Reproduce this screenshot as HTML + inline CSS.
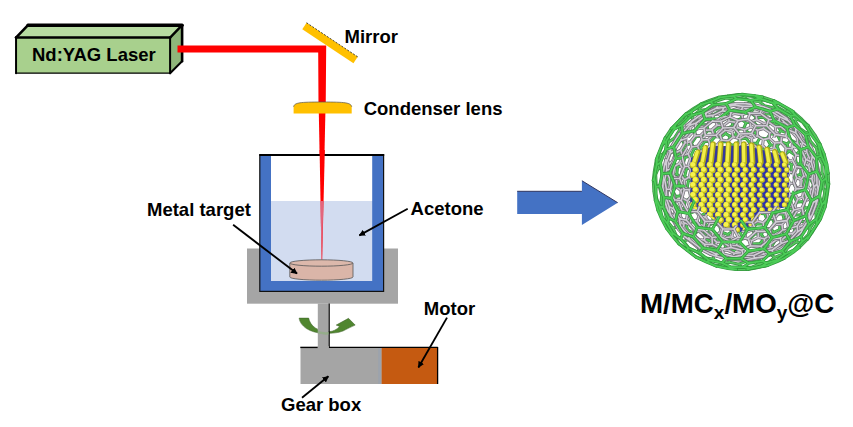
<!DOCTYPE html>
<html><head><meta charset="utf-8">
<style>
html,body{margin:0;padding:0;background:#fff;}
body{width:853px;height:427px;overflow:hidden;}
svg{display:block;}
text{font-family:"Liberation Sans",sans-serif;font-weight:bold;fill:#000;}
</style></head><body>
<svg width="853" height="427" viewBox="0 0 853 427">
<defs>
<marker id="ah" viewBox="0 0 10 10" refX="9" refY="5" markerWidth="3.5" markerHeight="3.5" orient="auto" markerUnits="strokeWidth">
<path d="M0,0 L10,5 L0,10 Z" fill="#000"/>
</marker>
</defs>
<!-- Laser box -->
<polygon points="16,37.6 28,25.2 182.1,25.2 170.1,37.6" fill="#B7DBA1"/>
<polygon points="170.1,37.6 182.1,25.2 182.1,61.2 170.1,73.2" fill="#8FB67A"/>
<rect x="16" y="37.6" width="154.1" height="35.6" fill="#A8D08D"/>
<g stroke="#000" fill="none" stroke-linecap="round">
<line x1="16.05" y1="37.6" x2="16.05" y2="73.2" stroke-width="2"/>
<line x1="16" y1="73.2" x2="170.1" y2="73.2" stroke-width="1.3"/>
<line x1="16" y1="37.6" x2="170.1" y2="37.6" stroke-width="2.5"/>
<line x1="170.1" y1="37.6" x2="170.1" y2="73.2" stroke-width="2"/>
<line x1="28" y1="25.2" x2="182.1" y2="25.2" stroke-width="3.4"/>
<line x1="182.1" y1="25.2" x2="182.1" y2="61.2" stroke-width="2.6"/>
<line x1="16" y1="37.6" x2="28" y2="25.2" stroke-width="2.6" stroke-linecap="round"/>
<line x1="170.1" y1="37.6" x2="182.1" y2="25.2" stroke-width="2.4" stroke-linecap="round"/>
<line x1="170.1" y1="73.2" x2="182.1" y2="61.2" stroke-width="2" stroke-linecap="round"/>
</g>
<text x="32" y="60.5" font-size="18.5">Nd:YAG Laser</text>
<!-- beam horizontal and vertical -->
<polygon points="177.5,45.6 326.2,45.6 325.7,107 318.5,107 318.2,52.4 177.5,52.4" fill="#FF0000"/>
<!-- mirror -->
<g transform="translate(330,43) rotate(33.7)">
<rect x="-30.75" y="-3.85" width="61.5" height="7.7" fill="#FFC000"/>
<line x1="-30.75" y1="-3.85" x2="30.75" y2="-3.85" stroke="#333" stroke-width="0.8" stroke-dasharray="2,1.5"/>
</g>
<text x="344.5" y="43.4" font-size="18.5">Mirror</text>
<!-- beam below lens -->
<polygon points="318.8,112 325.4,112 322.1,262 321.6,262" fill="#FF0000"/>
<!-- lens -->
<path d="M293.6,113.6 L293.6,106.8 C294.3,102.6 300,102 322.6,102 C345,102 351,102.6 351.7,106.8 L351.7,113.6 Z" fill="#FFC000"/>
<path d="M293.6,106.8 C294.3,102.6 300,102 322.6,102 C345,102 351,102.6 351.7,106.8" fill="none" stroke="#555" stroke-width="0.7"/>
<text x="363.7" y="114.9" font-size="18.5">Condenser lens</text>

<!-- stage -->
<rect x="247" y="248.5" width="151" height="55.2" fill="#A5A5A5"/>
<!-- green curved arrow -->
<path d="M299.1,318.1 L308.7,318.1 C309.3,321.5 311.5,325.5 315.3,327.9 C318.5,330 323,331 329.3,331.6 C333,331.4 336.5,329.8 339.6,326.4 L336.2,325.1 L348.5,318.3 L355.2,325.1 C351,326.6 347.5,329 343,331 C338,332.8 333,333.4 325,333.4 C317,333.3 311,331.5 306.5,328.6 C302,325.5 299.6,322 299.1,318.1 Z" fill="#50862F" stroke="#3d5f28" stroke-width="0.5"/>
<!-- shaft -->
<rect x="317.8" y="303.6" width="11" height="44" fill="#A5A5A5"/>
<line x1="329.2" y1="303.6" x2="329.2" y2="347" stroke="#000" stroke-width="1.2"/>
<path d="M317.8,330.6 C321,332 325,332.4 328.7,332 L328.7,334.6 C325,335 321,334.8 317.8,333.6 Z" fill="#8FAF80" opacity="0.7"/>

<!-- beaker -->
<rect x="259.8" y="154.8" width="123.8" height="136.6" fill="#4472C4" stroke="#111" stroke-width="1.2"/>
<rect x="271" y="156" width="101.2" height="45" fill="#fff"/>
<rect x="271" y="201" width="101.2" height="80" fill="#D2DCF0"/>
<line x1="259.3" y1="155" x2="384.2" y2="155" stroke="#000" stroke-width="2"/>
<!-- beam through liquid -->
<polygon points="319.6,150 324.8,150 322.1,262 321.6,262" fill="#FF0000"/>
<polygon points="320.4,201 323.3,201 322.1,262 321.6,262" fill="#E0708A" opacity="0.9"/>
<!-- metal target -->
<path d="M289.8,263 L289.8,277 A31.6,3.2 0 0 0 353,277 L353,263" fill="#DAB5A8" stroke="#555" stroke-width="0.8"/>
<ellipse cx="321.4" cy="263" rx="31.6" ry="3.2" fill="#DCB8AB" stroke="#555" stroke-width="0.8"/>

<!-- arrows -->
<line x1="233.1" y1="224.8" x2="297" y2="273.6" stroke="#000" stroke-width="1.85" marker-end="url(#ah)"/>
<line x1="407.7" y1="208.8" x2="359.3" y2="235.4" stroke="#000" stroke-width="1.85" marker-end="url(#ah)"/>
<text x="147" y="215.8" font-size="18.5">Metal target</text>
<text x="410.6" y="214.7" font-size="18.5">Acetone</text>

<!-- gear box & motor -->
<rect x="300.5" y="347.5" width="81" height="36.5" fill="#A5A5A5"/>
<rect x="378.2" y="347.5" width="3.5" height="36.5" fill="#9CA3AD"/>
<rect x="381.6" y="347.5" width="56" height="36.5" fill="#C55A11"/>
<line x1="300.3" y1="347.4" x2="317.8" y2="347.4" stroke="#000" stroke-width="1.4"/>
<line x1="328.7" y1="347.4" x2="437.8" y2="347.4" stroke="#000" stroke-width="1.4"/>
<line x1="437.6" y1="347" x2="437.6" y2="384" stroke="#000" stroke-width="1.3"/>
<rect x="317.8" y="346" width="11" height="3" fill="#A5A5A5"/>


<line x1="447" y1="317.6" x2="418.4" y2="367.5" stroke="#000" stroke-width="1.85" marker-end="url(#ah)"/>
<line x1="302" y1="397.8" x2="328.4" y2="376.3" stroke="#000" stroke-width="1.85" marker-end="url(#ah)"/>
<text x="423.8" y="315" font-size="18.5">Motor</text>
<text x="281" y="410.6" font-size="18.5">Gear box</text>

<!-- big blue arrow -->
<polygon points="517.2,191.3 581.9,191.3 581.9,180.7 617.7,202.7 581.9,225.1 581.9,213.9 517.2,213.9" fill="#4472C4"/>
<polyline points="517.2,191.3 581.9,191.3" fill="none" stroke="#2F3560" stroke-width="1"/>
<polyline points="581.9,180.7 617.7,202.7" fill="none" stroke="#2F3560" stroke-width="1"/>

<!-- SPHERE -->
<g id="sphere"><defs>
<clipPath id="cpG"><path clip-rule="evenodd" d="M600,60 H860 V300 H600 Z M681,167 a59,53 0 1 0 118,0 a59,53 0 1 0 -118,0 Z"/></clipPath>
<clipPath id="cpS"><path clip-rule="evenodd" d="M600,60 H860 V300 H600 Z M688,138 L792,138 L792,203 L762,209 L750,220 L738,226 L722,220 L705,208 L688,203 Z"/></clipPath>
<clipPath id="cpCube"><polygon points="690,154 712,141 748,141 789,153 789,206 762,213 752,225 738,233 722,226 705,213 690,207"/></clipPath>
</defs>
<path d="M686.0,113.7L693.9,108.2 M686.0,113.7L681.7,118.0 M776.0,106.3L771.9,107.5 M776.0,106.3L772.6,102.7 M776.0,106.3L783.6,110.6 M772.6,102.7L763.1,99.8 M772.6,102.7L778.2,103.4 M778.2,103.4L773.7,100.6 M778.2,103.4L787.3,108.6 M773.7,100.6L762.4,97.0 M763.1,99.8L759.2,101.6 M763.1,99.8L757.5,96.9 M757.5,96.9L746.5,95.8 M757.5,96.9L762.4,97.0 M746.5,95.8L743.3,98.0 M746.5,95.8L738.7,94.6 M738.7,94.6L727.7,95.9 M738.7,94.6L742.2,94.4 M727.7,95.9L725.6,98.1 M727.7,95.9L718.9,97.2 M718.9,97.2L709.4,100.5 M709.4,100.5L708.4,102.4 M709.4,100.5L700.9,104.0 M700.9,104.0L693.9,108.2 M693.9,108.2L693.9,109.5 M725.5,133.5L720.5,137.1 M725.5,133.5L725.7,128.8 M725.5,133.5L730.2,136.4 M725.7,128.8L719.8,126.8 M725.7,128.8L732.1,126.2 M732.1,126.2L733.3,120.9 M732.1,126.2L737.3,129.5 M733.3,120.9L727.0,118.2 M733.3,120.9L740.7,118.9 M740.7,118.9L742.8,113.7 M740.7,118.9L746.1,122.8 M742.8,113.7L736.4,110.2 M742.8,113.7L750.8,112.8 M750.8,112.8L753.5,108.4 M750.8,112.8L756.2,117.2 M753.5,108.4L747.6,104.4 M753.5,108.4L761.6,108.9 M761.6,108.9L764.5,105.7 M761.6,108.9L766.7,113.6 M764.5,105.7L759.2,101.6 M764.5,105.7L771.9,107.5 M771.9,107.5L776.6,112.2 M719.8,126.8L714.1,131.0 M719.8,126.8L719.8,121.6 M719.8,121.6L713.2,120.1 M719.8,121.6L727.0,118.2 M727.0,118.2L728.0,112.7 M728.0,112.7L720.9,110.7 M728.0,112.7L736.4,110.2 M736.4,110.2L738.5,105.4 M738.5,105.4L731.3,102.8 M738.5,105.4L747.6,104.4 M747.6,104.4L750.3,100.8 M750.3,100.8L743.3,98.0 M750.3,100.8L759.2,101.6 M713.2,120.1L706.9,124.8 M713.2,120.1L713.1,114.8 M713.1,114.8L706.1,114.3 M713.1,114.8L720.9,110.7 M720.9,110.7L722.0,105.7 M722.0,105.7L714.5,105.0 M722.0,105.7L731.3,102.8 M731.3,102.8L733.4,99.0 M733.4,99.0L725.6,98.1 M733.4,99.0L743.3,98.0 M706.1,114.3L699.3,119.6 M706.1,114.3L706.3,109.6 M706.3,109.6L699.4,110.6 M706.3,109.6L714.5,105.0 M714.5,105.0L715.9,101.3 M715.9,101.3L708.4,102.4 M715.9,101.3L725.6,98.1 M699.4,110.6L692.3,116.3 M699.4,110.6L700.2,107.1 M700.2,107.1L693.9,109.5 M700.2,107.1L708.4,102.4 M693.9,109.5L686.7,115.3 M676.8,173.7L672.8,177.7 M676.8,173.7L677.6,167.3 M676.8,173.7L680.4,177.7 M677.6,167.3L673.9,163.3 M677.6,167.3L682.9,164.5 M682.9,164.5L684.9,157.7 M682.9,164.5L686.4,169.1 M684.9,157.7L681.5,152.9 M684.9,157.7L691.0,155.5 M691.0,155.5L694.3,148.8 M691.0,155.5L694.3,160.4 M694.3,148.8L691.5,143.4 M694.3,148.8L700.7,147.5 M700.7,147.5L704.8,141.5 M700.7,147.5L703.5,152.7 M704.8,141.5L702.9,136.0 M704.8,141.5L710.8,141.4 M710.8,141.4L715.2,136.4 M710.8,141.4L713.2,146.4 M715.2,136.4L714.1,131.0 M715.2,136.4L720.5,137.1 M720.5,137.1L722.3,141.8 M673.9,163.3L669.2,167.6 M673.9,163.3L675.7,155.8 M675.7,155.8L672.8,151.1 M675.7,155.8L681.5,152.9 M681.5,152.9L684.9,145.4 M684.9,145.4L682.4,140.0 M684.9,145.4L691.5,143.4 M691.5,143.4L696.1,136.6 M696.1,136.6L694.3,131.0 M696.1,136.6L702.9,136.0 M702.9,136.0L707.9,130.4 M707.9,130.4L706.9,124.8 M707.9,130.4L714.1,131.0 M672.8,151.1L667.5,155.3 M672.8,151.1L676.1,142.9 M676.1,142.9L674.4,138.0 M676.1,142.9L682.4,140.0 M682.4,140.0L687.3,132.5 M687.3,132.5L686.1,127.3 M687.3,132.5L694.3,131.0 M694.3,131.0L700.0,124.8 M700.0,124.8L699.3,119.6 M700.0,124.8L706.9,124.8 M674.4,138.0L668.8,141.9 M674.4,138.0L679.5,130.0 M679.5,130.0L679.3,125.6 M679.5,130.0L686.1,127.3 M686.1,127.3L692.4,120.6 M692.4,120.6L692.3,116.3 M692.4,120.6L699.3,119.6 M679.3,125.6L673.8,128.9 M679.3,125.6L685.8,118.6 M685.8,118.6L686.7,115.3 M685.8,118.6L692.3,116.3 M686.7,115.3L681.7,118.0 M655.3,200.2L653.9,191.5 M653.9,191.5L653.3,180.4 M653.9,191.5L655.3,193.1 M655.3,193.1L656.2,185.0 M655.3,193.1L657.9,202.8 M656.2,185.0L655.7,174.6 M656.2,185.0L659.3,186.7 M659.3,186.7L661.8,179.6 M659.3,186.7L661.6,195.6 M661.8,179.6L661.7,170.3 M661.8,179.6L665.7,181.6 M665.7,181.6L669.1,175.6 M665.7,181.6L667.6,189.4 M669.1,175.6L669.2,167.6 M669.1,175.6L672.8,177.7 M672.8,177.7L674.3,184.4 M653.3,180.4L654.3,171.6 M654.3,171.6L656.3,159.9 M654.3,171.6L655.7,174.6 M655.7,174.6L658.7,167.1 M658.7,167.1L660.6,156.6 M658.7,167.1L661.7,170.3 M661.7,170.3L665.8,164.3 M665.8,164.3L667.5,155.3 M665.8,164.3L669.2,167.6 M656.3,159.9L659.5,152.5 M659.5,152.5L663.8,142.0 M659.5,152.5L660.6,156.6 M660.6,156.6L665.2,151.0 M665.2,151.0L668.8,141.9 M665.2,151.0L667.5,155.3 M665.2,137.9L671.4,128.7 M665.2,137.9L663.8,142.0 M663.8,142.0L668.4,137.1 M668.4,137.1L673.8,128.9 M668.4,137.1L668.8,141.9 M671.4,128.7L675.4,124.7 M675.4,124.7L681.7,118.0 M675.4,124.7L673.8,128.9 M826.6,179.0L824.2,179.0 M826.6,179.0L827.0,171.9 M826.6,179.0L827.0,188.1 M827.0,171.9L824.6,163.1 M827.0,171.9L828.2,173.3 M828.2,173.3L828.7,184.0 M824.6,163.1L822.1,164.0 M824.6,163.1L823.1,154.3 M823.1,154.3L818.6,146.1 M823.1,154.3L824.1,154.2 M820.0,144.1L815.0,135.1 M818.6,146.1L816.4,148.1 M818.6,146.1L814.7,136.9 M814.7,136.9L808.7,130.6 M814.7,136.9L815.0,135.1 M815.0,135.1L808.1,125.5 M808.1,125.5L801.8,119.2 M808.7,130.6L807.1,133.5 M808.7,130.6L802.7,122.3 M802.7,122.3L796.3,118.5 M802.7,122.3L801.8,119.2 M801.8,119.2L793.4,111.8 M793.4,111.8L787.3,108.6 M796.3,118.5L795.6,121.9 M796.3,118.5L789.3,112.1 M789.3,112.1L783.6,110.6 M789.3,112.1L787.3,108.6 M783.6,110.6L783.6,114.1 M703.1,242.3L707.7,247.4 M703.1,242.3L697.0,240.0 M703.1,242.3L706.7,239.4 M697.0,240.0L694.0,243.2 M697.0,240.0L694.0,233.7 M694.0,233.7L687.6,229.8 M694.0,233.7L698.3,231.1 M687.6,229.8L683.6,232.4 M687.6,229.8L685.7,222.6 M685.7,222.6L679.8,217.2 M685.7,222.6L690.5,220.4 M679.8,217.2L675.0,218.7 M679.8,217.2L679.3,209.7 M679.3,209.7L674.6,203.3 M679.3,209.7L684.4,208.2 M674.6,203.3L669.6,203.7 M674.6,203.3L675.6,196.5 M675.6,196.5L672.3,190.0 M675.6,196.5L680.6,195.7 M672.3,190.0L667.6,189.4 M672.3,190.0L674.3,184.4 M674.3,184.4L679.0,184.2 M694.0,243.2L699.0,249.1 M694.0,243.2L687.0,239.5 M687.0,239.5L683.9,241.8 M687.0,239.5L683.6,232.4 M683.6,232.4L676.9,226.8 M676.9,226.8L673.0,228.2 M676.9,226.8L675.0,218.7 M675.0,218.7L669.5,211.6 M669.5,211.6L665.2,212.1 M669.5,211.6L669.6,203.7 M669.6,203.7L665.9,196.2 M665.9,196.2L661.6,195.6 M665.9,196.2L667.6,189.4 M683.9,241.8L689.3,248.6 M683.9,241.8L676.6,236.2 M676.6,236.2L674.2,237.0 M676.6,236.2L673.0,228.2 M673.0,228.2L666.8,220.6 M666.8,220.6L663.9,220.7 M666.8,220.6L665.2,212.1 M665.2,212.1L661.0,203.5 M661.0,203.5L657.9,202.8 M661.0,203.5L661.6,195.6 M674.2,237.0L679.8,244.3 M674.2,237.0L667.7,229.1 M667.7,229.1L666.6,228.4 M667.7,229.1L663.9,220.7 M663.9,220.7L659.2,211.4 M659.2,211.4L658.0,210.3 M659.2,211.4L657.9,202.8 M727.0,191.0L726.3,196.2 M727.0,191.0L723.5,187.5 M727.0,191.0L732.2,190.1 M723.5,187.5L718.1,189.1 M723.5,187.5L725.3,182.0 M725.3,182.0L721.7,177.7 M725.3,182.0L730.9,181.2 M721.7,177.7L715.8,179.1 M721.7,177.7L723.9,171.8 M723.9,171.8L720.3,166.9 M723.9,171.8L729.8,171.1 M720.3,166.9L714.1,168.0 M720.3,166.9L722.9,161.2 M722.9,161.2L719.5,156.1 M722.9,161.2L728.9,160.5 M719.5,156.1L713.2,156.7 M719.5,156.1L722.3,150.9 M722.3,150.9L719.3,146.2 M722.3,150.9L728.4,150.3 M719.3,146.2L713.2,146.4 M719.3,146.2L722.3,141.8 M722.3,141.8L728.2,141.4 M718.1,189.1L717.2,194.9 M718.1,189.1L714.0,185.1 M714.0,185.1L708.2,186.7 M714.0,185.1L715.8,179.1 M715.8,179.1L711.8,174.3 M711.8,174.3L705.6,175.8 M711.8,174.3L714.1,168.0 M714.1,168.0L710.3,162.8 M710.3,162.8L703.9,164.0 M710.3,162.8L713.2,156.7 M713.2,156.7L709.9,151.7 M709.9,151.7L703.5,152.7 M709.9,151.7L713.2,146.4 M708.2,186.7L707.1,193.0 M708.2,186.7L703.8,182.2 M703.8,182.2L698.0,183.9 M703.8,182.2L705.6,175.8 M705.6,175.8L701.5,170.7 M701.5,170.7L695.4,172.3 M701.5,170.7L703.9,164.0 M703.9,164.0L700.4,158.9 M700.4,158.9L694.3,160.4 M700.4,158.9L703.5,152.7 M698.0,183.9L696.8,190.4 M698.0,183.9L693.8,179.1 M693.8,179.1L688.5,180.8 M693.8,179.1L695.4,172.3 M695.4,172.3L691.8,167.2 M691.8,167.2L686.4,169.1 M691.8,167.2L694.3,160.4 M688.5,180.8L687.2,187.4 M688.5,180.8L684.8,175.9 M684.8,175.9L680.4,177.7 M684.8,175.9L686.4,169.1 M680.4,177.7L679.0,184.2 M777.3,161.2L774.2,165.5 M777.3,161.2L775.6,156.1 M777.3,161.2L782.4,163.6 M775.6,156.1L769.6,154.9 M775.6,156.1L779.4,152.0 M779.4,152.0L777.0,146.1 M779.4,152.0L785.1,154.5 M777.0,146.1L770.5,144.7 M777.0,146.1L780.7,141.6 M780.7,141.6L777.5,135.2 M780.7,141.6L787.1,144.0 M777.5,135.2L770.4,133.6 M777.5,135.2L780.8,130.7 M780.8,130.7L776.7,124.5 M780.8,130.7L787.7,133.1 M776.7,124.5L769.1,122.9 M776.7,124.5L779.4,120.6 M779.4,120.6L774.4,115.1 M779.4,120.6L786.5,122.8 M774.4,115.1L766.7,113.6 M774.4,115.1L776.6,112.2 M776.6,112.2L783.6,114.1 M769.6,154.9L766.5,159.6 M769.6,154.9L766.9,149.5 M766.9,149.5L760.4,148.7 M766.9,149.5L770.5,144.7 M770.5,144.7L767.0,138.7 M767.0,138.7L759.8,138.0 M767.0,138.7L770.4,133.6 M770.4,133.6L766.1,127.6 M766.1,127.6L758.4,127.1 M766.1,127.6L769.1,122.9 M769.1,122.9L764.1,117.5 M764.1,117.5L756.2,117.2 M764.1,117.5L766.7,113.6 M760.4,148.7L757.4,153.8 M760.4,148.7L756.8,143.3 M756.8,143.3L750.1,143.3 M756.8,143.3L759.8,138.0 M759.8,138.0L755.5,132.5 M755.5,132.5L748.4,132.9 M755.5,132.5L758.4,127.1 M758.4,127.1L753.5,122.1 M753.5,122.1L746.1,122.8 M753.5,122.1L756.2,117.2 M750.1,143.3L747.4,148.5 M750.1,143.3L746.0,138.3 M746.0,138.3L739.8,139.1 M746.0,138.3L748.4,132.9 M748.4,132.9L743.8,128.2 M743.8,128.2L737.3,129.5 M743.8,128.2L746.1,122.8 M739.8,139.1L737.4,144.3 M739.8,139.1L735.6,134.9 M735.6,134.9L730.2,136.4 M735.6,134.9L737.3,129.5 M730.2,136.4L728.2,141.4 M784.2,258.3L781.6,259.1 M799.5,247.3L796.2,248.6 M799.5,247.3L807.7,239.0 M807.7,239.0L812.1,232.5 M812.1,232.5L808.3,234.5 M812.1,232.5L818.1,222.9 M818.1,222.9L819.9,216.2 M818.1,222.9L820.6,218.7 M819.9,216.2L816.1,218.7 M819.9,216.2L823.5,206.8 M823.5,206.8L823.0,201.1 M823.5,206.8L826.1,202.1 M823.0,201.1L819.4,203.8 M823.0,201.1L824.7,192.9 M824.7,192.9L823.1,187.1 M824.7,192.9L827.0,188.1 M781.6,259.1L772.1,262.9 M781.6,259.1L787.3,254.4 M787.3,254.4L783.7,253.6 M787.3,254.4L796.2,248.6 M796.2,248.6L800.7,242.3 M800.7,242.3L796.1,242.2 M800.7,242.3L808.3,234.5 M808.3,234.5L810.6,227.4 M810.6,227.4L805.6,228.2 M810.6,227.4L816.1,218.7 M816.1,218.7L816.0,212.1 M816.0,212.1L811.1,213.7 M816.0,212.1L819.4,203.8 M819.4,203.8L818.0,197.5 M783.7,253.6L774.8,257.3 M783.7,253.6L788.0,247.7 M788.0,247.7L783.7,245.9 M788.0,247.7L796.1,242.2 M796.1,242.2L798.8,235.3 M798.8,235.3L793.6,234.4 M798.8,235.3L805.6,228.2 M805.6,228.2L806.2,221.3 M806.2,221.3L800.8,221.5 M806.2,221.3L811.1,213.7 M811.1,213.7L810.1,207.1 M783.7,245.9L775.7,249.3 M783.7,245.9L786.6,239.5 M786.6,239.5L782.1,237.5 M786.6,239.5L793.6,234.4 M793.6,234.4L795.0,227.7 M795.0,227.7L789.9,226.7 M795.0,227.7L800.8,221.5 M800.8,221.5L800.3,215.0 M782.1,237.5L775.1,240.6 M782.1,237.5L783.9,231.3 M783.9,231.3L779.6,229.5 M783.9,231.3L789.9,226.7 M789.9,226.7L789.8,220.6 M779.6,229.5L773.7,232.3 M779.6,229.5L779.9,224.0 M714.0,247.2L713.1,242.3 M714.0,247.2L719.9,250.4 M714.0,247.2L707.7,247.4 M719.9,250.4L726.0,248.3 M719.9,250.4L720.4,255.1 M720.4,255.1L728.0,258.1 M720.4,255.1L713.4,255.6 M728.0,258.1L734.7,255.7 M728.0,258.1L729.6,262.3 M729.6,262.3L738.9,264.2 M729.6,262.3L722.0,263.2 M738.9,264.2L746.0,261.4 M738.9,264.2L741.4,267.2 M741.4,267.2L751.8,267.2 M741.4,267.2L733.6,268.3 M751.8,267.2L759.1,264.1 M751.8,267.2L754.7,268.3 M754.7,268.3L765.1,266.1 M754.7,268.3L747.2,269.5 M765.1,266.1L772.1,262.9 M765.1,266.1L767.8,265.4 M726.0,248.3L724.5,243.1 M726.0,248.3L733.2,250.7 M733.2,250.7L739.2,247.3 M733.2,250.7L734.7,255.7 M734.7,255.7L743.5,257.2 M743.5,257.2L749.8,253.1 M743.5,257.2L746.0,261.4 M746.0,261.4L755.8,261.3 M755.8,261.3L762.1,256.8 M755.8,261.3L759.1,264.1 M759.1,264.1L769.0,262.0 M769.0,262.0L774.8,257.3 M769.0,262.0L772.1,262.9 M739.2,247.3L737.1,242.1 M739.2,247.3L747.1,248.3 M747.1,248.3L752.3,243.9 M747.1,248.3L749.8,253.1 M749.8,253.1L758.6,252.9 M758.6,252.9L763.7,247.7 M758.6,252.9L762.1,256.8 M762.1,256.8L771.2,254.9 M771.2,254.9L775.7,249.3 M771.2,254.9L774.8,257.3 M752.3,243.9L749.8,238.9 M752.3,243.9L760.1,243.5 M760.1,243.5L764.1,238.5 M760.1,243.5L763.7,247.7 M763.7,247.7L771.7,246.1 M771.7,246.1L775.1,240.6 M771.7,246.1L775.7,249.3 M764.1,238.5L761.2,234.1 M764.1,238.5L771.1,237.2 M771.1,237.2L773.7,232.3 M771.1,237.2L775.1,240.6 M773.7,232.3L770.6,228.4 M731.1,198.6L734.7,194.8 M731.1,198.6L732.1,203.4 M731.1,198.6L726.3,196.2 M732.1,203.4L737.8,204.9 M732.1,203.4L727.5,206.9 M727.5,206.9L728.5,212.4 M727.5,206.9L722.2,204.3 M728.5,212.4L734.7,214.4 M728.5,212.4L723.6,216.1 M723.6,216.1L724.7,222.2 M723.6,216.1L717.7,213.3 M724.7,222.2L731.3,224.5 M724.7,222.2L719.7,225.7 M719.7,225.7L721.0,231.8 M719.7,225.7L713.4,222.8 M721.0,231.8L727.8,234.5 M721.0,231.8L716.1,234.7 M716.1,234.7L717.7,240.3 M716.1,234.7L709.7,231.7 M717.7,240.3L724.5,243.1 M717.7,240.3L713.1,242.3 M713.1,242.3L706.7,239.4 M737.8,204.9L741.6,200.7 M737.8,204.9L739.4,210.3 M739.4,210.3L745.6,211.7 M739.4,210.3L734.7,214.4 M734.7,214.4L736.4,220.3 M736.4,220.3L743.2,221.9 M736.4,220.3L731.3,224.5 M731.3,224.5L733.1,230.7 M733.1,230.7L740.3,232.4 M733.1,230.7L727.8,234.5 M727.8,234.5L729.7,240.2 M729.7,240.2L737.1,242.1 M729.7,240.2L724.5,243.1 M745.6,211.7L749.7,207.0 M745.6,211.7L747.8,217.3 M747.8,217.3L754.2,218.2 M747.8,217.3L743.2,221.9 M743.2,221.9L745.3,227.8 M745.3,227.8L752.3,228.7 M745.3,227.8L740.3,232.4 M740.3,232.4L742.4,238.1 M742.4,238.1L749.8,238.9 M742.4,238.1L737.1,242.1 M754.2,218.2L758.3,213.3 M754.2,218.2L756.6,223.7 M756.6,223.7L762.8,223.9 M756.6,223.7L752.3,228.7 M752.3,228.7L754.6,234.1 M754.6,234.1L761.2,234.1 M754.6,234.1L749.8,238.9 M762.8,223.9L766.7,218.9 M762.8,223.9L765.1,228.9 M765.1,228.9L770.6,228.4 M765.1,228.9L761.2,234.1 M770.6,228.4L774.4,223.5 M777.1,170.4L782.2,169.4 M777.1,170.4L775.2,175.2 M777.1,170.4L774.2,165.5 M775.2,175.2L778.6,180.2 M775.2,175.2L769.5,175.3 M769.5,175.3L766.9,180.4 M769.5,175.3L766.5,170.1 M766.9,180.4L770.1,185.8 M766.9,180.4L760.8,180.5 M760.8,180.5L757.7,185.8 M760.8,180.5L757.8,175.3 M757.7,185.8L760.6,191.3 M757.7,185.8L751.7,185.8 M751.7,185.8L748.3,190.9 M751.7,185.8L748.7,180.6 M748.3,190.9L750.8,196.4 M748.3,190.9L742.7,190.6 M742.7,190.6L739.6,195.4 M742.7,190.6L740.0,185.7 M739.6,195.4L741.6,200.7 M739.6,195.4L734.7,194.8 M734.7,194.8L732.2,190.1 M778.6,180.2L784.1,179.4 M778.6,180.2L776.2,185.7 M776.2,185.7L779.2,191.2 M776.2,185.7L770.1,185.8 M770.1,185.8L767.0,191.4 M767.0,191.4L769.9,197.2 M767.0,191.4L760.6,191.3 M760.6,191.3L757.1,196.8 M757.1,196.8L759.7,202.6 M757.1,196.8L750.8,196.4 M750.8,196.4L747.3,201.5 M747.3,201.5L749.7,207.0 M747.3,201.5L741.6,200.7 M779.2,191.2L785.1,190.7 M779.2,191.2L776.1,197.1 M776.1,197.1L778.7,202.8 M776.1,197.1L769.9,197.2 M769.9,197.2L766.2,202.9 M766.2,202.9L768.7,208.6 M766.2,202.9L759.7,202.6 M759.7,202.6L755.9,207.8 M755.9,207.8L758.3,213.3 M755.9,207.8L749.7,207.0 M778.7,202.8L784.7,202.7 M778.7,202.8L775.0,208.6 M775.0,208.6L777.0,213.8 M775.0,208.6L768.7,208.6 M768.7,208.6L764.6,213.8 M764.6,213.8L766.7,218.9 M764.6,213.8L758.3,213.3 M777.0,213.8L782.8,214.1 M777.0,213.8L772.8,219.0 M772.8,219.0L774.4,223.5 M772.8,219.0L766.7,218.9 M774.4,223.5L779.9,224.0 M823.1,187.1L820.0,189.0 M823.1,187.1L824.2,179.0 M820.0,189.0L818.0,197.5 M820.0,189.0L817.6,182.4 M817.6,182.4L813.4,184.2 M817.6,182.4L818.6,174.2 M813.4,184.2L811.4,192.4 M813.4,184.2L809.8,178.0 M809.8,178.0L804.7,179.8 M809.8,178.0L810.6,170.1 M804.7,179.8L802.8,187.4 M804.7,179.8L800.6,174.3 M800.6,174.3L795.1,176.1 M800.6,174.3L801.1,166.9 M795.1,176.1L793.3,183.0 M795.1,176.1L791.0,171.4 M791.0,171.4L785.8,173.3 M791.0,171.4L791.4,164.8 M785.8,173.3L784.1,179.4 M785.8,173.3L782.2,169.4 M782.2,169.4L782.4,163.6 M818.0,197.5L813.6,199.1 M813.6,199.1L810.1,207.1 M813.6,199.1L811.4,192.4 M811.4,192.4L806.0,193.8 M806.0,193.8L802.8,201.5 M806.0,193.8L802.8,187.4 M802.8,187.4L796.9,188.7 M796.9,188.7L794.1,195.9 M796.9,188.7L793.3,183.0 M793.3,183.0L787.6,184.3 M787.6,184.3L785.1,190.7 M787.6,184.3L784.1,179.4 M810.1,207.1L804.7,208.1 M804.7,208.1L800.3,215.0 M804.7,208.1L802.8,201.5 M802.8,201.5L796.8,202.2 M796.8,202.2L792.8,208.8 M796.8,202.2L794.1,195.9 M794.1,195.9L788.0,196.5 M788.0,196.5L784.7,202.7 M788.0,196.5L785.1,190.7 M800.3,215.0L794.4,215.0 M794.4,215.0L789.8,220.6 M794.4,215.0L792.8,208.8 M792.8,208.8L786.8,208.7 M786.8,208.7L782.8,214.1 M786.8,208.7L784.7,202.7 M789.8,220.6L784.2,219.7 M784.2,219.7L779.9,224.0 M784.2,219.7L782.8,214.1 M828.7,184.0L827.8,191.4 M827.8,191.4L826.1,202.1 M827.8,191.4L827.0,188.1 M825.0,207.2L826.1,202.1 M679.0,243.9L679.8,244.3 M695.9,257.1L695.6,256.6 M716.3,266.1L714.6,265.0 M736.4,269.5L733.6,268.3 M736.4,269.5L747.2,269.5 M679.8,244.3L687.7,250.3 M687.7,250.3L689.3,248.6 M687.7,250.3L695.6,256.6 M695.6,256.6L704.7,260.5 M704.7,260.5L704.9,257.8 M704.7,260.5L714.6,265.0 M714.6,265.0L723.4,266.2 M723.4,266.2L722.0,263.2 M723.4,266.2L733.6,268.3 M689.3,248.6L697.4,252.2 M697.4,252.2L699.0,249.1 M697.4,252.2L704.9,257.8 M704.9,257.8L713.3,259.3 M713.3,259.3L713.4,255.6 M713.3,259.3L722.0,263.2 M699.0,249.1L706.5,251.0 M706.5,251.0L707.7,247.4 M706.5,251.0L713.4,255.6 M679.0,184.2L682.0,189.0 M682.0,189.0L687.2,187.4 M682.0,189.0L680.6,195.7 M680.6,195.7L684.7,201.0 M684.7,201.0L690.1,199.0 M684.7,201.0L684.4,208.2 M684.4,208.2L689.7,213.4 M689.7,213.4L695.1,211.1 M689.7,213.4L690.5,220.4 M690.5,220.4L696.7,224.9 M696.7,224.9L701.9,222.4 M696.7,224.9L698.3,231.1 M698.3,231.1L704.8,234.4 M704.8,234.4L709.7,231.7 M704.8,234.4L706.7,239.4 M687.2,187.4L691.1,192.2 M691.1,192.2L696.8,190.4 M691.1,192.2L690.1,199.0 M690.1,199.0L695.1,204.0 M695.1,204.0L700.9,201.7 M695.1,204.0L695.1,211.1 M695.1,211.1L701.0,215.6 M701.0,215.6L706.6,212.8 M701.0,215.6L701.9,222.4 M701.9,222.4L708.3,225.9 M708.3,225.9L713.4,222.8 M708.3,225.9L709.7,231.7 M696.8,190.4L701.5,195.0 M701.5,195.0L707.1,193.0 M701.5,195.0L700.9,201.7 M700.9,201.7L706.4,206.0 M706.4,206.0L711.9,203.4 M706.4,206.0L706.6,212.8 M706.6,212.8L712.6,216.5 M712.6,216.5L717.7,213.3 M712.6,216.5L713.4,222.8 M707.1,193.0L712.1,197.1 M712.1,197.1L717.2,194.9 M712.1,197.1L711.9,203.4 M711.9,203.4L717.3,207.1 M717.3,207.1L722.2,204.3 M717.3,207.1L717.7,213.3 M717.2,194.9L721.9,198.4 M721.9,198.4L726.3,196.2 M721.9,198.4L722.2,204.3 M728.2,141.4L731.2,145.2 M731.2,145.2L737.4,144.3 M731.2,145.2L728.4,150.3 M728.4,150.3L731.6,154.9 M731.6,154.9L738.0,154.2 M731.6,154.9L728.9,160.5 M728.9,160.5L732.4,165.5 M732.4,165.5L738.6,165.0 M732.4,165.5L729.8,171.1 M729.8,171.1L733.3,176.1 M733.3,176.1L739.3,175.8 M733.3,176.1L730.9,181.2 M730.9,181.2L734.3,185.8 M734.3,185.8L740.0,185.7 M734.3,185.8L732.2,190.1 M737.4,144.3L740.9,148.8 M740.9,148.8L747.4,148.5 M740.9,148.8L738.0,154.2 M738.0,154.2L741.5,159.3 M741.5,159.3L748.1,159.0 M741.5,159.3L738.6,165.0 M738.6,165.0L742.1,170.3 M742.1,170.3L748.5,170.1 M742.1,170.3L739.3,175.8 M739.3,175.8L742.7,180.8 M742.7,180.8L748.7,180.6 M742.7,180.8L740.0,185.7 M747.4,148.5L751.0,153.6 M751.0,153.6L757.4,153.8 M751.0,153.6L748.1,159.0 M748.1,159.0L751.6,164.5 M751.6,164.5L757.9,164.5 M751.6,164.5L748.5,170.1 M748.5,170.1L751.8,175.4 M751.8,175.4L757.8,175.3 M751.8,175.4L748.7,180.6 M757.4,153.8L760.7,159.2 M760.7,159.2L766.5,159.6 M760.7,159.2L757.9,164.5 M757.9,164.5L760.9,170.0 M760.9,170.0L766.5,170.1 M760.9,170.0L757.8,175.3 M766.5,159.6L769.3,165.1 M769.3,165.1L774.2,165.5 M769.3,165.1L766.5,170.1 M783.6,114.1L788.7,119.2 M788.7,119.2L795.6,121.9 M788.7,119.2L786.5,122.8 M786.5,122.8L790.8,129.0 M790.8,129.0L797.7,132.2 M790.8,129.0L787.7,133.1 M787.7,133.1L790.9,140.0 M790.9,140.0L797.5,143.6 M790.9,140.0L787.1,144.0 M787.1,144.0L789.2,151.0 M789.2,151.0L795.1,154.9 M789.2,151.0L785.1,154.5 M785.1,154.5L786.3,161.0 M786.3,161.0L791.4,164.8 M786.3,161.0L782.4,163.6 M795.6,121.9L800.4,128.8 M800.4,128.8L807.1,133.5 M800.4,128.8L797.7,132.2 M797.7,132.2L801.3,139.9 M801.3,139.9L807.8,144.8 M801.3,139.9L797.5,143.6 M797.5,143.6L799.6,151.5 M799.6,151.5L805.5,156.4 M799.6,151.5L795.1,154.9 M795.1,154.9L796.0,162.2 M796.0,162.2L801.1,166.9 M796.0,162.2L791.4,164.8 M807.1,133.5L810.9,141.8 M810.9,141.8L816.4,148.1 M810.9,141.8L807.8,144.8 M807.8,144.8L809.8,153.5 M809.8,153.5L814.9,159.5 M809.8,153.5L805.5,156.4 M805.5,156.4L806.0,164.5 M806.0,164.5L810.6,170.1 M806.0,164.5L801.1,166.9 M816.4,148.1L818.4,157.1 M818.4,157.1L822.1,164.0 M818.4,157.1L814.9,159.5 M814.9,159.5L815.1,168.0 M815.1,168.0L818.6,174.2 M815.1,168.0L810.6,170.1 M822.1,164.0L822.1,172.5 M822.1,172.5L824.2,179.0 M822.1,172.5L818.6,174.2" fill="none" stroke="#37943f" stroke-width="3" stroke-linecap="round" stroke-linejoin="round" /><path d="M686.0,113.7L693.9,108.2 M686.0,113.7L681.7,118.0 M776.0,106.3L771.9,107.5 M776.0,106.3L772.6,102.7 M776.0,106.3L783.6,110.6 M772.6,102.7L763.1,99.8 M772.6,102.7L778.2,103.4 M778.2,103.4L773.7,100.6 M778.2,103.4L787.3,108.6 M773.7,100.6L762.4,97.0 M763.1,99.8L759.2,101.6 M763.1,99.8L757.5,96.9 M757.5,96.9L746.5,95.8 M757.5,96.9L762.4,97.0 M746.5,95.8L743.3,98.0 M746.5,95.8L738.7,94.6 M738.7,94.6L727.7,95.9 M738.7,94.6L742.2,94.4 M727.7,95.9L725.6,98.1 M727.7,95.9L718.9,97.2 M718.9,97.2L709.4,100.5 M709.4,100.5L708.4,102.4 M709.4,100.5L700.9,104.0 M700.9,104.0L693.9,108.2 M693.9,108.2L693.9,109.5 M725.5,133.5L720.5,137.1 M725.5,133.5L725.7,128.8 M725.5,133.5L730.2,136.4 M725.7,128.8L719.8,126.8 M725.7,128.8L732.1,126.2 M732.1,126.2L733.3,120.9 M732.1,126.2L737.3,129.5 M733.3,120.9L727.0,118.2 M733.3,120.9L740.7,118.9 M740.7,118.9L742.8,113.7 M740.7,118.9L746.1,122.8 M742.8,113.7L736.4,110.2 M742.8,113.7L750.8,112.8 M750.8,112.8L753.5,108.4 M750.8,112.8L756.2,117.2 M753.5,108.4L747.6,104.4 M753.5,108.4L761.6,108.9 M761.6,108.9L764.5,105.7 M761.6,108.9L766.7,113.6 M764.5,105.7L759.2,101.6 M764.5,105.7L771.9,107.5 M771.9,107.5L776.6,112.2 M719.8,126.8L714.1,131.0 M719.8,126.8L719.8,121.6 M719.8,121.6L713.2,120.1 M719.8,121.6L727.0,118.2 M727.0,118.2L728.0,112.7 M728.0,112.7L720.9,110.7 M728.0,112.7L736.4,110.2 M736.4,110.2L738.5,105.4 M738.5,105.4L731.3,102.8 M738.5,105.4L747.6,104.4 M747.6,104.4L750.3,100.8 M750.3,100.8L743.3,98.0 M750.3,100.8L759.2,101.6 M713.2,120.1L706.9,124.8 M713.2,120.1L713.1,114.8 M713.1,114.8L706.1,114.3 M713.1,114.8L720.9,110.7 M720.9,110.7L722.0,105.7 M722.0,105.7L714.5,105.0 M722.0,105.7L731.3,102.8 M731.3,102.8L733.4,99.0 M733.4,99.0L725.6,98.1 M733.4,99.0L743.3,98.0 M706.1,114.3L699.3,119.6 M706.1,114.3L706.3,109.6 M706.3,109.6L699.4,110.6 M706.3,109.6L714.5,105.0 M714.5,105.0L715.9,101.3 M715.9,101.3L708.4,102.4 M715.9,101.3L725.6,98.1 M699.4,110.6L692.3,116.3 M699.4,110.6L700.2,107.1 M700.2,107.1L693.9,109.5 M700.2,107.1L708.4,102.4 M693.9,109.5L686.7,115.3 M676.8,173.7L672.8,177.7 M676.8,173.7L677.6,167.3 M676.8,173.7L680.4,177.7 M677.6,167.3L673.9,163.3 M677.6,167.3L682.9,164.5 M682.9,164.5L684.9,157.7 M682.9,164.5L686.4,169.1 M684.9,157.7L681.5,152.9 M684.9,157.7L691.0,155.5 M691.0,155.5L694.3,148.8 M691.0,155.5L694.3,160.4 M694.3,148.8L691.5,143.4 M694.3,148.8L700.7,147.5 M700.7,147.5L704.8,141.5 M700.7,147.5L703.5,152.7 M704.8,141.5L702.9,136.0 M704.8,141.5L710.8,141.4 M710.8,141.4L715.2,136.4 M710.8,141.4L713.2,146.4 M715.2,136.4L714.1,131.0 M715.2,136.4L720.5,137.1 M720.5,137.1L722.3,141.8 M673.9,163.3L669.2,167.6 M673.9,163.3L675.7,155.8 M675.7,155.8L672.8,151.1 M675.7,155.8L681.5,152.9 M681.5,152.9L684.9,145.4 M684.9,145.4L682.4,140.0 M684.9,145.4L691.5,143.4 M691.5,143.4L696.1,136.6 M696.1,136.6L694.3,131.0 M696.1,136.6L702.9,136.0 M702.9,136.0L707.9,130.4 M707.9,130.4L706.9,124.8 M707.9,130.4L714.1,131.0 M672.8,151.1L667.5,155.3 M672.8,151.1L676.1,142.9 M676.1,142.9L674.4,138.0 M676.1,142.9L682.4,140.0 M682.4,140.0L687.3,132.5 M687.3,132.5L686.1,127.3 M687.3,132.5L694.3,131.0 M694.3,131.0L700.0,124.8 M700.0,124.8L699.3,119.6 M700.0,124.8L706.9,124.8 M674.4,138.0L668.8,141.9 M674.4,138.0L679.5,130.0 M679.5,130.0L679.3,125.6 M679.5,130.0L686.1,127.3 M686.1,127.3L692.4,120.6 M692.4,120.6L692.3,116.3 M692.4,120.6L699.3,119.6 M679.3,125.6L673.8,128.9 M679.3,125.6L685.8,118.6 M685.8,118.6L686.7,115.3 M685.8,118.6L692.3,116.3 M686.7,115.3L681.7,118.0 M655.3,200.2L653.9,191.5 M653.9,191.5L653.3,180.4 M653.9,191.5L655.3,193.1 M655.3,193.1L656.2,185.0 M655.3,193.1L657.9,202.8 M656.2,185.0L655.7,174.6 M656.2,185.0L659.3,186.7 M659.3,186.7L661.8,179.6 M659.3,186.7L661.6,195.6 M661.8,179.6L661.7,170.3 M661.8,179.6L665.7,181.6 M665.7,181.6L669.1,175.6 M665.7,181.6L667.6,189.4 M669.1,175.6L669.2,167.6 M669.1,175.6L672.8,177.7 M672.8,177.7L674.3,184.4 M653.3,180.4L654.3,171.6 M654.3,171.6L656.3,159.9 M654.3,171.6L655.7,174.6 M655.7,174.6L658.7,167.1 M658.7,167.1L660.6,156.6 M658.7,167.1L661.7,170.3 M661.7,170.3L665.8,164.3 M665.8,164.3L667.5,155.3 M665.8,164.3L669.2,167.6 M656.3,159.9L659.5,152.5 M659.5,152.5L663.8,142.0 M659.5,152.5L660.6,156.6 M660.6,156.6L665.2,151.0 M665.2,151.0L668.8,141.9 M665.2,151.0L667.5,155.3 M665.2,137.9L671.4,128.7 M665.2,137.9L663.8,142.0 M663.8,142.0L668.4,137.1 M668.4,137.1L673.8,128.9 M668.4,137.1L668.8,141.9 M671.4,128.7L675.4,124.7 M675.4,124.7L681.7,118.0 M675.4,124.7L673.8,128.9 M826.6,179.0L824.2,179.0 M826.6,179.0L827.0,171.9 M826.6,179.0L827.0,188.1 M827.0,171.9L824.6,163.1 M827.0,171.9L828.2,173.3 M828.2,173.3L828.7,184.0 M824.6,163.1L822.1,164.0 M824.6,163.1L823.1,154.3 M823.1,154.3L818.6,146.1 M823.1,154.3L824.1,154.2 M820.0,144.1L815.0,135.1 M818.6,146.1L816.4,148.1 M818.6,146.1L814.7,136.9 M814.7,136.9L808.7,130.6 M814.7,136.9L815.0,135.1 M815.0,135.1L808.1,125.5 M808.1,125.5L801.8,119.2 M808.7,130.6L807.1,133.5 M808.7,130.6L802.7,122.3 M802.7,122.3L796.3,118.5 M802.7,122.3L801.8,119.2 M801.8,119.2L793.4,111.8 M793.4,111.8L787.3,108.6 M796.3,118.5L795.6,121.9 M796.3,118.5L789.3,112.1 M789.3,112.1L783.6,110.6 M789.3,112.1L787.3,108.6 M783.6,110.6L783.6,114.1 M703.1,242.3L707.7,247.4 M703.1,242.3L697.0,240.0 M703.1,242.3L706.7,239.4 M697.0,240.0L694.0,243.2 M697.0,240.0L694.0,233.7 M694.0,233.7L687.6,229.8 M694.0,233.7L698.3,231.1 M687.6,229.8L683.6,232.4 M687.6,229.8L685.7,222.6 M685.7,222.6L679.8,217.2 M685.7,222.6L690.5,220.4 M679.8,217.2L675.0,218.7 M679.8,217.2L679.3,209.7 M679.3,209.7L674.6,203.3 M679.3,209.7L684.4,208.2 M674.6,203.3L669.6,203.7 M674.6,203.3L675.6,196.5 M675.6,196.5L672.3,190.0 M675.6,196.5L680.6,195.7 M672.3,190.0L667.6,189.4 M672.3,190.0L674.3,184.4 M674.3,184.4L679.0,184.2 M694.0,243.2L699.0,249.1 M694.0,243.2L687.0,239.5 M687.0,239.5L683.9,241.8 M687.0,239.5L683.6,232.4 M683.6,232.4L676.9,226.8 M676.9,226.8L673.0,228.2 M676.9,226.8L675.0,218.7 M675.0,218.7L669.5,211.6 M669.5,211.6L665.2,212.1 M669.5,211.6L669.6,203.7 M669.6,203.7L665.9,196.2 M665.9,196.2L661.6,195.6 M665.9,196.2L667.6,189.4 M683.9,241.8L689.3,248.6 M683.9,241.8L676.6,236.2 M676.6,236.2L674.2,237.0 M676.6,236.2L673.0,228.2 M673.0,228.2L666.8,220.6 M666.8,220.6L663.9,220.7 M666.8,220.6L665.2,212.1 M665.2,212.1L661.0,203.5 M661.0,203.5L657.9,202.8 M661.0,203.5L661.6,195.6 M674.2,237.0L679.8,244.3 M674.2,237.0L667.7,229.1 M667.7,229.1L666.6,228.4 M667.7,229.1L663.9,220.7 M663.9,220.7L659.2,211.4 M659.2,211.4L658.0,210.3 M659.2,211.4L657.9,202.8 M727.0,191.0L726.3,196.2 M727.0,191.0L723.5,187.5 M727.0,191.0L732.2,190.1 M723.5,187.5L718.1,189.1 M723.5,187.5L725.3,182.0 M725.3,182.0L721.7,177.7 M725.3,182.0L730.9,181.2 M721.7,177.7L715.8,179.1 M721.7,177.7L723.9,171.8 M723.9,171.8L720.3,166.9 M723.9,171.8L729.8,171.1 M720.3,166.9L714.1,168.0 M720.3,166.9L722.9,161.2 M722.9,161.2L719.5,156.1 M722.9,161.2L728.9,160.5 M719.5,156.1L713.2,156.7 M719.5,156.1L722.3,150.9 M722.3,150.9L719.3,146.2 M722.3,150.9L728.4,150.3 M719.3,146.2L713.2,146.4 M719.3,146.2L722.3,141.8 M722.3,141.8L728.2,141.4 M718.1,189.1L717.2,194.9 M718.1,189.1L714.0,185.1 M714.0,185.1L708.2,186.7 M714.0,185.1L715.8,179.1 M715.8,179.1L711.8,174.3 M711.8,174.3L705.6,175.8 M711.8,174.3L714.1,168.0 M714.1,168.0L710.3,162.8 M710.3,162.8L703.9,164.0 M710.3,162.8L713.2,156.7 M713.2,156.7L709.9,151.7 M709.9,151.7L703.5,152.7 M709.9,151.7L713.2,146.4 M708.2,186.7L707.1,193.0 M708.2,186.7L703.8,182.2 M703.8,182.2L698.0,183.9 M703.8,182.2L705.6,175.8 M705.6,175.8L701.5,170.7 M701.5,170.7L695.4,172.3 M701.5,170.7L703.9,164.0 M703.9,164.0L700.4,158.9 M700.4,158.9L694.3,160.4 M700.4,158.9L703.5,152.7 M698.0,183.9L696.8,190.4 M698.0,183.9L693.8,179.1 M693.8,179.1L688.5,180.8 M693.8,179.1L695.4,172.3 M695.4,172.3L691.8,167.2 M691.8,167.2L686.4,169.1 M691.8,167.2L694.3,160.4 M688.5,180.8L687.2,187.4 M688.5,180.8L684.8,175.9 M684.8,175.9L680.4,177.7 M684.8,175.9L686.4,169.1 M680.4,177.7L679.0,184.2 M777.3,161.2L774.2,165.5 M777.3,161.2L775.6,156.1 M777.3,161.2L782.4,163.6 M775.6,156.1L769.6,154.9 M775.6,156.1L779.4,152.0 M779.4,152.0L777.0,146.1 M779.4,152.0L785.1,154.5 M777.0,146.1L770.5,144.7 M777.0,146.1L780.7,141.6 M780.7,141.6L777.5,135.2 M780.7,141.6L787.1,144.0 M777.5,135.2L770.4,133.6 M777.5,135.2L780.8,130.7 M780.8,130.7L776.7,124.5 M780.8,130.7L787.7,133.1 M776.7,124.5L769.1,122.9 M776.7,124.5L779.4,120.6 M779.4,120.6L774.4,115.1 M779.4,120.6L786.5,122.8 M774.4,115.1L766.7,113.6 M774.4,115.1L776.6,112.2 M776.6,112.2L783.6,114.1 M769.6,154.9L766.5,159.6 M769.6,154.9L766.9,149.5 M766.9,149.5L760.4,148.7 M766.9,149.5L770.5,144.7 M770.5,144.7L767.0,138.7 M767.0,138.7L759.8,138.0 M767.0,138.7L770.4,133.6 M770.4,133.6L766.1,127.6 M766.1,127.6L758.4,127.1 M766.1,127.6L769.1,122.9 M769.1,122.9L764.1,117.5 M764.1,117.5L756.2,117.2 M764.1,117.5L766.7,113.6 M760.4,148.7L757.4,153.8 M760.4,148.7L756.8,143.3 M756.8,143.3L750.1,143.3 M756.8,143.3L759.8,138.0 M759.8,138.0L755.5,132.5 M755.5,132.5L748.4,132.9 M755.5,132.5L758.4,127.1 M758.4,127.1L753.5,122.1 M753.5,122.1L746.1,122.8 M753.5,122.1L756.2,117.2 M750.1,143.3L747.4,148.5 M750.1,143.3L746.0,138.3 M746.0,138.3L739.8,139.1 M746.0,138.3L748.4,132.9 M748.4,132.9L743.8,128.2 M743.8,128.2L737.3,129.5 M743.8,128.2L746.1,122.8 M739.8,139.1L737.4,144.3 M739.8,139.1L735.6,134.9 M735.6,134.9L730.2,136.4 M735.6,134.9L737.3,129.5 M730.2,136.4L728.2,141.4 M784.2,258.3L781.6,259.1 M799.5,247.3L796.2,248.6 M799.5,247.3L807.7,239.0 M807.7,239.0L812.1,232.5 M812.1,232.5L808.3,234.5 M812.1,232.5L818.1,222.9 M818.1,222.9L819.9,216.2 M818.1,222.9L820.6,218.7 M819.9,216.2L816.1,218.7 M819.9,216.2L823.5,206.8 M823.5,206.8L823.0,201.1 M823.5,206.8L826.1,202.1 M823.0,201.1L819.4,203.8 M823.0,201.1L824.7,192.9 M824.7,192.9L823.1,187.1 M824.7,192.9L827.0,188.1 M781.6,259.1L772.1,262.9 M781.6,259.1L787.3,254.4 M787.3,254.4L783.7,253.6 M787.3,254.4L796.2,248.6 M796.2,248.6L800.7,242.3 M800.7,242.3L796.1,242.2 M800.7,242.3L808.3,234.5 M808.3,234.5L810.6,227.4 M810.6,227.4L805.6,228.2 M810.6,227.4L816.1,218.7 M816.1,218.7L816.0,212.1 M816.0,212.1L811.1,213.7 M816.0,212.1L819.4,203.8 M819.4,203.8L818.0,197.5 M783.7,253.6L774.8,257.3 M783.7,253.6L788.0,247.7 M788.0,247.7L783.7,245.9 M788.0,247.7L796.1,242.2 M796.1,242.2L798.8,235.3 M798.8,235.3L793.6,234.4 M798.8,235.3L805.6,228.2 M805.6,228.2L806.2,221.3 M806.2,221.3L800.8,221.5 M806.2,221.3L811.1,213.7 M811.1,213.7L810.1,207.1 M783.7,245.9L775.7,249.3 M783.7,245.9L786.6,239.5 M786.6,239.5L782.1,237.5 M786.6,239.5L793.6,234.4 M793.6,234.4L795.0,227.7 M795.0,227.7L789.9,226.7 M795.0,227.7L800.8,221.5 M800.8,221.5L800.3,215.0 M782.1,237.5L775.1,240.6 M782.1,237.5L783.9,231.3 M783.9,231.3L779.6,229.5 M783.9,231.3L789.9,226.7 M789.9,226.7L789.8,220.6 M779.6,229.5L773.7,232.3 M779.6,229.5L779.9,224.0 M714.0,247.2L713.1,242.3 M714.0,247.2L719.9,250.4 M714.0,247.2L707.7,247.4 M719.9,250.4L726.0,248.3 M719.9,250.4L720.4,255.1 M720.4,255.1L728.0,258.1 M720.4,255.1L713.4,255.6 M728.0,258.1L734.7,255.7 M728.0,258.1L729.6,262.3 M729.6,262.3L738.9,264.2 M729.6,262.3L722.0,263.2 M738.9,264.2L746.0,261.4 M738.9,264.2L741.4,267.2 M741.4,267.2L751.8,267.2 M741.4,267.2L733.6,268.3 M751.8,267.2L759.1,264.1 M751.8,267.2L754.7,268.3 M754.7,268.3L765.1,266.1 M754.7,268.3L747.2,269.5 M765.1,266.1L772.1,262.9 M765.1,266.1L767.8,265.4 M726.0,248.3L724.5,243.1 M726.0,248.3L733.2,250.7 M733.2,250.7L739.2,247.3 M733.2,250.7L734.7,255.7 M734.7,255.7L743.5,257.2 M743.5,257.2L749.8,253.1 M743.5,257.2L746.0,261.4 M746.0,261.4L755.8,261.3 M755.8,261.3L762.1,256.8 M755.8,261.3L759.1,264.1 M759.1,264.1L769.0,262.0 M769.0,262.0L774.8,257.3 M769.0,262.0L772.1,262.9 M739.2,247.3L737.1,242.1 M739.2,247.3L747.1,248.3 M747.1,248.3L752.3,243.9 M747.1,248.3L749.8,253.1 M749.8,253.1L758.6,252.9 M758.6,252.9L763.7,247.7 M758.6,252.9L762.1,256.8 M762.1,256.8L771.2,254.9 M771.2,254.9L775.7,249.3 M771.2,254.9L774.8,257.3 M752.3,243.9L749.8,238.9 M752.3,243.9L760.1,243.5 M760.1,243.5L764.1,238.5 M760.1,243.5L763.7,247.7 M763.7,247.7L771.7,246.1 M771.7,246.1L775.1,240.6 M771.7,246.1L775.7,249.3 M764.1,238.5L761.2,234.1 M764.1,238.5L771.1,237.2 M771.1,237.2L773.7,232.3 M771.1,237.2L775.1,240.6 M773.7,232.3L770.6,228.4 M731.1,198.6L734.7,194.8 M731.1,198.6L732.1,203.4 M731.1,198.6L726.3,196.2 M732.1,203.4L737.8,204.9 M732.1,203.4L727.5,206.9 M727.5,206.9L728.5,212.4 M727.5,206.9L722.2,204.3 M728.5,212.4L734.7,214.4 M728.5,212.4L723.6,216.1 M723.6,216.1L724.7,222.2 M723.6,216.1L717.7,213.3 M724.7,222.2L731.3,224.5 M724.7,222.2L719.7,225.7 M719.7,225.7L721.0,231.8 M719.7,225.7L713.4,222.8 M721.0,231.8L727.8,234.5 M721.0,231.8L716.1,234.7 M716.1,234.7L717.7,240.3 M716.1,234.7L709.7,231.7 M717.7,240.3L724.5,243.1 M717.7,240.3L713.1,242.3 M713.1,242.3L706.7,239.4 M737.8,204.9L741.6,200.7 M737.8,204.9L739.4,210.3 M739.4,210.3L745.6,211.7 M739.4,210.3L734.7,214.4 M734.7,214.4L736.4,220.3 M736.4,220.3L743.2,221.9 M736.4,220.3L731.3,224.5 M731.3,224.5L733.1,230.7 M733.1,230.7L740.3,232.4 M733.1,230.7L727.8,234.5 M727.8,234.5L729.7,240.2 M729.7,240.2L737.1,242.1 M729.7,240.2L724.5,243.1 M745.6,211.7L749.7,207.0 M745.6,211.7L747.8,217.3 M747.8,217.3L754.2,218.2 M747.8,217.3L743.2,221.9 M743.2,221.9L745.3,227.8 M745.3,227.8L752.3,228.7 M745.3,227.8L740.3,232.4 M740.3,232.4L742.4,238.1 M742.4,238.1L749.8,238.9 M742.4,238.1L737.1,242.1 M754.2,218.2L758.3,213.3 M754.2,218.2L756.6,223.7 M756.6,223.7L762.8,223.9 M756.6,223.7L752.3,228.7 M752.3,228.7L754.6,234.1 M754.6,234.1L761.2,234.1 M754.6,234.1L749.8,238.9 M762.8,223.9L766.7,218.9 M762.8,223.9L765.1,228.9 M765.1,228.9L770.6,228.4 M765.1,228.9L761.2,234.1 M770.6,228.4L774.4,223.5 M777.1,170.4L782.2,169.4 M777.1,170.4L775.2,175.2 M777.1,170.4L774.2,165.5 M775.2,175.2L778.6,180.2 M775.2,175.2L769.5,175.3 M769.5,175.3L766.9,180.4 M769.5,175.3L766.5,170.1 M766.9,180.4L770.1,185.8 M766.9,180.4L760.8,180.5 M760.8,180.5L757.7,185.8 M760.8,180.5L757.8,175.3 M757.7,185.8L760.6,191.3 M757.7,185.8L751.7,185.8 M751.7,185.8L748.3,190.9 M751.7,185.8L748.7,180.6 M748.3,190.9L750.8,196.4 M748.3,190.9L742.7,190.6 M742.7,190.6L739.6,195.4 M742.7,190.6L740.0,185.7 M739.6,195.4L741.6,200.7 M739.6,195.4L734.7,194.8 M734.7,194.8L732.2,190.1 M778.6,180.2L784.1,179.4 M778.6,180.2L776.2,185.7 M776.2,185.7L779.2,191.2 M776.2,185.7L770.1,185.8 M770.1,185.8L767.0,191.4 M767.0,191.4L769.9,197.2 M767.0,191.4L760.6,191.3 M760.6,191.3L757.1,196.8 M757.1,196.8L759.7,202.6 M757.1,196.8L750.8,196.4 M750.8,196.4L747.3,201.5 M747.3,201.5L749.7,207.0 M747.3,201.5L741.6,200.7 M779.2,191.2L785.1,190.7 M779.2,191.2L776.1,197.1 M776.1,197.1L778.7,202.8 M776.1,197.1L769.9,197.2 M769.9,197.2L766.2,202.9 M766.2,202.9L768.7,208.6 M766.2,202.9L759.7,202.6 M759.7,202.6L755.9,207.8 M755.9,207.8L758.3,213.3 M755.9,207.8L749.7,207.0 M778.7,202.8L784.7,202.7 M778.7,202.8L775.0,208.6 M775.0,208.6L777.0,213.8 M775.0,208.6L768.7,208.6 M768.7,208.6L764.6,213.8 M764.6,213.8L766.7,218.9 M764.6,213.8L758.3,213.3 M777.0,213.8L782.8,214.1 M777.0,213.8L772.8,219.0 M772.8,219.0L774.4,223.5 M772.8,219.0L766.7,218.9 M774.4,223.5L779.9,224.0 M823.1,187.1L820.0,189.0 M823.1,187.1L824.2,179.0 M820.0,189.0L818.0,197.5 M820.0,189.0L817.6,182.4 M817.6,182.4L813.4,184.2 M817.6,182.4L818.6,174.2 M813.4,184.2L811.4,192.4 M813.4,184.2L809.8,178.0 M809.8,178.0L804.7,179.8 M809.8,178.0L810.6,170.1 M804.7,179.8L802.8,187.4 M804.7,179.8L800.6,174.3 M800.6,174.3L795.1,176.1 M800.6,174.3L801.1,166.9 M795.1,176.1L793.3,183.0 M795.1,176.1L791.0,171.4 M791.0,171.4L785.8,173.3 M791.0,171.4L791.4,164.8 M785.8,173.3L784.1,179.4 M785.8,173.3L782.2,169.4 M782.2,169.4L782.4,163.6 M818.0,197.5L813.6,199.1 M813.6,199.1L810.1,207.1 M813.6,199.1L811.4,192.4 M811.4,192.4L806.0,193.8 M806.0,193.8L802.8,201.5 M806.0,193.8L802.8,187.4 M802.8,187.4L796.9,188.7 M796.9,188.7L794.1,195.9 M796.9,188.7L793.3,183.0 M793.3,183.0L787.6,184.3 M787.6,184.3L785.1,190.7 M787.6,184.3L784.1,179.4 M810.1,207.1L804.7,208.1 M804.7,208.1L800.3,215.0 M804.7,208.1L802.8,201.5 M802.8,201.5L796.8,202.2 M796.8,202.2L792.8,208.8 M796.8,202.2L794.1,195.9 M794.1,195.9L788.0,196.5 M788.0,196.5L784.7,202.7 M788.0,196.5L785.1,190.7 M800.3,215.0L794.4,215.0 M794.4,215.0L789.8,220.6 M794.4,215.0L792.8,208.8 M792.8,208.8L786.8,208.7 M786.8,208.7L782.8,214.1 M786.8,208.7L784.7,202.7 M789.8,220.6L784.2,219.7 M784.2,219.7L779.9,224.0 M784.2,219.7L782.8,214.1 M828.7,184.0L827.8,191.4 M827.8,191.4L826.1,202.1 M827.8,191.4L827.0,188.1 M825.0,207.2L826.1,202.1 M679.0,243.9L679.8,244.3 M695.9,257.1L695.6,256.6 M716.3,266.1L714.6,265.0 M736.4,269.5L733.6,268.3 M736.4,269.5L747.2,269.5 M679.8,244.3L687.7,250.3 M687.7,250.3L689.3,248.6 M687.7,250.3L695.6,256.6 M695.6,256.6L704.7,260.5 M704.7,260.5L704.9,257.8 M704.7,260.5L714.6,265.0 M714.6,265.0L723.4,266.2 M723.4,266.2L722.0,263.2 M723.4,266.2L733.6,268.3 M689.3,248.6L697.4,252.2 M697.4,252.2L699.0,249.1 M697.4,252.2L704.9,257.8 M704.9,257.8L713.3,259.3 M713.3,259.3L713.4,255.6 M713.3,259.3L722.0,263.2 M699.0,249.1L706.5,251.0 M706.5,251.0L707.7,247.4 M706.5,251.0L713.4,255.6 M679.0,184.2L682.0,189.0 M682.0,189.0L687.2,187.4 M682.0,189.0L680.6,195.7 M680.6,195.7L684.7,201.0 M684.7,201.0L690.1,199.0 M684.7,201.0L684.4,208.2 M684.4,208.2L689.7,213.4 M689.7,213.4L695.1,211.1 M689.7,213.4L690.5,220.4 M690.5,220.4L696.7,224.9 M696.7,224.9L701.9,222.4 M696.7,224.9L698.3,231.1 M698.3,231.1L704.8,234.4 M704.8,234.4L709.7,231.7 M704.8,234.4L706.7,239.4 M687.2,187.4L691.1,192.2 M691.1,192.2L696.8,190.4 M691.1,192.2L690.1,199.0 M690.1,199.0L695.1,204.0 M695.1,204.0L700.9,201.7 M695.1,204.0L695.1,211.1 M695.1,211.1L701.0,215.6 M701.0,215.6L706.6,212.8 M701.0,215.6L701.9,222.4 M701.9,222.4L708.3,225.9 M708.3,225.9L713.4,222.8 M708.3,225.9L709.7,231.7 M696.8,190.4L701.5,195.0 M701.5,195.0L707.1,193.0 M701.5,195.0L700.9,201.7 M700.9,201.7L706.4,206.0 M706.4,206.0L711.9,203.4 M706.4,206.0L706.6,212.8 M706.6,212.8L712.6,216.5 M712.6,216.5L717.7,213.3 M712.6,216.5L713.4,222.8 M707.1,193.0L712.1,197.1 M712.1,197.1L717.2,194.9 M712.1,197.1L711.9,203.4 M711.9,203.4L717.3,207.1 M717.3,207.1L722.2,204.3 M717.3,207.1L717.7,213.3 M717.2,194.9L721.9,198.4 M721.9,198.4L726.3,196.2 M721.9,198.4L722.2,204.3 M728.2,141.4L731.2,145.2 M731.2,145.2L737.4,144.3 M731.2,145.2L728.4,150.3 M728.4,150.3L731.6,154.9 M731.6,154.9L738.0,154.2 M731.6,154.9L728.9,160.5 M728.9,160.5L732.4,165.5 M732.4,165.5L738.6,165.0 M732.4,165.5L729.8,171.1 M729.8,171.1L733.3,176.1 M733.3,176.1L739.3,175.8 M733.3,176.1L730.9,181.2 M730.9,181.2L734.3,185.8 M734.3,185.8L740.0,185.7 M734.3,185.8L732.2,190.1 M737.4,144.3L740.9,148.8 M740.9,148.8L747.4,148.5 M740.9,148.8L738.0,154.2 M738.0,154.2L741.5,159.3 M741.5,159.3L748.1,159.0 M741.5,159.3L738.6,165.0 M738.6,165.0L742.1,170.3 M742.1,170.3L748.5,170.1 M742.1,170.3L739.3,175.8 M739.3,175.8L742.7,180.8 M742.7,180.8L748.7,180.6 M742.7,180.8L740.0,185.7 M747.4,148.5L751.0,153.6 M751.0,153.6L757.4,153.8 M751.0,153.6L748.1,159.0 M748.1,159.0L751.6,164.5 M751.6,164.5L757.9,164.5 M751.6,164.5L748.5,170.1 M748.5,170.1L751.8,175.4 M751.8,175.4L757.8,175.3 M751.8,175.4L748.7,180.6 M757.4,153.8L760.7,159.2 M760.7,159.2L766.5,159.6 M760.7,159.2L757.9,164.5 M757.9,164.5L760.9,170.0 M760.9,170.0L766.5,170.1 M760.9,170.0L757.8,175.3 M766.5,159.6L769.3,165.1 M769.3,165.1L774.2,165.5 M769.3,165.1L766.5,170.1 M783.6,114.1L788.7,119.2 M788.7,119.2L795.6,121.9 M788.7,119.2L786.5,122.8 M786.5,122.8L790.8,129.0 M790.8,129.0L797.7,132.2 M790.8,129.0L787.7,133.1 M787.7,133.1L790.9,140.0 M790.9,140.0L797.5,143.6 M790.9,140.0L787.1,144.0 M787.1,144.0L789.2,151.0 M789.2,151.0L795.1,154.9 M789.2,151.0L785.1,154.5 M785.1,154.5L786.3,161.0 M786.3,161.0L791.4,164.8 M786.3,161.0L782.4,163.6 M795.6,121.9L800.4,128.8 M800.4,128.8L807.1,133.5 M800.4,128.8L797.7,132.2 M797.7,132.2L801.3,139.9 M801.3,139.9L807.8,144.8 M801.3,139.9L797.5,143.6 M797.5,143.6L799.6,151.5 M799.6,151.5L805.5,156.4 M799.6,151.5L795.1,154.9 M795.1,154.9L796.0,162.2 M796.0,162.2L801.1,166.9 M796.0,162.2L791.4,164.8 M807.1,133.5L810.9,141.8 M810.9,141.8L816.4,148.1 M810.9,141.8L807.8,144.8 M807.8,144.8L809.8,153.5 M809.8,153.5L814.9,159.5 M809.8,153.5L805.5,156.4 M805.5,156.4L806.0,164.5 M806.0,164.5L810.6,170.1 M806.0,164.5L801.1,166.9 M816.4,148.1L818.4,157.1 M818.4,157.1L822.1,164.0 M818.4,157.1L814.9,159.5 M814.9,159.5L815.1,168.0 M815.1,168.0L818.6,174.2 M815.1,168.0L810.6,170.1 M822.1,164.0L822.1,172.5 M822.1,172.5L824.2,179.0 M822.1,172.5L818.6,174.2" fill="none" stroke="#55c85e" stroke-width="1.6" stroke-linecap="round" />
<path d="M701.7,249.9L696.6,246.5 M696.6,246.5L688.9,240.4 M696.6,246.5L700.1,247.6 M700.1,247.6L696.6,243.3 M700.1,247.6L707.9,251.5 M696.6,243.3L689.9,238.0 M696.6,243.3L700.3,243.5 M700.3,243.5L698.8,239.4 M700.3,243.5L707.0,246.9 M685.3,237.2L688.9,240.4 M688.9,240.4L685.7,236.1 M685.7,236.1L679.5,228.9 M685.7,236.1L689.9,238.0 M689.9,238.0L688.7,233.6 M678.2,228.9L675.6,225.1 M675.6,225.1L670.8,216.5 M675.6,225.1L679.5,228.9 M679.5,228.9L678.6,224.6 M668.0,210.9L670.8,216.5 M670.8,216.5L670.2,212.6 M665.1,202.1L664.8,198.8 M701.2,122.4L699.7,126.8 M701.2,122.4L697.6,122.0 M701.2,122.4L707.7,119.3 M697.6,122.0L691.0,127.1 M697.6,122.0L701.1,117.4 M701.1,117.4L697.7,117.6 M701.1,117.4L708.6,113.8 M697.7,117.6L690.0,123.3 M697.7,117.6L702.6,113.7 M702.6,113.7L711.2,109.7 M691.0,127.1L689.7,131.9 M691.0,127.1L686.9,128.1 M686.9,128.1L680.7,135.0 M686.9,128.1L690.0,123.3 M690.0,123.3L686.5,125.5 M686.5,125.5L679.4,133.3 M680.7,135.0L679.7,139.9 M680.7,135.0L676.8,137.9 M676.8,137.9L671.8,146.2 M676.8,137.9L679.4,133.3 M671.8,146.2L671.1,150.8 M671.8,146.2L669.0,150.8 M669.0,150.8L665.8,159.6 M665.8,159.6L665.4,163.6 M663.1,173.2L662.8,176.6 M692.6,180.6L692.5,186.7 M692.6,180.6L689.2,177.0 M692.6,180.6L697.3,179.0 M689.2,177.0L684.6,179.9 M689.2,177.0L690.8,170.4 M690.8,170.4L687.8,165.8 M690.8,170.4L696.1,168.9 M687.8,165.8L682.5,168.3 M687.8,165.8L690.4,158.9 M690.4,158.9L688.0,153.6 M690.4,158.9L696.0,157.6 M688.0,153.6L682.5,155.5 M688.0,153.6L691.8,147.0 M691.8,147.0L690.5,141.7 M691.8,147.0L697.6,146.0 M690.5,141.7L685.0,142.9 M690.5,141.7L695.0,136.0 M695.0,136.0L694.7,131.2 M695.0,136.0L700.7,135.3 M694.7,131.2L689.7,131.9 M694.7,131.2L699.7,126.8 M699.7,126.8L705.0,126.4 M684.6,179.9L684.5,186.8 M684.6,179.9L681.0,175.8 M681.0,175.8L676.5,179.0 M681.0,175.8L682.5,168.3 M682.5,168.3L679.6,163.3 M679.6,163.3L674.7,166.3 M679.6,163.3L682.5,155.5 M682.5,155.5L680.7,150.1 M680.7,150.1L675.7,152.7 M680.7,150.1L685.0,142.9 M685.0,142.9L684.5,137.8 M684.5,137.8L679.7,139.9 M684.5,137.8L689.7,131.9 M676.5,179.0L676.4,186.7 M676.5,179.0L673.2,174.5 M673.2,174.5L669.5,178.1 M673.2,174.5L674.7,166.3 M674.7,166.3L672.5,161.1 M672.5,161.1L668.7,164.6 M672.5,161.1L675.7,152.7 M675.7,152.7L675.1,147.5 M675.1,147.5L671.1,150.8 M675.1,147.5L679.7,139.9 M669.5,178.1L669.4,186.5 M669.5,178.1L667.1,173.4 M667.1,173.4L664.8,177.2 M667.1,173.4L668.7,164.6 M668.7,164.6L667.8,159.6 M667.8,159.6L665.4,163.6 M667.8,159.6L671.1,150.8 M664.8,177.2L664.6,185.9 M664.8,177.2L663.8,172.5 M663.8,172.5L662.8,176.6 M663.8,172.5L665.4,163.6 M662.8,176.6L662.6,185.2 M698.8,239.4L693.8,234.9 M698.8,239.4L704.3,240.3 M693.8,234.9L688.7,233.6 M693.8,234.9L694.2,230.5 M694.2,230.5L689.6,224.7 M694.2,230.5L700.0,231.7 M689.6,224.7L684.1,222.8 M689.6,224.7L691.1,219.7 M691.1,219.7L687.4,212.9 M691.1,219.7L696.9,221.2 M687.4,212.9L681.9,210.5 M687.4,212.9L689.9,208.0 M689.9,208.0L687.4,201.0 M689.9,208.0L695.6,209.8 M687.4,201.0L682.2,198.0 M687.4,201.0L690.6,196.7 M690.6,196.7L689.1,190.1 M690.6,196.7L695.8,198.6 M689.1,190.1L684.5,186.8 M689.1,190.1L692.5,186.7 M692.5,186.7L697.3,188.7 M688.7,233.6L683.5,227.4 M683.5,227.4L678.6,224.6 M683.5,227.4L684.1,222.8 M684.1,222.8L679.9,215.4 M679.9,215.4L674.9,212.1 M679.9,215.4L681.9,210.5 M681.9,210.5L679.1,202.6 M679.1,202.6L674.2,199.0 M679.1,202.6L682.2,198.0 M682.2,198.0L680.8,190.5 M680.8,190.5L676.4,186.7 M680.8,190.5L684.5,186.8 M678.6,224.6L674.1,216.7 M674.1,216.7L670.2,212.6 M674.1,216.7L674.9,212.1 M674.9,212.1L671.9,203.6 M671.9,203.6L668.1,199.3 M671.9,203.6L674.2,199.0 M674.2,199.0L673.0,190.7 M673.0,190.7L669.4,186.5 M673.0,190.7L676.4,186.7 M670.2,212.6L667.2,203.7 M667.2,203.7L664.8,198.8 M667.2,203.7L668.1,199.3 M668.1,199.3L666.9,190.5 M666.9,190.5L664.6,185.9 M666.9,190.5L669.4,186.5 M664.8,198.8L663.5,189.9 M663.5,189.9L662.6,185.2 M663.5,189.9L664.6,185.9 M776.0,249.5L782.7,246.5 M776.0,249.5L770.5,253.0 M776.0,249.5L775.6,247.2 M770.5,253.0L771.3,254.1 M770.5,253.0L763.3,254.4 M763.3,254.4L756.1,257.2 M763.3,254.4L763.4,251.7 M756.1,257.2L755.9,258.7 M756.1,257.2L748.4,257.0 M748.4,257.0L740.0,258.2 M748.4,257.0L749.2,254.0 M740.0,258.2L738.7,259.9 M740.0,258.2L732.9,256.3 M732.9,256.3L724.3,255.8 M732.9,256.3L734.3,253.4 M724.3,255.8L721.9,257.2 M724.3,255.8L718.6,252.6 M718.6,252.6L710.9,250.6 M718.6,252.6L720.6,250.0 M710.9,250.6L707.9,251.5 M710.9,250.6L707.0,246.9 M707.0,246.9L709.2,244.8 M771.3,254.1L779.0,250.6 M771.3,254.1L764.0,257.0 M764.0,257.0L755.9,258.7 M755.9,258.7L746.9,260.2 M746.9,260.2L738.7,259.9 M738.7,259.9L729.1,259.4 M729.1,259.4L727.1,259.1 M729.1,259.4L721.9,257.2 M721.9,257.2L713.1,254.8 M713.1,254.8L710.4,254.3 M713.1,254.8L707.9,251.5 M742.5,214.3L747.0,217.5 M742.5,214.3L737.4,215.4 M742.5,214.3L744.6,209.4 M737.4,215.4L735.9,220.8 M737.4,215.4L733.4,210.9 M733.4,210.9L727.5,211.5 M733.4,210.9L735.8,205.7 M727.5,211.5L725.4,217.1 M727.5,211.5L723.5,206.4 M723.5,206.4L717.1,206.4 M723.5,206.4L726.1,201.0 M717.1,206.4L714.5,211.9 M717.1,206.4L713.6,200.8 M713.6,200.8L707.4,200.3 M713.6,200.8L716.4,195.5 M707.4,200.3L704.4,205.5 M707.4,200.3L704.6,194.7 M704.6,194.7L699.1,193.9 M704.6,194.7L707.5,189.6 M699.1,193.9L695.8,198.6 M699.1,193.9L697.3,188.7 M697.3,188.7L700.1,183.9 M735.9,220.8L740.7,224.4 M735.9,220.8L729.9,221.9 M729.9,221.9L728.1,227.4 M729.9,221.9L725.4,217.1 M725.4,217.1L718.8,217.5 M718.8,217.5L716.6,223.1 M718.8,217.5L714.5,211.9 M714.5,211.9L707.9,211.6 M707.9,211.6L705.4,217.1 M707.9,211.6L704.4,205.5 M704.4,205.5L698.3,204.6 M698.3,204.6L695.6,209.8 M698.3,204.6L695.8,198.6 M728.1,227.4L733.2,231.5 M728.1,227.4L721.5,228.2 M721.5,228.2L719.7,233.3 M721.5,228.2L716.6,223.1 M716.6,223.1L709.8,223.0 M709.8,223.0L707.8,228.2 M709.8,223.0L705.4,217.1 M705.4,217.1L699.0,216.1 M699.0,216.1L696.9,221.2 M699.0,216.1L695.6,209.8 M719.7,233.3L725.0,237.7 M719.7,233.3L712.9,233.4 M712.9,233.4L711.5,237.7 M712.9,233.4L707.8,228.2 M707.8,228.2L701.3,227.3 M701.3,227.3L700.0,231.7 M701.3,227.3L696.9,221.2 M711.5,237.7L716.7,242.2 M711.5,237.7L705.1,236.9 M705.1,236.9L704.3,240.3 M705.1,236.9L700.0,231.7 M704.3,240.3L709.2,244.8 M742.4,154.3L744.4,159.3 M742.4,154.3L737.3,153.2 M742.4,154.3L746.7,151.1 M737.3,153.2L733.4,157.7 M737.3,153.2L735.8,147.7 M735.8,147.7L729.9,146.5 M735.8,147.7L740.5,144.0 M729.9,146.5L725.5,151.4 M729.9,146.5L728.2,140.9 M728.2,140.9L721.7,140.0 M728.2,140.9L733.2,136.8 M721.7,140.0L716.9,145.0 M721.7,140.0L720.0,134.7 M720.0,134.7L713.4,134.3 M720.0,134.7L725.1,130.3 M713.4,134.3L708.3,139.5 M713.4,134.3L712.0,129.7 M712.0,129.7L705.8,130.2 M712.0,129.7L717.1,125.2 M705.8,130.2L700.7,135.3 M705.8,130.2L705.0,126.4 M705.0,126.4L709.9,121.9 M733.4,157.7L735.7,163.0 M733.4,157.7L727.5,157.0 M727.5,157.0L723.5,162.2 M727.5,157.0L725.5,151.4 M725.5,151.4L719.0,150.8 M719.0,150.8L714.8,156.4 M719.0,150.8L716.9,145.0 M716.9,145.0L710.2,144.9 M710.2,144.9L705.8,150.8 M710.2,144.9L708.3,139.5 M708.3,139.5L702.0,140.0 M702.0,140.0L697.6,146.0 M702.0,140.0L700.7,135.3 M723.5,162.2L726.1,167.6 M723.5,162.2L717.3,162.0 M717.3,162.0L713.7,167.5 M717.3,162.0L714.8,156.4 M714.8,156.4L708.2,156.5 M708.2,156.5L704.6,162.4 M708.2,156.5L705.8,150.8 M705.8,150.8L699.5,151.3 M699.5,151.3L696.0,157.6 M699.5,151.3L697.6,146.0 M713.7,167.5L716.5,173.0 M713.7,167.5L707.6,167.8 M707.6,167.8L704.8,173.3 M707.6,167.8L704.6,162.4 M704.6,162.4L698.7,163.0 M698.7,163.0L696.1,168.9 M698.7,163.0L696.0,157.6 M704.8,173.3L707.6,178.6 M704.8,173.3L699.2,173.8 M699.2,173.8L697.3,179.0 M699.2,173.8L696.1,168.9 M697.3,179.0L700.1,183.9 M774.6,115.7L774.2,118.6 M774.6,115.7L769.2,112.1 M774.6,115.7L781.1,118.2 M769.2,112.1L762.2,111.3 M769.2,112.1L769.9,110.3 M769.9,110.3L762.9,107.2 M769.9,110.3L777.5,113.1 M762.9,107.2L755.0,106.2 M762.9,107.2L762.7,106.6 M762.2,111.3L762.4,114.6 M762.2,111.3L755.2,108.5 M755.2,108.5L747.8,109.1 M755.2,108.5L755.0,106.2 M755.0,106.2L746.4,104.4 M746.4,104.4L738.4,105.3 M746.4,104.4L745.3,103.6 M747.8,109.1L748.6,112.6 M747.8,109.1L739.7,107.7 M739.7,107.7L732.8,110.0 M739.7,107.7L738.4,105.3 M738.4,105.3L729.2,105.5 M729.2,105.5L722.2,108.2 M729.2,105.5L727.3,104.8 M727.3,104.8L717.7,107.0 M717.7,107.0L711.2,109.7 M732.8,110.0L734.2,113.5 M732.8,110.0L724.6,110.3 M724.6,110.3L719.1,113.8 M724.6,110.3L722.2,108.2 M722.2,108.2L713.7,110.1 M713.7,110.1L708.6,113.8 M713.7,110.1L711.2,109.7 M719.1,113.8L721.0,116.9 M719.1,113.8L711.6,115.4 M711.6,115.4L707.7,119.3 M711.6,115.4L708.6,113.8 M707.7,119.3L709.9,121.9 M786.1,242.3L781.6,242.9 M786.1,242.3L791.8,237.8 M786.1,242.3L782.7,246.5 M791.8,237.8L793.3,233.1 M791.8,237.8L795.6,236.7 M795.6,236.7L801.5,230.3 M795.6,236.7L792.1,241.2 M801.5,230.3L803.1,225.3 M801.5,230.3L804.9,227.4 M804.9,227.4L810.1,219.0 M804.9,227.4L801.4,232.1 M810.1,219.0L811.7,214.0 M793.3,233.1L788.4,234.1 M793.3,233.1L798.7,227.1 M798.7,227.1L798.9,221.8 M798.7,227.1L803.1,225.3 M803.1,225.3L808.0,217.4 M808.0,217.4L807.8,212.0 M808.0,217.4L811.7,214.0 M811.7,214.0L815.2,204.6 M815.2,204.6L814.7,199.5 M815.2,204.6L817.4,199.9 M817.4,199.9L819.0,190.1 M819.0,190.1L818.4,185.6 M819.0,190.1L819.4,185.0 M798.9,221.8L793.7,223.1 M798.9,221.8L803.2,214.5 M803.2,214.5L802.0,209.2 M803.2,214.5L807.8,212.0 M807.8,212.0L811.1,203.4 M811.1,203.4L809.3,198.4 M811.1,203.4L814.7,199.5 M814.7,199.5L816.3,190.3 M816.3,190.3L814.2,186.0 M816.3,190.3L818.4,185.6 M818.4,185.6L818.2,176.3 M802.0,209.2L796.9,210.9 M802.0,209.2L804.9,201.6 M804.9,201.6L802.5,196.9 M804.9,201.6L809.3,198.4 M809.3,198.4L810.8,190.1 M810.8,190.1L807.9,186.2 M810.8,190.1L814.2,186.0 M814.2,186.0L814.0,177.5 M802.5,196.9L797.8,198.9 M802.5,196.9L804.0,189.7 M804.0,189.7L801.1,186.2 M804.0,189.7L807.9,186.2 M807.9,186.2L807.8,178.6 M801.1,186.2L796.9,188.3 M801.1,186.2L801.0,179.6 M751.8,214.4L750.2,209.4 M751.8,214.4L756.7,215.7 M751.8,214.4L747.0,217.5 M756.7,215.7L761.1,211.3 M756.7,215.7L757.5,221.2 M757.5,221.2L763.2,222.6 M757.5,221.2L752.2,224.7 M763.2,222.6L768.2,217.8 M763.2,222.6L764.0,228.2 M764.0,228.2L770.1,229.4 M764.0,228.2L758.2,232.1 M770.1,229.4L775.7,224.4 M770.1,229.4L770.6,234.7 M770.6,234.7L776.8,235.2 M770.6,234.7L764.5,238.9 M776.8,235.2L782.7,230.0 M776.8,235.2L776.7,239.7 M776.7,239.7L782.4,239.3 M776.7,239.7L770.5,244.0 M782.4,239.3L788.4,234.1 M782.4,239.3L781.6,242.9 M781.6,242.9L775.6,247.2 M761.1,211.3L759.3,205.9 M761.1,211.3L766.9,212.0 M766.9,212.0L771.3,206.8 M766.9,212.0L768.2,217.8 M768.2,217.8L774.5,218.5 M774.5,218.5L779.3,212.8 M774.5,218.5L775.7,224.4 M775.7,224.4L782.0,224.5 M782.0,224.5L787.1,218.4 M782.0,224.5L782.7,230.0 M782.7,230.0L788.5,229.4 M788.5,229.4L793.7,223.1 M788.5,229.4L788.4,234.1 M771.3,206.8L769.1,201.3 M771.3,206.8L777.4,206.9 M777.4,206.9L781.2,201.2 M777.4,206.9L779.3,212.8 M779.3,212.8L785.5,212.6 M785.5,212.6L789.5,206.2 M785.5,212.6L787.1,218.4 M787.1,218.4L792.9,217.6 M792.9,217.6L796.9,210.9 M792.9,217.6L793.7,223.1 M781.2,201.2L778.8,195.6 M781.2,201.2L787.1,200.7 M787.1,200.7L789.9,194.8 M787.1,200.7L789.5,206.2 M789.5,206.2L795.0,205.4 M795.0,205.4L797.8,198.9 M795.0,205.4L796.9,210.9 M789.9,194.8L787.4,189.4 M789.9,194.8L795.1,193.9 M795.1,193.9L796.9,188.3 M795.1,193.9L797.8,198.9 M796.9,188.3L794.3,183.2 M750.0,159.1L751.5,154.1 M750.0,159.1L753.1,163.2 M750.0,159.1L744.4,159.3 M753.1,163.2L759.0,162.5 M753.1,163.2L750.6,168.4 M750.6,168.4L753.7,173.3 M750.6,168.4L744.7,168.5 M753.7,173.3L759.9,172.8 M753.7,173.3L750.9,178.9 M750.9,178.9L754.0,184.3 M750.9,178.9L744.8,178.9 M754.0,184.3L760.3,184.2 M754.0,184.3L751.0,189.8 M751.0,189.8L753.9,195.3 M751.0,189.8L744.8,189.8 M753.9,195.3L760.1,195.6 M753.9,195.3L750.7,200.2 M750.7,200.2L753.4,205.4 M750.7,200.2L744.8,200.2 M753.4,205.4L759.3,205.9 M753.4,205.4L750.2,209.4 M750.2,209.4L744.6,209.4 M759.0,162.5L760.7,157.0 M759.0,162.5L762.6,167.2 M762.6,167.2L768.8,166.8 M762.6,167.2L759.9,172.8 M759.9,172.8L763.4,178.3 M763.4,178.3L769.8,178.1 M763.4,178.3L760.3,184.2 M760.3,184.2L763.5,190.0 M763.5,190.0L770.0,190.0 M763.5,190.0L760.1,195.6 M760.1,195.6L762.9,201.1 M762.9,201.1L769.1,201.3 M762.9,201.1L759.3,205.9 M768.8,166.8L770.8,161.1 M768.8,166.8L772.5,172.2 M772.5,172.2L778.5,172.0 M772.5,172.2L769.8,178.1 M769.8,178.1L773.2,184.0 M773.2,184.0L779.3,183.8 M773.2,184.0L770.0,190.0 M770.0,190.0L772.8,195.7 M772.8,195.7L778.8,195.6 M772.8,195.7L769.1,201.3 M778.5,172.0L780.8,166.2 M778.5,172.0L781.9,177.8 M781.9,177.8L787.2,177.7 M781.9,177.8L779.3,183.8 M779.3,183.8L782.0,189.7 M782.0,189.7L787.4,189.4 M782.0,189.7L778.8,195.6 M787.2,177.7L789.6,172.0 M787.2,177.7L789.9,183.4 M789.9,183.4L794.3,183.2 M789.9,183.4L787.4,189.4 M794.3,183.2L796.7,177.9 M780.2,122.8L784.6,122.7 M780.2,122.8L781.0,126.7 M780.2,122.8L774.2,118.6 M781.0,126.7L787.0,131.6 M781.0,126.7L775.4,126.8 M775.4,126.8L775.6,131.7 M775.4,126.8L769.3,122.6 M775.6,131.7L781.5,136.6 M775.6,131.7L769.6,132.6 M769.6,132.6L769.3,138.1 M769.6,132.6L763.6,128.5 M769.3,138.1L774.8,143.0 M769.3,138.1L763.3,139.6 M763.3,139.6L762.6,145.4 M763.3,139.6L757.5,135.8 M762.6,145.4L767.6,150.1 M762.6,145.4L757.0,147.1 M757.0,147.1L756.4,152.7 M757.0,147.1L751.8,143.6 M756.4,152.7L760.7,157.0 M756.4,152.7L751.5,154.1 M751.5,154.1L746.7,151.1 M787.0,131.6L791.8,131.9 M787.0,131.6L787.3,136.7 M787.3,136.7L792.5,142.7 M787.3,136.7L781.5,136.6 M781.5,136.6L781.0,142.4 M781.0,142.4L786.2,148.2 M781.0,142.4L774.8,143.0 M774.8,143.0L773.8,149.1 M773.8,149.1L778.6,154.6 M773.8,149.1L767.6,150.1 M767.6,150.1L766.4,156.0 M766.4,156.0L770.8,161.1 M766.4,156.0L760.7,157.0 M792.5,142.7L797.6,143.4 M792.5,142.7L791.9,148.5 M791.9,148.5L796.0,155.0 M791.9,148.5L786.2,148.2 M786.2,148.2L784.8,154.4 M784.8,154.4L788.8,160.5 M784.8,154.4L778.6,154.6 M778.6,154.6L776.8,160.7 M776.8,160.7L780.8,166.2 M776.8,160.7L770.8,161.1 M796.0,155.0L801.1,156.1 M796.0,155.0L794.3,160.9 M794.3,160.9L797.2,167.1 M794.3,160.9L788.8,160.5 M788.8,160.5L786.6,166.3 M786.6,166.3L789.6,172.0 M786.6,166.3L780.8,166.2 M797.2,167.1L802.0,168.5 M797.2,167.1L794.7,172.4 M794.7,172.4L796.7,177.9 M794.7,172.4L789.6,172.0 M796.7,177.9L801.0,179.6 M815.0,155.8L816.6,161.4 M810.9,146.4L808.7,142.9 M808.7,142.9L810.4,148.6 M808.7,142.9L803.2,135.0 M803.2,135.0L799.9,133.1 M803.2,135.0L799.6,129.8 M799.9,133.1L801.6,138.5 M799.9,133.1L793.9,127.1 M793.9,127.1L790.2,126.9 M793.9,127.1L790.3,122.2 M790.2,126.9L791.8,131.9 M790.2,126.9L784.6,122.7 M784.6,122.7L781.1,118.2 M819.2,175.3L818.6,171.1 M818.6,171.1L818.2,176.3 M818.6,171.1L816.6,161.4 M816.6,161.4L814.3,157.6 M814.3,157.6L814.0,163.4 M814.3,157.6L810.4,148.6 M810.4,148.6L806.7,146.1 M806.7,146.1L806.7,152.0 M806.7,146.1L801.6,138.5 M801.6,138.5L797.2,137.6 M797.2,137.6L797.6,143.4 M797.2,137.6L791.8,131.9 M818.2,176.3L815.9,172.5 M815.9,172.5L814.0,177.5 M815.9,172.5L814.0,163.4 M814.0,163.4L810.3,160.4 M810.3,160.4L808.7,166.0 M810.3,160.4L806.7,152.0 M806.7,152.0L802.1,150.3 M802.1,150.3L801.1,156.1 M802.1,150.3L797.6,143.4 M814.0,177.5L810.5,174.1 M810.5,174.1L807.8,178.6 M810.5,174.1L808.7,166.0 M808.7,166.0L804.2,163.5 M804.2,163.5L802.0,168.5 M804.2,163.5L801.1,156.1 M807.8,178.6L803.8,175.6 M803.8,175.6L801.0,179.6 M803.8,175.6L802.0,168.5 M794.4,239.5L792.1,241.2 M779.0,250.6L784.8,246.5 M784.8,246.5L782.7,246.5 M784.8,246.5L792.1,241.2 M709.2,244.8L715.2,245.9 M715.2,245.9L716.7,242.2 M715.2,245.9L720.6,250.0 M720.6,250.0L727.8,250.3 M727.8,250.3L729.1,246.3 M727.8,250.3L734.3,253.4 M734.3,253.4L742.3,252.4 M742.3,252.4L743.3,248.2 M742.3,252.4L749.2,254.0 M749.2,254.0L756.9,251.5 M756.9,251.5L757.6,247.4 M756.9,251.5L763.4,251.7 M763.4,251.7L770.1,247.9 M770.1,247.9L770.5,244.0 M770.1,247.9L775.6,247.2 M716.7,242.2L723.4,242.3 M723.4,242.3L725.0,237.7 M723.4,242.3L729.1,246.3 M729.1,246.3L736.6,245.3 M736.6,245.3L737.8,240.3 M736.6,245.3L743.3,248.2 M743.3,248.2L750.9,245.8 M750.9,245.8L751.5,240.8 M750.9,245.8L757.6,247.4 M757.6,247.4L764.4,243.7 M764.4,243.7L764.5,238.9 M764.4,243.7L770.5,244.0 M725.0,237.7L731.9,236.7 M731.9,236.7L733.2,231.5 M731.9,236.7L737.8,240.3 M737.8,240.3L745.0,238.2 M745.0,238.2L745.7,232.7 M745.0,238.2L751.5,240.8 M751.5,240.8L758.2,237.5 M758.2,237.5L758.2,232.1 M758.2,237.5L764.5,238.9 M733.2,231.5L739.8,229.6 M739.8,229.6L740.7,224.4 M739.8,229.6L745.7,232.7 M745.7,232.7L752.1,229.9 M752.1,229.9L752.2,224.7 M752.1,229.9L758.2,232.1 M740.7,224.4L746.6,222.2 M746.6,222.2L747.0,217.5 M746.6,222.2L752.2,224.7 M700.1,183.9L704.9,184.0 M704.9,184.0L707.6,178.6 M704.9,184.0L707.5,189.6 M707.5,189.6L713.1,189.9 M713.1,189.9L716.0,184.2 M713.1,189.9L716.4,195.5 M716.4,195.5L722.6,195.7 M722.6,195.7L725.6,190.1 M722.6,195.7L726.1,201.0 M726.1,201.0L732.4,200.9 M732.4,200.9L735.5,195.6 M732.4,200.9L735.8,205.7 M735.8,205.7L741.8,205.3 M741.8,205.3L744.8,200.2 M741.8,205.3L744.6,209.4 M707.6,178.6L713.2,178.5 M713.2,178.5L716.5,173.0 M713.2,178.5L716.0,184.2 M716.0,184.2L722.3,184.3 M722.3,184.3L725.6,178.6 M722.3,184.3L725.6,190.1 M725.6,190.1L732.2,190.1 M732.2,190.1L735.4,184.4 M732.2,190.1L735.5,195.6 M735.5,195.6L741.8,195.3 M741.8,195.3L744.8,189.8 M741.8,195.3L744.8,200.2 M716.5,173.0L722.6,172.9 M722.6,172.9L726.1,167.6 M722.6,172.9L725.6,178.6 M725.6,178.6L732.1,178.7 M732.1,178.7L735.5,173.2 M732.1,178.7L735.4,184.4 M735.4,184.4L741.8,184.4 M741.8,184.4L744.8,178.9 M741.8,184.4L744.8,189.8 M726.1,167.6L732.4,167.8 M732.4,167.8L735.7,163.0 M732.4,167.8L735.5,173.2 M735.5,173.2L741.7,173.4 M741.7,173.4L744.7,168.5 M741.7,173.4L744.8,178.9 M735.7,163.0L741.7,163.4 M741.7,163.4L744.4,159.3 M741.7,163.4L744.7,168.5 M709.9,121.9L715.7,121.1 M715.7,121.1L721.0,116.9 M715.7,121.1L717.1,125.2 M717.1,125.2L723.6,125.3 M723.6,125.3L729.2,121.2 M723.6,125.3L725.1,130.3 M725.1,130.3L731.8,131.4 M731.8,131.4L737.6,127.6 M731.8,131.4L733.2,136.8 M733.2,136.8L739.6,138.7 M739.6,138.7L745.3,135.5 M739.6,138.7L740.5,144.0 M740.5,144.0L746.4,146.2 M746.4,146.2L751.8,143.6 M746.4,146.2L746.7,151.1 M721.0,116.9L727.9,116.8 M727.9,116.8L734.2,113.5 M727.9,116.8L729.2,121.2 M729.2,121.2L736.5,122.4 M736.5,122.4L742.9,119.2 M736.5,122.4L737.6,127.6 M737.6,127.6L744.6,129.8 M744.6,129.8L750.9,127.0 M744.6,129.8L745.3,135.5 M745.3,135.5L751.6,138.2 M751.6,138.2L757.5,135.8 M751.6,138.2L751.8,143.6 M734.2,113.5L741.9,114.7 M741.9,114.7L748.6,112.6 M741.9,114.7L742.9,119.2 M742.9,119.2L750.3,121.7 M750.3,121.7L756.8,119.8 M750.3,121.7L750.9,127.0 M750.9,127.0L757.5,130.3 M757.5,130.3L763.6,128.5 M757.5,130.3L757.5,135.8 M748.6,112.6L756.1,115.3 M756.1,115.3L762.4,114.6 M756.1,115.3L756.8,119.8 M756.8,119.8L763.5,123.4 M763.5,123.4L769.3,122.6 M763.5,123.4L763.6,128.5 M762.4,114.6L768.9,118.3 M768.9,118.3L774.2,118.6 M768.9,118.3L769.3,122.6 M778.7,113.1L777.5,113.1 M777.5,113.1L783.2,117.5 M783.2,117.5L790.3,122.2 M783.2,117.5L781.1,118.2 M786.8,118.3L792.7,123.0 M792.7,123.0L799.6,129.8 M792.7,123.0L790.3,122.2" fill="none" stroke="#716d75" stroke-width="3" stroke-linecap="round" stroke-linejoin="round" /><path d="M701.7,249.9L696.6,246.5 M696.6,246.5L688.9,240.4 M696.6,246.5L700.1,247.6 M700.1,247.6L696.6,243.3 M700.1,247.6L707.9,251.5 M696.6,243.3L689.9,238.0 M696.6,243.3L700.3,243.5 M700.3,243.5L698.8,239.4 M700.3,243.5L707.0,246.9 M685.3,237.2L688.9,240.4 M688.9,240.4L685.7,236.1 M685.7,236.1L679.5,228.9 M685.7,236.1L689.9,238.0 M689.9,238.0L688.7,233.6 M678.2,228.9L675.6,225.1 M675.6,225.1L670.8,216.5 M675.6,225.1L679.5,228.9 M679.5,228.9L678.6,224.6 M668.0,210.9L670.8,216.5 M670.8,216.5L670.2,212.6 M665.1,202.1L664.8,198.8 M701.2,122.4L699.7,126.8 M701.2,122.4L697.6,122.0 M701.2,122.4L707.7,119.3 M697.6,122.0L691.0,127.1 M697.6,122.0L701.1,117.4 M701.1,117.4L697.7,117.6 M701.1,117.4L708.6,113.8 M697.7,117.6L690.0,123.3 M697.7,117.6L702.6,113.7 M702.6,113.7L711.2,109.7 M691.0,127.1L689.7,131.9 M691.0,127.1L686.9,128.1 M686.9,128.1L680.7,135.0 M686.9,128.1L690.0,123.3 M690.0,123.3L686.5,125.5 M686.5,125.5L679.4,133.3 M680.7,135.0L679.7,139.9 M680.7,135.0L676.8,137.9 M676.8,137.9L671.8,146.2 M676.8,137.9L679.4,133.3 M671.8,146.2L671.1,150.8 M671.8,146.2L669.0,150.8 M669.0,150.8L665.8,159.6 M665.8,159.6L665.4,163.6 M663.1,173.2L662.8,176.6 M692.6,180.6L692.5,186.7 M692.6,180.6L689.2,177.0 M692.6,180.6L697.3,179.0 M689.2,177.0L684.6,179.9 M689.2,177.0L690.8,170.4 M690.8,170.4L687.8,165.8 M690.8,170.4L696.1,168.9 M687.8,165.8L682.5,168.3 M687.8,165.8L690.4,158.9 M690.4,158.9L688.0,153.6 M690.4,158.9L696.0,157.6 M688.0,153.6L682.5,155.5 M688.0,153.6L691.8,147.0 M691.8,147.0L690.5,141.7 M691.8,147.0L697.6,146.0 M690.5,141.7L685.0,142.9 M690.5,141.7L695.0,136.0 M695.0,136.0L694.7,131.2 M695.0,136.0L700.7,135.3 M694.7,131.2L689.7,131.9 M694.7,131.2L699.7,126.8 M699.7,126.8L705.0,126.4 M684.6,179.9L684.5,186.8 M684.6,179.9L681.0,175.8 M681.0,175.8L676.5,179.0 M681.0,175.8L682.5,168.3 M682.5,168.3L679.6,163.3 M679.6,163.3L674.7,166.3 M679.6,163.3L682.5,155.5 M682.5,155.5L680.7,150.1 M680.7,150.1L675.7,152.7 M680.7,150.1L685.0,142.9 M685.0,142.9L684.5,137.8 M684.5,137.8L679.7,139.9 M684.5,137.8L689.7,131.9 M676.5,179.0L676.4,186.7 M676.5,179.0L673.2,174.5 M673.2,174.5L669.5,178.1 M673.2,174.5L674.7,166.3 M674.7,166.3L672.5,161.1 M672.5,161.1L668.7,164.6 M672.5,161.1L675.7,152.7 M675.7,152.7L675.1,147.5 M675.1,147.5L671.1,150.8 M675.1,147.5L679.7,139.9 M669.5,178.1L669.4,186.5 M669.5,178.1L667.1,173.4 M667.1,173.4L664.8,177.2 M667.1,173.4L668.7,164.6 M668.7,164.6L667.8,159.6 M667.8,159.6L665.4,163.6 M667.8,159.6L671.1,150.8 M664.8,177.2L664.6,185.9 M664.8,177.2L663.8,172.5 M663.8,172.5L662.8,176.6 M663.8,172.5L665.4,163.6 M662.8,176.6L662.6,185.2 M698.8,239.4L693.8,234.9 M698.8,239.4L704.3,240.3 M693.8,234.9L688.7,233.6 M693.8,234.9L694.2,230.5 M694.2,230.5L689.6,224.7 M694.2,230.5L700.0,231.7 M689.6,224.7L684.1,222.8 M689.6,224.7L691.1,219.7 M691.1,219.7L687.4,212.9 M691.1,219.7L696.9,221.2 M687.4,212.9L681.9,210.5 M687.4,212.9L689.9,208.0 M689.9,208.0L687.4,201.0 M689.9,208.0L695.6,209.8 M687.4,201.0L682.2,198.0 M687.4,201.0L690.6,196.7 M690.6,196.7L689.1,190.1 M690.6,196.7L695.8,198.6 M689.1,190.1L684.5,186.8 M689.1,190.1L692.5,186.7 M692.5,186.7L697.3,188.7 M688.7,233.6L683.5,227.4 M683.5,227.4L678.6,224.6 M683.5,227.4L684.1,222.8 M684.1,222.8L679.9,215.4 M679.9,215.4L674.9,212.1 M679.9,215.4L681.9,210.5 M681.9,210.5L679.1,202.6 M679.1,202.6L674.2,199.0 M679.1,202.6L682.2,198.0 M682.2,198.0L680.8,190.5 M680.8,190.5L676.4,186.7 M680.8,190.5L684.5,186.8 M678.6,224.6L674.1,216.7 M674.1,216.7L670.2,212.6 M674.1,216.7L674.9,212.1 M674.9,212.1L671.9,203.6 M671.9,203.6L668.1,199.3 M671.9,203.6L674.2,199.0 M674.2,199.0L673.0,190.7 M673.0,190.7L669.4,186.5 M673.0,190.7L676.4,186.7 M670.2,212.6L667.2,203.7 M667.2,203.7L664.8,198.8 M667.2,203.7L668.1,199.3 M668.1,199.3L666.9,190.5 M666.9,190.5L664.6,185.9 M666.9,190.5L669.4,186.5 M664.8,198.8L663.5,189.9 M663.5,189.9L662.6,185.2 M663.5,189.9L664.6,185.9 M776.0,249.5L782.7,246.5 M776.0,249.5L770.5,253.0 M776.0,249.5L775.6,247.2 M770.5,253.0L771.3,254.1 M770.5,253.0L763.3,254.4 M763.3,254.4L756.1,257.2 M763.3,254.4L763.4,251.7 M756.1,257.2L755.9,258.7 M756.1,257.2L748.4,257.0 M748.4,257.0L740.0,258.2 M748.4,257.0L749.2,254.0 M740.0,258.2L738.7,259.9 M740.0,258.2L732.9,256.3 M732.9,256.3L724.3,255.8 M732.9,256.3L734.3,253.4 M724.3,255.8L721.9,257.2 M724.3,255.8L718.6,252.6 M718.6,252.6L710.9,250.6 M718.6,252.6L720.6,250.0 M710.9,250.6L707.9,251.5 M710.9,250.6L707.0,246.9 M707.0,246.9L709.2,244.8 M771.3,254.1L779.0,250.6 M771.3,254.1L764.0,257.0 M764.0,257.0L755.9,258.7 M755.9,258.7L746.9,260.2 M746.9,260.2L738.7,259.9 M738.7,259.9L729.1,259.4 M729.1,259.4L727.1,259.1 M729.1,259.4L721.9,257.2 M721.9,257.2L713.1,254.8 M713.1,254.8L710.4,254.3 M713.1,254.8L707.9,251.5 M742.5,214.3L747.0,217.5 M742.5,214.3L737.4,215.4 M742.5,214.3L744.6,209.4 M737.4,215.4L735.9,220.8 M737.4,215.4L733.4,210.9 M733.4,210.9L727.5,211.5 M733.4,210.9L735.8,205.7 M727.5,211.5L725.4,217.1 M727.5,211.5L723.5,206.4 M723.5,206.4L717.1,206.4 M723.5,206.4L726.1,201.0 M717.1,206.4L714.5,211.9 M717.1,206.4L713.6,200.8 M713.6,200.8L707.4,200.3 M713.6,200.8L716.4,195.5 M707.4,200.3L704.4,205.5 M707.4,200.3L704.6,194.7 M704.6,194.7L699.1,193.9 M704.6,194.7L707.5,189.6 M699.1,193.9L695.8,198.6 M699.1,193.9L697.3,188.7 M697.3,188.7L700.1,183.9 M735.9,220.8L740.7,224.4 M735.9,220.8L729.9,221.9 M729.9,221.9L728.1,227.4 M729.9,221.9L725.4,217.1 M725.4,217.1L718.8,217.5 M718.8,217.5L716.6,223.1 M718.8,217.5L714.5,211.9 M714.5,211.9L707.9,211.6 M707.9,211.6L705.4,217.1 M707.9,211.6L704.4,205.5 M704.4,205.5L698.3,204.6 M698.3,204.6L695.6,209.8 M698.3,204.6L695.8,198.6 M728.1,227.4L733.2,231.5 M728.1,227.4L721.5,228.2 M721.5,228.2L719.7,233.3 M721.5,228.2L716.6,223.1 M716.6,223.1L709.8,223.0 M709.8,223.0L707.8,228.2 M709.8,223.0L705.4,217.1 M705.4,217.1L699.0,216.1 M699.0,216.1L696.9,221.2 M699.0,216.1L695.6,209.8 M719.7,233.3L725.0,237.7 M719.7,233.3L712.9,233.4 M712.9,233.4L711.5,237.7 M712.9,233.4L707.8,228.2 M707.8,228.2L701.3,227.3 M701.3,227.3L700.0,231.7 M701.3,227.3L696.9,221.2 M711.5,237.7L716.7,242.2 M711.5,237.7L705.1,236.9 M705.1,236.9L704.3,240.3 M705.1,236.9L700.0,231.7 M704.3,240.3L709.2,244.8 M742.4,154.3L744.4,159.3 M742.4,154.3L737.3,153.2 M742.4,154.3L746.7,151.1 M737.3,153.2L733.4,157.7 M737.3,153.2L735.8,147.7 M735.8,147.7L729.9,146.5 M735.8,147.7L740.5,144.0 M729.9,146.5L725.5,151.4 M729.9,146.5L728.2,140.9 M728.2,140.9L721.7,140.0 M728.2,140.9L733.2,136.8 M721.7,140.0L716.9,145.0 M721.7,140.0L720.0,134.7 M720.0,134.7L713.4,134.3 M720.0,134.7L725.1,130.3 M713.4,134.3L708.3,139.5 M713.4,134.3L712.0,129.7 M712.0,129.7L705.8,130.2 M712.0,129.7L717.1,125.2 M705.8,130.2L700.7,135.3 M705.8,130.2L705.0,126.4 M705.0,126.4L709.9,121.9 M733.4,157.7L735.7,163.0 M733.4,157.7L727.5,157.0 M727.5,157.0L723.5,162.2 M727.5,157.0L725.5,151.4 M725.5,151.4L719.0,150.8 M719.0,150.8L714.8,156.4 M719.0,150.8L716.9,145.0 M716.9,145.0L710.2,144.9 M710.2,144.9L705.8,150.8 M710.2,144.9L708.3,139.5 M708.3,139.5L702.0,140.0 M702.0,140.0L697.6,146.0 M702.0,140.0L700.7,135.3 M723.5,162.2L726.1,167.6 M723.5,162.2L717.3,162.0 M717.3,162.0L713.7,167.5 M717.3,162.0L714.8,156.4 M714.8,156.4L708.2,156.5 M708.2,156.5L704.6,162.4 M708.2,156.5L705.8,150.8 M705.8,150.8L699.5,151.3 M699.5,151.3L696.0,157.6 M699.5,151.3L697.6,146.0 M713.7,167.5L716.5,173.0 M713.7,167.5L707.6,167.8 M707.6,167.8L704.8,173.3 M707.6,167.8L704.6,162.4 M704.6,162.4L698.7,163.0 M698.7,163.0L696.1,168.9 M698.7,163.0L696.0,157.6 M704.8,173.3L707.6,178.6 M704.8,173.3L699.2,173.8 M699.2,173.8L697.3,179.0 M699.2,173.8L696.1,168.9 M697.3,179.0L700.1,183.9 M774.6,115.7L774.2,118.6 M774.6,115.7L769.2,112.1 M774.6,115.7L781.1,118.2 M769.2,112.1L762.2,111.3 M769.2,112.1L769.9,110.3 M769.9,110.3L762.9,107.2 M769.9,110.3L777.5,113.1 M762.9,107.2L755.0,106.2 M762.9,107.2L762.7,106.6 M762.2,111.3L762.4,114.6 M762.2,111.3L755.2,108.5 M755.2,108.5L747.8,109.1 M755.2,108.5L755.0,106.2 M755.0,106.2L746.4,104.4 M746.4,104.4L738.4,105.3 M746.4,104.4L745.3,103.6 M747.8,109.1L748.6,112.6 M747.8,109.1L739.7,107.7 M739.7,107.7L732.8,110.0 M739.7,107.7L738.4,105.3 M738.4,105.3L729.2,105.5 M729.2,105.5L722.2,108.2 M729.2,105.5L727.3,104.8 M727.3,104.8L717.7,107.0 M717.7,107.0L711.2,109.7 M732.8,110.0L734.2,113.5 M732.8,110.0L724.6,110.3 M724.6,110.3L719.1,113.8 M724.6,110.3L722.2,108.2 M722.2,108.2L713.7,110.1 M713.7,110.1L708.6,113.8 M713.7,110.1L711.2,109.7 M719.1,113.8L721.0,116.9 M719.1,113.8L711.6,115.4 M711.6,115.4L707.7,119.3 M711.6,115.4L708.6,113.8 M707.7,119.3L709.9,121.9 M786.1,242.3L781.6,242.9 M786.1,242.3L791.8,237.8 M786.1,242.3L782.7,246.5 M791.8,237.8L793.3,233.1 M791.8,237.8L795.6,236.7 M795.6,236.7L801.5,230.3 M795.6,236.7L792.1,241.2 M801.5,230.3L803.1,225.3 M801.5,230.3L804.9,227.4 M804.9,227.4L810.1,219.0 M804.9,227.4L801.4,232.1 M810.1,219.0L811.7,214.0 M793.3,233.1L788.4,234.1 M793.3,233.1L798.7,227.1 M798.7,227.1L798.9,221.8 M798.7,227.1L803.1,225.3 M803.1,225.3L808.0,217.4 M808.0,217.4L807.8,212.0 M808.0,217.4L811.7,214.0 M811.7,214.0L815.2,204.6 M815.2,204.6L814.7,199.5 M815.2,204.6L817.4,199.9 M817.4,199.9L819.0,190.1 M819.0,190.1L818.4,185.6 M819.0,190.1L819.4,185.0 M798.9,221.8L793.7,223.1 M798.9,221.8L803.2,214.5 M803.2,214.5L802.0,209.2 M803.2,214.5L807.8,212.0 M807.8,212.0L811.1,203.4 M811.1,203.4L809.3,198.4 M811.1,203.4L814.7,199.5 M814.7,199.5L816.3,190.3 M816.3,190.3L814.2,186.0 M816.3,190.3L818.4,185.6 M818.4,185.6L818.2,176.3 M802.0,209.2L796.9,210.9 M802.0,209.2L804.9,201.6 M804.9,201.6L802.5,196.9 M804.9,201.6L809.3,198.4 M809.3,198.4L810.8,190.1 M810.8,190.1L807.9,186.2 M810.8,190.1L814.2,186.0 M814.2,186.0L814.0,177.5 M802.5,196.9L797.8,198.9 M802.5,196.9L804.0,189.7 M804.0,189.7L801.1,186.2 M804.0,189.7L807.9,186.2 M807.9,186.2L807.8,178.6 M801.1,186.2L796.9,188.3 M801.1,186.2L801.0,179.6 M751.8,214.4L750.2,209.4 M751.8,214.4L756.7,215.7 M751.8,214.4L747.0,217.5 M756.7,215.7L761.1,211.3 M756.7,215.7L757.5,221.2 M757.5,221.2L763.2,222.6 M757.5,221.2L752.2,224.7 M763.2,222.6L768.2,217.8 M763.2,222.6L764.0,228.2 M764.0,228.2L770.1,229.4 M764.0,228.2L758.2,232.1 M770.1,229.4L775.7,224.4 M770.1,229.4L770.6,234.7 M770.6,234.7L776.8,235.2 M770.6,234.7L764.5,238.9 M776.8,235.2L782.7,230.0 M776.8,235.2L776.7,239.7 M776.7,239.7L782.4,239.3 M776.7,239.7L770.5,244.0 M782.4,239.3L788.4,234.1 M782.4,239.3L781.6,242.9 M781.6,242.9L775.6,247.2 M761.1,211.3L759.3,205.9 M761.1,211.3L766.9,212.0 M766.9,212.0L771.3,206.8 M766.9,212.0L768.2,217.8 M768.2,217.8L774.5,218.5 M774.5,218.5L779.3,212.8 M774.5,218.5L775.7,224.4 M775.7,224.4L782.0,224.5 M782.0,224.5L787.1,218.4 M782.0,224.5L782.7,230.0 M782.7,230.0L788.5,229.4 M788.5,229.4L793.7,223.1 M788.5,229.4L788.4,234.1 M771.3,206.8L769.1,201.3 M771.3,206.8L777.4,206.9 M777.4,206.9L781.2,201.2 M777.4,206.9L779.3,212.8 M779.3,212.8L785.5,212.6 M785.5,212.6L789.5,206.2 M785.5,212.6L787.1,218.4 M787.1,218.4L792.9,217.6 M792.9,217.6L796.9,210.9 M792.9,217.6L793.7,223.1 M781.2,201.2L778.8,195.6 M781.2,201.2L787.1,200.7 M787.1,200.7L789.9,194.8 M787.1,200.7L789.5,206.2 M789.5,206.2L795.0,205.4 M795.0,205.4L797.8,198.9 M795.0,205.4L796.9,210.9 M789.9,194.8L787.4,189.4 M789.9,194.8L795.1,193.9 M795.1,193.9L796.9,188.3 M795.1,193.9L797.8,198.9 M796.9,188.3L794.3,183.2 M750.0,159.1L751.5,154.1 M750.0,159.1L753.1,163.2 M750.0,159.1L744.4,159.3 M753.1,163.2L759.0,162.5 M753.1,163.2L750.6,168.4 M750.6,168.4L753.7,173.3 M750.6,168.4L744.7,168.5 M753.7,173.3L759.9,172.8 M753.7,173.3L750.9,178.9 M750.9,178.9L754.0,184.3 M750.9,178.9L744.8,178.9 M754.0,184.3L760.3,184.2 M754.0,184.3L751.0,189.8 M751.0,189.8L753.9,195.3 M751.0,189.8L744.8,189.8 M753.9,195.3L760.1,195.6 M753.9,195.3L750.7,200.2 M750.7,200.2L753.4,205.4 M750.7,200.2L744.8,200.2 M753.4,205.4L759.3,205.9 M753.4,205.4L750.2,209.4 M750.2,209.4L744.6,209.4 M759.0,162.5L760.7,157.0 M759.0,162.5L762.6,167.2 M762.6,167.2L768.8,166.8 M762.6,167.2L759.9,172.8 M759.9,172.8L763.4,178.3 M763.4,178.3L769.8,178.1 M763.4,178.3L760.3,184.2 M760.3,184.2L763.5,190.0 M763.5,190.0L770.0,190.0 M763.5,190.0L760.1,195.6 M760.1,195.6L762.9,201.1 M762.9,201.1L769.1,201.3 M762.9,201.1L759.3,205.9 M768.8,166.8L770.8,161.1 M768.8,166.8L772.5,172.2 M772.5,172.2L778.5,172.0 M772.5,172.2L769.8,178.1 M769.8,178.1L773.2,184.0 M773.2,184.0L779.3,183.8 M773.2,184.0L770.0,190.0 M770.0,190.0L772.8,195.7 M772.8,195.7L778.8,195.6 M772.8,195.7L769.1,201.3 M778.5,172.0L780.8,166.2 M778.5,172.0L781.9,177.8 M781.9,177.8L787.2,177.7 M781.9,177.8L779.3,183.8 M779.3,183.8L782.0,189.7 M782.0,189.7L787.4,189.4 M782.0,189.7L778.8,195.6 M787.2,177.7L789.6,172.0 M787.2,177.7L789.9,183.4 M789.9,183.4L794.3,183.2 M789.9,183.4L787.4,189.4 M794.3,183.2L796.7,177.9 M780.2,122.8L784.6,122.7 M780.2,122.8L781.0,126.7 M780.2,122.8L774.2,118.6 M781.0,126.7L787.0,131.6 M781.0,126.7L775.4,126.8 M775.4,126.8L775.6,131.7 M775.4,126.8L769.3,122.6 M775.6,131.7L781.5,136.6 M775.6,131.7L769.6,132.6 M769.6,132.6L769.3,138.1 M769.6,132.6L763.6,128.5 M769.3,138.1L774.8,143.0 M769.3,138.1L763.3,139.6 M763.3,139.6L762.6,145.4 M763.3,139.6L757.5,135.8 M762.6,145.4L767.6,150.1 M762.6,145.4L757.0,147.1 M757.0,147.1L756.4,152.7 M757.0,147.1L751.8,143.6 M756.4,152.7L760.7,157.0 M756.4,152.7L751.5,154.1 M751.5,154.1L746.7,151.1 M787.0,131.6L791.8,131.9 M787.0,131.6L787.3,136.7 M787.3,136.7L792.5,142.7 M787.3,136.7L781.5,136.6 M781.5,136.6L781.0,142.4 M781.0,142.4L786.2,148.2 M781.0,142.4L774.8,143.0 M774.8,143.0L773.8,149.1 M773.8,149.1L778.6,154.6 M773.8,149.1L767.6,150.1 M767.6,150.1L766.4,156.0 M766.4,156.0L770.8,161.1 M766.4,156.0L760.7,157.0 M792.5,142.7L797.6,143.4 M792.5,142.7L791.9,148.5 M791.9,148.5L796.0,155.0 M791.9,148.5L786.2,148.2 M786.2,148.2L784.8,154.4 M784.8,154.4L788.8,160.5 M784.8,154.4L778.6,154.6 M778.6,154.6L776.8,160.7 M776.8,160.7L780.8,166.2 M776.8,160.7L770.8,161.1 M796.0,155.0L801.1,156.1 M796.0,155.0L794.3,160.9 M794.3,160.9L797.2,167.1 M794.3,160.9L788.8,160.5 M788.8,160.5L786.6,166.3 M786.6,166.3L789.6,172.0 M786.6,166.3L780.8,166.2 M797.2,167.1L802.0,168.5 M797.2,167.1L794.7,172.4 M794.7,172.4L796.7,177.9 M794.7,172.4L789.6,172.0 M796.7,177.9L801.0,179.6 M815.0,155.8L816.6,161.4 M810.9,146.4L808.7,142.9 M808.7,142.9L810.4,148.6 M808.7,142.9L803.2,135.0 M803.2,135.0L799.9,133.1 M803.2,135.0L799.6,129.8 M799.9,133.1L801.6,138.5 M799.9,133.1L793.9,127.1 M793.9,127.1L790.2,126.9 M793.9,127.1L790.3,122.2 M790.2,126.9L791.8,131.9 M790.2,126.9L784.6,122.7 M784.6,122.7L781.1,118.2 M819.2,175.3L818.6,171.1 M818.6,171.1L818.2,176.3 M818.6,171.1L816.6,161.4 M816.6,161.4L814.3,157.6 M814.3,157.6L814.0,163.4 M814.3,157.6L810.4,148.6 M810.4,148.6L806.7,146.1 M806.7,146.1L806.7,152.0 M806.7,146.1L801.6,138.5 M801.6,138.5L797.2,137.6 M797.2,137.6L797.6,143.4 M797.2,137.6L791.8,131.9 M818.2,176.3L815.9,172.5 M815.9,172.5L814.0,177.5 M815.9,172.5L814.0,163.4 M814.0,163.4L810.3,160.4 M810.3,160.4L808.7,166.0 M810.3,160.4L806.7,152.0 M806.7,152.0L802.1,150.3 M802.1,150.3L801.1,156.1 M802.1,150.3L797.6,143.4 M814.0,177.5L810.5,174.1 M810.5,174.1L807.8,178.6 M810.5,174.1L808.7,166.0 M808.7,166.0L804.2,163.5 M804.2,163.5L802.0,168.5 M804.2,163.5L801.1,156.1 M807.8,178.6L803.8,175.6 M803.8,175.6L801.0,179.6 M803.8,175.6L802.0,168.5 M794.4,239.5L792.1,241.2 M779.0,250.6L784.8,246.5 M784.8,246.5L782.7,246.5 M784.8,246.5L792.1,241.2 M709.2,244.8L715.2,245.9 M715.2,245.9L716.7,242.2 M715.2,245.9L720.6,250.0 M720.6,250.0L727.8,250.3 M727.8,250.3L729.1,246.3 M727.8,250.3L734.3,253.4 M734.3,253.4L742.3,252.4 M742.3,252.4L743.3,248.2 M742.3,252.4L749.2,254.0 M749.2,254.0L756.9,251.5 M756.9,251.5L757.6,247.4 M756.9,251.5L763.4,251.7 M763.4,251.7L770.1,247.9 M770.1,247.9L770.5,244.0 M770.1,247.9L775.6,247.2 M716.7,242.2L723.4,242.3 M723.4,242.3L725.0,237.7 M723.4,242.3L729.1,246.3 M729.1,246.3L736.6,245.3 M736.6,245.3L737.8,240.3 M736.6,245.3L743.3,248.2 M743.3,248.2L750.9,245.8 M750.9,245.8L751.5,240.8 M750.9,245.8L757.6,247.4 M757.6,247.4L764.4,243.7 M764.4,243.7L764.5,238.9 M764.4,243.7L770.5,244.0 M725.0,237.7L731.9,236.7 M731.9,236.7L733.2,231.5 M731.9,236.7L737.8,240.3 M737.8,240.3L745.0,238.2 M745.0,238.2L745.7,232.7 M745.0,238.2L751.5,240.8 M751.5,240.8L758.2,237.5 M758.2,237.5L758.2,232.1 M758.2,237.5L764.5,238.9 M733.2,231.5L739.8,229.6 M739.8,229.6L740.7,224.4 M739.8,229.6L745.7,232.7 M745.7,232.7L752.1,229.9 M752.1,229.9L752.2,224.7 M752.1,229.9L758.2,232.1 M740.7,224.4L746.6,222.2 M746.6,222.2L747.0,217.5 M746.6,222.2L752.2,224.7 M700.1,183.9L704.9,184.0 M704.9,184.0L707.6,178.6 M704.9,184.0L707.5,189.6 M707.5,189.6L713.1,189.9 M713.1,189.9L716.0,184.2 M713.1,189.9L716.4,195.5 M716.4,195.5L722.6,195.7 M722.6,195.7L725.6,190.1 M722.6,195.7L726.1,201.0 M726.1,201.0L732.4,200.9 M732.4,200.9L735.5,195.6 M732.4,200.9L735.8,205.7 M735.8,205.7L741.8,205.3 M741.8,205.3L744.8,200.2 M741.8,205.3L744.6,209.4 M707.6,178.6L713.2,178.5 M713.2,178.5L716.5,173.0 M713.2,178.5L716.0,184.2 M716.0,184.2L722.3,184.3 M722.3,184.3L725.6,178.6 M722.3,184.3L725.6,190.1 M725.6,190.1L732.2,190.1 M732.2,190.1L735.4,184.4 M732.2,190.1L735.5,195.6 M735.5,195.6L741.8,195.3 M741.8,195.3L744.8,189.8 M741.8,195.3L744.8,200.2 M716.5,173.0L722.6,172.9 M722.6,172.9L726.1,167.6 M722.6,172.9L725.6,178.6 M725.6,178.6L732.1,178.7 M732.1,178.7L735.5,173.2 M732.1,178.7L735.4,184.4 M735.4,184.4L741.8,184.4 M741.8,184.4L744.8,178.9 M741.8,184.4L744.8,189.8 M726.1,167.6L732.4,167.8 M732.4,167.8L735.7,163.0 M732.4,167.8L735.5,173.2 M735.5,173.2L741.7,173.4 M741.7,173.4L744.7,168.5 M741.7,173.4L744.8,178.9 M735.7,163.0L741.7,163.4 M741.7,163.4L744.4,159.3 M741.7,163.4L744.7,168.5 M709.9,121.9L715.7,121.1 M715.7,121.1L721.0,116.9 M715.7,121.1L717.1,125.2 M717.1,125.2L723.6,125.3 M723.6,125.3L729.2,121.2 M723.6,125.3L725.1,130.3 M725.1,130.3L731.8,131.4 M731.8,131.4L737.6,127.6 M731.8,131.4L733.2,136.8 M733.2,136.8L739.6,138.7 M739.6,138.7L745.3,135.5 M739.6,138.7L740.5,144.0 M740.5,144.0L746.4,146.2 M746.4,146.2L751.8,143.6 M746.4,146.2L746.7,151.1 M721.0,116.9L727.9,116.8 M727.9,116.8L734.2,113.5 M727.9,116.8L729.2,121.2 M729.2,121.2L736.5,122.4 M736.5,122.4L742.9,119.2 M736.5,122.4L737.6,127.6 M737.6,127.6L744.6,129.8 M744.6,129.8L750.9,127.0 M744.6,129.8L745.3,135.5 M745.3,135.5L751.6,138.2 M751.6,138.2L757.5,135.8 M751.6,138.2L751.8,143.6 M734.2,113.5L741.9,114.7 M741.9,114.7L748.6,112.6 M741.9,114.7L742.9,119.2 M742.9,119.2L750.3,121.7 M750.3,121.7L756.8,119.8 M750.3,121.7L750.9,127.0 M750.9,127.0L757.5,130.3 M757.5,130.3L763.6,128.5 M757.5,130.3L757.5,135.8 M748.6,112.6L756.1,115.3 M756.1,115.3L762.4,114.6 M756.1,115.3L756.8,119.8 M756.8,119.8L763.5,123.4 M763.5,123.4L769.3,122.6 M763.5,123.4L763.6,128.5 M762.4,114.6L768.9,118.3 M768.9,118.3L774.2,118.6 M768.9,118.3L769.3,122.6 M778.7,113.1L777.5,113.1 M777.5,113.1L783.2,117.5 M783.2,117.5L790.3,122.2 M783.2,117.5L781.1,118.2 M786.8,118.3L792.7,123.0 M792.7,123.0L799.6,129.8 M792.7,123.0L790.3,122.2" fill="none" stroke="#cbc8d0" stroke-width="1.6" stroke-linecap="round" />
<g clip-path="url(#cpCube)"><polygon points="691,158 712,146 748,146 788,157 789,222 738,236 690,215" fill="#3438a0"/><line x1="697.7" y1="151.9" x2="694.5" y2="162" stroke="#b0ab16" stroke-width="5.6" stroke-linecap="round"/><line x1="697.2" y1="151.9" x2="694.0" y2="162" stroke="#f2ee48" stroke-width="3.2" stroke-linecap="round"/><line x1="705.4" y1="147.6" x2="702.8" y2="162" stroke="#b0ab16" stroke-width="5.6" stroke-linecap="round"/><line x1="704.9" y1="147.6" x2="702.3" y2="162" stroke="#f2ee48" stroke-width="3.2" stroke-linecap="round"/><line x1="713.1" y1="144.0" x2="711.1" y2="162" stroke="#b0ab16" stroke-width="5.6" stroke-linecap="round"/><line x1="712.6" y1="144.0" x2="710.6" y2="162" stroke="#f2ee48" stroke-width="3.2" stroke-linecap="round"/><line x1="720.8" y1="144.0" x2="719.4" y2="162" stroke="#b0ab16" stroke-width="5.6" stroke-linecap="round"/><line x1="720.3" y1="144.0" x2="718.9" y2="162" stroke="#f2ee48" stroke-width="3.2" stroke-linecap="round"/><line x1="728.6" y1="144.0" x2="727.7" y2="162" stroke="#b0ab16" stroke-width="5.6" stroke-linecap="round"/><line x1="728.1" y1="144.0" x2="727.2" y2="162" stroke="#f2ee48" stroke-width="3.2" stroke-linecap="round"/><line x1="736.3" y1="144.0" x2="736.0" y2="162" stroke="#b0ab16" stroke-width="5.6" stroke-linecap="round"/><line x1="735.8" y1="144.0" x2="735.5" y2="162" stroke="#f2ee48" stroke-width="3.2" stroke-linecap="round"/><line x1="744.0" y1="144.0" x2="744.3" y2="162" stroke="#b0ab16" stroke-width="5.6" stroke-linecap="round"/><line x1="743.5" y1="144.0" x2="743.8" y2="162" stroke="#f2ee48" stroke-width="3.2" stroke-linecap="round"/><line x1="751.7" y1="145.1" x2="752.6" y2="162" stroke="#b0ab16" stroke-width="5.6" stroke-linecap="round"/><line x1="751.2" y1="145.1" x2="752.1" y2="162" stroke="#f2ee48" stroke-width="3.2" stroke-linecap="round"/><line x1="759.4" y1="147.3" x2="760.9" y2="162" stroke="#b0ab16" stroke-width="5.6" stroke-linecap="round"/><line x1="758.9" y1="147.3" x2="760.4" y2="162" stroke="#f2ee48" stroke-width="3.2" stroke-linecap="round"/><line x1="767.2" y1="149.5" x2="769.2" y2="162" stroke="#b0ab16" stroke-width="5.6" stroke-linecap="round"/><line x1="766.7" y1="149.5" x2="768.7" y2="162" stroke="#f2ee48" stroke-width="3.2" stroke-linecap="round"/><line x1="774.9" y1="151.8" x2="777.5" y2="162" stroke="#b0ab16" stroke-width="5.6" stroke-linecap="round"/><line x1="774.4" y1="151.8" x2="777.0" y2="162" stroke="#f2ee48" stroke-width="3.2" stroke-linecap="round"/><line x1="782.6" y1="154.0" x2="785.8" y2="162" stroke="#b0ab16" stroke-width="5.6" stroke-linecap="round"/><line x1="782.1" y1="154.0" x2="785.3" y2="162" stroke="#f2ee48" stroke-width="3.2" stroke-linecap="round"/><circle cx="699.6" cy="167.5" r="1.9" fill="#2a2eb2"/><circle cx="697.6" cy="172.5" r="1.9" fill="#2a2eb2"/><circle cx="699.6" cy="177.5" r="1.9" fill="#2a2eb2"/><circle cx="697.6" cy="182.5" r="1.9" fill="#2a2eb2"/><circle cx="699.6" cy="187.5" r="1.9" fill="#2a2eb2"/><circle cx="697.6" cy="192.5" r="1.9" fill="#2a2eb2"/><circle cx="699.6" cy="197.5" r="1.9" fill="#2a2eb2"/><circle cx="697.6" cy="202.5" r="1.9" fill="#2a2eb2"/><circle cx="699.6" cy="207.5" r="1.9" fill="#2a2eb2"/><circle cx="697.6" cy="212.5" r="1.9" fill="#2a2eb2"/><circle cx="699.6" cy="217.5" r="1.9" fill="#2a2eb2"/><circle cx="697.6" cy="222.5" r="1.9" fill="#2a2eb2"/><circle cx="699.6" cy="227.5" r="1.9" fill="#2a2eb2"/><circle cx="697.6" cy="232.5" r="1.9" fill="#2a2eb2"/><circle cx="699.6" cy="237.5" r="1.9" fill="#2a2eb2"/><circle cx="707.9" cy="167.5" r="1.9" fill="#2a2eb2"/><circle cx="705.9" cy="172.5" r="1.9" fill="#2a2eb2"/><circle cx="707.9" cy="177.5" r="1.9" fill="#2a2eb2"/><circle cx="705.9" cy="182.5" r="1.9" fill="#2a2eb2"/><circle cx="707.9" cy="187.5" r="1.9" fill="#2a2eb2"/><circle cx="705.9" cy="192.5" r="1.9" fill="#2a2eb2"/><circle cx="707.9" cy="197.5" r="1.9" fill="#2a2eb2"/><circle cx="705.9" cy="202.5" r="1.9" fill="#2a2eb2"/><circle cx="707.9" cy="207.5" r="1.9" fill="#2a2eb2"/><circle cx="705.9" cy="212.5" r="1.9" fill="#2a2eb2"/><circle cx="707.9" cy="217.5" r="1.9" fill="#2a2eb2"/><circle cx="705.9" cy="222.5" r="1.9" fill="#2a2eb2"/><circle cx="707.9" cy="227.5" r="1.9" fill="#2a2eb2"/><circle cx="705.9" cy="232.5" r="1.9" fill="#2a2eb2"/><circle cx="707.9" cy="237.5" r="1.9" fill="#2a2eb2"/><circle cx="716.2" cy="167.5" r="1.9" fill="#2a2eb2"/><circle cx="714.2" cy="172.5" r="1.9" fill="#2a2eb2"/><circle cx="716.2" cy="177.5" r="1.9" fill="#2a2eb2"/><circle cx="714.2" cy="182.5" r="1.9" fill="#2a2eb2"/><circle cx="716.2" cy="187.5" r="1.9" fill="#2a2eb2"/><circle cx="714.2" cy="192.5" r="1.9" fill="#2a2eb2"/><circle cx="716.2" cy="197.5" r="1.9" fill="#2a2eb2"/><circle cx="714.2" cy="202.5" r="1.9" fill="#2a2eb2"/><circle cx="716.2" cy="207.5" r="1.9" fill="#2a2eb2"/><circle cx="714.2" cy="212.5" r="1.9" fill="#2a2eb2"/><circle cx="716.2" cy="217.5" r="1.9" fill="#2a2eb2"/><circle cx="714.2" cy="222.5" r="1.9" fill="#2a2eb2"/><circle cx="716.2" cy="227.5" r="1.9" fill="#2a2eb2"/><circle cx="714.2" cy="232.5" r="1.9" fill="#2a2eb2"/><circle cx="716.2" cy="237.5" r="1.9" fill="#2a2eb2"/><circle cx="724.5" cy="167.5" r="1.9" fill="#2a2eb2"/><circle cx="722.5" cy="172.5" r="1.9" fill="#2a2eb2"/><circle cx="724.5" cy="177.5" r="1.9" fill="#2a2eb2"/><circle cx="722.5" cy="182.5" r="1.9" fill="#2a2eb2"/><circle cx="724.5" cy="187.5" r="1.9" fill="#2a2eb2"/><circle cx="722.5" cy="192.5" r="1.9" fill="#2a2eb2"/><circle cx="724.5" cy="197.5" r="1.9" fill="#2a2eb2"/><circle cx="722.5" cy="202.5" r="1.9" fill="#2a2eb2"/><circle cx="724.5" cy="207.5" r="1.9" fill="#2a2eb2"/><circle cx="722.5" cy="212.5" r="1.9" fill="#2a2eb2"/><circle cx="724.5" cy="217.5" r="1.9" fill="#2a2eb2"/><circle cx="722.5" cy="222.5" r="1.9" fill="#2a2eb2"/><circle cx="724.5" cy="227.5" r="1.9" fill="#2a2eb2"/><circle cx="722.5" cy="232.5" r="1.9" fill="#2a2eb2"/><circle cx="724.5" cy="237.5" r="1.9" fill="#2a2eb2"/><circle cx="732.9" cy="167.5" r="1.9" fill="#2a2eb2"/><circle cx="730.9" cy="172.5" r="1.9" fill="#2a2eb2"/><circle cx="732.9" cy="177.5" r="1.9" fill="#2a2eb2"/><circle cx="730.9" cy="182.5" r="1.9" fill="#2a2eb2"/><circle cx="732.9" cy="187.5" r="1.9" fill="#2a2eb2"/><circle cx="730.9" cy="192.5" r="1.9" fill="#2a2eb2"/><circle cx="732.9" cy="197.5" r="1.9" fill="#2a2eb2"/><circle cx="730.9" cy="202.5" r="1.9" fill="#2a2eb2"/><circle cx="732.9" cy="207.5" r="1.9" fill="#2a2eb2"/><circle cx="730.9" cy="212.5" r="1.9" fill="#2a2eb2"/><circle cx="732.9" cy="217.5" r="1.9" fill="#2a2eb2"/><circle cx="730.9" cy="222.5" r="1.9" fill="#2a2eb2"/><circle cx="732.9" cy="227.5" r="1.9" fill="#2a2eb2"/><circle cx="730.9" cy="232.5" r="1.9" fill="#2a2eb2"/><circle cx="732.9" cy="237.5" r="1.9" fill="#2a2eb2"/><circle cx="741.1" cy="167.5" r="1.9" fill="#2a2eb2"/><circle cx="739.1" cy="172.5" r="1.9" fill="#2a2eb2"/><circle cx="741.1" cy="177.5" r="1.9" fill="#2a2eb2"/><circle cx="739.1" cy="182.5" r="1.9" fill="#2a2eb2"/><circle cx="741.1" cy="187.5" r="1.9" fill="#2a2eb2"/><circle cx="739.1" cy="192.5" r="1.9" fill="#2a2eb2"/><circle cx="741.1" cy="197.5" r="1.9" fill="#2a2eb2"/><circle cx="739.1" cy="202.5" r="1.9" fill="#2a2eb2"/><circle cx="741.1" cy="207.5" r="1.9" fill="#2a2eb2"/><circle cx="739.1" cy="212.5" r="1.9" fill="#2a2eb2"/><circle cx="741.1" cy="217.5" r="1.9" fill="#2a2eb2"/><circle cx="739.1" cy="222.5" r="1.9" fill="#2a2eb2"/><circle cx="741.1" cy="227.5" r="1.9" fill="#2a2eb2"/><circle cx="739.1" cy="232.5" r="1.9" fill="#2a2eb2"/><circle cx="741.1" cy="237.5" r="1.9" fill="#2a2eb2"/><circle cx="749.4" cy="167.5" r="1.9" fill="#2a2eb2"/><circle cx="747.4" cy="172.5" r="1.9" fill="#2a2eb2"/><circle cx="749.4" cy="177.5" r="1.9" fill="#2a2eb2"/><circle cx="747.4" cy="182.5" r="1.9" fill="#2a2eb2"/><circle cx="749.4" cy="187.5" r="1.9" fill="#2a2eb2"/><circle cx="747.4" cy="192.5" r="1.9" fill="#2a2eb2"/><circle cx="749.4" cy="197.5" r="1.9" fill="#2a2eb2"/><circle cx="747.4" cy="202.5" r="1.9" fill="#2a2eb2"/><circle cx="749.4" cy="207.5" r="1.9" fill="#2a2eb2"/><circle cx="747.4" cy="212.5" r="1.9" fill="#2a2eb2"/><circle cx="749.4" cy="217.5" r="1.9" fill="#2a2eb2"/><circle cx="747.4" cy="222.5" r="1.9" fill="#2a2eb2"/><circle cx="749.4" cy="227.5" r="1.9" fill="#2a2eb2"/><circle cx="747.4" cy="232.5" r="1.9" fill="#2a2eb2"/><circle cx="749.4" cy="237.5" r="1.9" fill="#2a2eb2"/><circle cx="757.8" cy="167.5" r="1.9" fill="#2a2eb2"/><circle cx="755.8" cy="172.5" r="1.9" fill="#2a2eb2"/><circle cx="757.8" cy="177.5" r="1.9" fill="#2a2eb2"/><circle cx="755.8" cy="182.5" r="1.9" fill="#2a2eb2"/><circle cx="757.8" cy="187.5" r="1.9" fill="#2a2eb2"/><circle cx="755.8" cy="192.5" r="1.9" fill="#2a2eb2"/><circle cx="757.8" cy="197.5" r="1.9" fill="#2a2eb2"/><circle cx="755.8" cy="202.5" r="1.9" fill="#2a2eb2"/><circle cx="757.8" cy="207.5" r="1.9" fill="#2a2eb2"/><circle cx="755.8" cy="212.5" r="1.9" fill="#2a2eb2"/><circle cx="757.8" cy="217.5" r="1.9" fill="#2a2eb2"/><circle cx="755.8" cy="222.5" r="1.9" fill="#2a2eb2"/><circle cx="757.8" cy="227.5" r="1.9" fill="#2a2eb2"/><circle cx="755.8" cy="232.5" r="1.9" fill="#2a2eb2"/><circle cx="757.8" cy="237.5" r="1.9" fill="#2a2eb2"/><circle cx="766.0" cy="167.5" r="1.9" fill="#2a2eb2"/><circle cx="764.0" cy="172.5" r="1.9" fill="#2a2eb2"/><circle cx="766.0" cy="177.5" r="1.9" fill="#2a2eb2"/><circle cx="764.0" cy="182.5" r="1.9" fill="#2a2eb2"/><circle cx="766.0" cy="187.5" r="1.9" fill="#2a2eb2"/><circle cx="764.0" cy="192.5" r="1.9" fill="#2a2eb2"/><circle cx="766.0" cy="197.5" r="1.9" fill="#2a2eb2"/><circle cx="764.0" cy="202.5" r="1.9" fill="#2a2eb2"/><circle cx="766.0" cy="207.5" r="1.9" fill="#2a2eb2"/><circle cx="764.0" cy="212.5" r="1.9" fill="#2a2eb2"/><circle cx="766.0" cy="217.5" r="1.9" fill="#2a2eb2"/><circle cx="764.0" cy="222.5" r="1.9" fill="#2a2eb2"/><circle cx="766.0" cy="227.5" r="1.9" fill="#2a2eb2"/><circle cx="764.0" cy="232.5" r="1.9" fill="#2a2eb2"/><circle cx="766.0" cy="237.5" r="1.9" fill="#2a2eb2"/><circle cx="774.4" cy="167.5" r="1.9" fill="#2a2eb2"/><circle cx="772.4" cy="172.5" r="1.9" fill="#2a2eb2"/><circle cx="774.4" cy="177.5" r="1.9" fill="#2a2eb2"/><circle cx="772.4" cy="182.5" r="1.9" fill="#2a2eb2"/><circle cx="774.4" cy="187.5" r="1.9" fill="#2a2eb2"/><circle cx="772.4" cy="192.5" r="1.9" fill="#2a2eb2"/><circle cx="774.4" cy="197.5" r="1.9" fill="#2a2eb2"/><circle cx="772.4" cy="202.5" r="1.9" fill="#2a2eb2"/><circle cx="774.4" cy="207.5" r="1.9" fill="#2a2eb2"/><circle cx="772.4" cy="212.5" r="1.9" fill="#2a2eb2"/><circle cx="774.4" cy="217.5" r="1.9" fill="#2a2eb2"/><circle cx="772.4" cy="222.5" r="1.9" fill="#2a2eb2"/><circle cx="774.4" cy="227.5" r="1.9" fill="#2a2eb2"/><circle cx="772.4" cy="232.5" r="1.9" fill="#2a2eb2"/><circle cx="774.4" cy="237.5" r="1.9" fill="#2a2eb2"/><circle cx="782.6" cy="167.5" r="1.9" fill="#2a2eb2"/><circle cx="780.6" cy="172.5" r="1.9" fill="#2a2eb2"/><circle cx="782.6" cy="177.5" r="1.9" fill="#2a2eb2"/><circle cx="780.6" cy="182.5" r="1.9" fill="#2a2eb2"/><circle cx="782.6" cy="187.5" r="1.9" fill="#2a2eb2"/><circle cx="780.6" cy="192.5" r="1.9" fill="#2a2eb2"/><circle cx="782.6" cy="197.5" r="1.9" fill="#2a2eb2"/><circle cx="780.6" cy="202.5" r="1.9" fill="#2a2eb2"/><circle cx="782.6" cy="207.5" r="1.9" fill="#2a2eb2"/><circle cx="780.6" cy="212.5" r="1.9" fill="#2a2eb2"/><circle cx="782.6" cy="217.5" r="1.9" fill="#2a2eb2"/><circle cx="780.6" cy="222.5" r="1.9" fill="#2a2eb2"/><circle cx="782.6" cy="227.5" r="1.9" fill="#2a2eb2"/><circle cx="780.6" cy="232.5" r="1.9" fill="#2a2eb2"/><circle cx="782.6" cy="237.5" r="1.9" fill="#2a2eb2"/><circle cx="790.9" cy="167.5" r="1.9" fill="#2a2eb2"/><circle cx="788.9" cy="172.5" r="1.9" fill="#2a2eb2"/><circle cx="790.9" cy="177.5" r="1.9" fill="#2a2eb2"/><circle cx="788.9" cy="182.5" r="1.9" fill="#2a2eb2"/><circle cx="790.9" cy="187.5" r="1.9" fill="#2a2eb2"/><circle cx="788.9" cy="192.5" r="1.9" fill="#2a2eb2"/><circle cx="790.9" cy="197.5" r="1.9" fill="#2a2eb2"/><circle cx="788.9" cy="202.5" r="1.9" fill="#2a2eb2"/><circle cx="790.9" cy="207.5" r="1.9" fill="#2a2eb2"/><circle cx="788.9" cy="212.5" r="1.9" fill="#2a2eb2"/><circle cx="790.9" cy="217.5" r="1.9" fill="#2a2eb2"/><circle cx="788.9" cy="222.5" r="1.9" fill="#2a2eb2"/><circle cx="790.9" cy="227.5" r="1.9" fill="#2a2eb2"/><circle cx="788.9" cy="232.5" r="1.9" fill="#2a2eb2"/><circle cx="790.9" cy="237.5" r="1.9" fill="#2a2eb2"/><circle cx="693.3" cy="165.0" r="3.35" fill="#c4bf1c"/><circle cx="692.8" cy="164.4" r="2.45" fill="#f6f24e"/><circle cx="695.7" cy="170.0" r="3.35" fill="#c4bf1c"/><circle cx="695.2" cy="169.4" r="2.45" fill="#f6f24e"/><circle cx="693.3" cy="175.0" r="3.35" fill="#c4bf1c"/><circle cx="692.8" cy="174.4" r="2.45" fill="#f6f24e"/><circle cx="695.7" cy="180.0" r="3.35" fill="#c4bf1c"/><circle cx="695.2" cy="179.4" r="2.45" fill="#f6f24e"/><circle cx="693.3" cy="185.0" r="3.35" fill="#c4bf1c"/><circle cx="692.8" cy="184.4" r="2.45" fill="#f6f24e"/><circle cx="695.7" cy="190.0" r="3.35" fill="#c4bf1c"/><circle cx="695.2" cy="189.4" r="2.45" fill="#f6f24e"/><circle cx="693.3" cy="195.0" r="3.35" fill="#c4bf1c"/><circle cx="692.8" cy="194.4" r="2.45" fill="#f6f24e"/><circle cx="695.7" cy="200.0" r="3.35" fill="#c4bf1c"/><circle cx="695.2" cy="199.4" r="2.45" fill="#f6f24e"/><circle cx="693.3" cy="205.0" r="3.35" fill="#c4bf1c"/><circle cx="692.8" cy="204.4" r="2.45" fill="#f6f24e"/><circle cx="695.7" cy="210.0" r="3.35" fill="#c4bf1c"/><circle cx="695.2" cy="209.4" r="2.45" fill="#f6f24e"/><circle cx="693.3" cy="215.0" r="3.35" fill="#c4bf1c"/><circle cx="692.8" cy="214.4" r="2.45" fill="#f6f24e"/><circle cx="695.7" cy="220.0" r="3.35" fill="#c4bf1c"/><circle cx="695.2" cy="219.4" r="2.45" fill="#f6f24e"/><circle cx="693.3" cy="225.0" r="3.35" fill="#c4bf1c"/><circle cx="692.8" cy="224.4" r="2.45" fill="#f6f24e"/><circle cx="695.7" cy="230.0" r="3.35" fill="#c4bf1c"/><circle cx="695.2" cy="229.4" r="2.45" fill="#f6f24e"/><circle cx="693.3" cy="235.0" r="3.35" fill="#c4bf1c"/><circle cx="692.8" cy="234.4" r="2.45" fill="#f6f24e"/><circle cx="701.6" cy="165.0" r="3.35" fill="#c4bf1c"/><circle cx="701.1" cy="164.4" r="2.45" fill="#f6f24e"/><circle cx="704.0" cy="170.0" r="3.35" fill="#c4bf1c"/><circle cx="703.5" cy="169.4" r="2.45" fill="#f6f24e"/><circle cx="701.6" cy="175.0" r="3.35" fill="#c4bf1c"/><circle cx="701.1" cy="174.4" r="2.45" fill="#f6f24e"/><circle cx="704.0" cy="180.0" r="3.35" fill="#c4bf1c"/><circle cx="703.5" cy="179.4" r="2.45" fill="#f6f24e"/><circle cx="701.6" cy="185.0" r="3.35" fill="#c4bf1c"/><circle cx="701.1" cy="184.4" r="2.45" fill="#f6f24e"/><circle cx="704.0" cy="190.0" r="3.35" fill="#c4bf1c"/><circle cx="703.5" cy="189.4" r="2.45" fill="#f6f24e"/><circle cx="701.6" cy="195.0" r="3.35" fill="#c4bf1c"/><circle cx="701.1" cy="194.4" r="2.45" fill="#f6f24e"/><circle cx="704.0" cy="200.0" r="3.35" fill="#c4bf1c"/><circle cx="703.5" cy="199.4" r="2.45" fill="#f6f24e"/><circle cx="701.6" cy="205.0" r="3.35" fill="#c4bf1c"/><circle cx="701.1" cy="204.4" r="2.45" fill="#f6f24e"/><circle cx="704.0" cy="210.0" r="3.35" fill="#c4bf1c"/><circle cx="703.5" cy="209.4" r="2.45" fill="#f6f24e"/><circle cx="701.6" cy="215.0" r="3.35" fill="#c4bf1c"/><circle cx="701.1" cy="214.4" r="2.45" fill="#f6f24e"/><circle cx="704.0" cy="220.0" r="3.35" fill="#c4bf1c"/><circle cx="703.5" cy="219.4" r="2.45" fill="#f6f24e"/><circle cx="701.6" cy="225.0" r="3.35" fill="#c4bf1c"/><circle cx="701.1" cy="224.4" r="2.45" fill="#f6f24e"/><circle cx="704.0" cy="230.0" r="3.35" fill="#c4bf1c"/><circle cx="703.5" cy="229.4" r="2.45" fill="#f6f24e"/><circle cx="701.6" cy="235.0" r="3.35" fill="#c4bf1c"/><circle cx="701.1" cy="234.4" r="2.45" fill="#f6f24e"/><circle cx="709.9" cy="165.0" r="3.35" fill="#c4bf1c"/><circle cx="709.4" cy="164.4" r="2.45" fill="#f6f24e"/><circle cx="712.3" cy="170.0" r="3.35" fill="#c4bf1c"/><circle cx="711.8" cy="169.4" r="2.45" fill="#f6f24e"/><circle cx="709.9" cy="175.0" r="3.35" fill="#c4bf1c"/><circle cx="709.4" cy="174.4" r="2.45" fill="#f6f24e"/><circle cx="712.3" cy="180.0" r="3.35" fill="#c4bf1c"/><circle cx="711.8" cy="179.4" r="2.45" fill="#f6f24e"/><circle cx="709.9" cy="185.0" r="3.35" fill="#c4bf1c"/><circle cx="709.4" cy="184.4" r="2.45" fill="#f6f24e"/><circle cx="712.3" cy="190.0" r="3.35" fill="#c4bf1c"/><circle cx="711.8" cy="189.4" r="2.45" fill="#f6f24e"/><circle cx="709.9" cy="195.0" r="3.35" fill="#c4bf1c"/><circle cx="709.4" cy="194.4" r="2.45" fill="#f6f24e"/><circle cx="712.3" cy="200.0" r="3.35" fill="#c4bf1c"/><circle cx="711.8" cy="199.4" r="2.45" fill="#f6f24e"/><circle cx="709.9" cy="205.0" r="3.35" fill="#c4bf1c"/><circle cx="709.4" cy="204.4" r="2.45" fill="#f6f24e"/><circle cx="712.3" cy="210.0" r="3.35" fill="#c4bf1c"/><circle cx="711.8" cy="209.4" r="2.45" fill="#f6f24e"/><circle cx="709.9" cy="215.0" r="3.35" fill="#c4bf1c"/><circle cx="709.4" cy="214.4" r="2.45" fill="#f6f24e"/><circle cx="712.3" cy="220.0" r="3.35" fill="#c4bf1c"/><circle cx="711.8" cy="219.4" r="2.45" fill="#f6f24e"/><circle cx="709.9" cy="225.0" r="3.35" fill="#c4bf1c"/><circle cx="709.4" cy="224.4" r="2.45" fill="#f6f24e"/><circle cx="712.3" cy="230.0" r="3.35" fill="#c4bf1c"/><circle cx="711.8" cy="229.4" r="2.45" fill="#f6f24e"/><circle cx="709.9" cy="235.0" r="3.35" fill="#c4bf1c"/><circle cx="709.4" cy="234.4" r="2.45" fill="#f6f24e"/><circle cx="718.2" cy="165.0" r="3.35" fill="#c4bf1c"/><circle cx="717.7" cy="164.4" r="2.45" fill="#f6f24e"/><circle cx="720.6" cy="170.0" r="3.35" fill="#c4bf1c"/><circle cx="720.1" cy="169.4" r="2.45" fill="#f6f24e"/><circle cx="718.2" cy="175.0" r="3.35" fill="#c4bf1c"/><circle cx="717.7" cy="174.4" r="2.45" fill="#f6f24e"/><circle cx="720.6" cy="180.0" r="3.35" fill="#c4bf1c"/><circle cx="720.1" cy="179.4" r="2.45" fill="#f6f24e"/><circle cx="718.2" cy="185.0" r="3.35" fill="#c4bf1c"/><circle cx="717.7" cy="184.4" r="2.45" fill="#f6f24e"/><circle cx="720.6" cy="190.0" r="3.35" fill="#c4bf1c"/><circle cx="720.1" cy="189.4" r="2.45" fill="#f6f24e"/><circle cx="718.2" cy="195.0" r="3.35" fill="#c4bf1c"/><circle cx="717.7" cy="194.4" r="2.45" fill="#f6f24e"/><circle cx="720.6" cy="200.0" r="3.35" fill="#c4bf1c"/><circle cx="720.1" cy="199.4" r="2.45" fill="#f6f24e"/><circle cx="718.2" cy="205.0" r="3.35" fill="#c4bf1c"/><circle cx="717.7" cy="204.4" r="2.45" fill="#f6f24e"/><circle cx="720.6" cy="210.0" r="3.35" fill="#c4bf1c"/><circle cx="720.1" cy="209.4" r="2.45" fill="#f6f24e"/><circle cx="718.2" cy="215.0" r="3.35" fill="#c4bf1c"/><circle cx="717.7" cy="214.4" r="2.45" fill="#f6f24e"/><circle cx="720.6" cy="220.0" r="3.35" fill="#c4bf1c"/><circle cx="720.1" cy="219.4" r="2.45" fill="#f6f24e"/><circle cx="718.2" cy="225.0" r="3.35" fill="#c4bf1c"/><circle cx="717.7" cy="224.4" r="2.45" fill="#f6f24e"/><circle cx="720.6" cy="230.0" r="3.35" fill="#c4bf1c"/><circle cx="720.1" cy="229.4" r="2.45" fill="#f6f24e"/><circle cx="718.2" cy="235.0" r="3.35" fill="#c4bf1c"/><circle cx="717.7" cy="234.4" r="2.45" fill="#f6f24e"/><circle cx="726.5" cy="165.0" r="3.35" fill="#c4bf1c"/><circle cx="726.0" cy="164.4" r="2.45" fill="#f6f24e"/><circle cx="728.9" cy="170.0" r="3.35" fill="#c4bf1c"/><circle cx="728.4" cy="169.4" r="2.45" fill="#f6f24e"/><circle cx="726.5" cy="175.0" r="3.35" fill="#c4bf1c"/><circle cx="726.0" cy="174.4" r="2.45" fill="#f6f24e"/><circle cx="728.9" cy="180.0" r="3.35" fill="#c4bf1c"/><circle cx="728.4" cy="179.4" r="2.45" fill="#f6f24e"/><circle cx="726.5" cy="185.0" r="3.35" fill="#c4bf1c"/><circle cx="726.0" cy="184.4" r="2.45" fill="#f6f24e"/><circle cx="728.9" cy="190.0" r="3.35" fill="#c4bf1c"/><circle cx="728.4" cy="189.4" r="2.45" fill="#f6f24e"/><circle cx="726.5" cy="195.0" r="3.35" fill="#c4bf1c"/><circle cx="726.0" cy="194.4" r="2.45" fill="#f6f24e"/><circle cx="728.9" cy="200.0" r="3.35" fill="#c4bf1c"/><circle cx="728.4" cy="199.4" r="2.45" fill="#f6f24e"/><circle cx="726.5" cy="205.0" r="3.35" fill="#c4bf1c"/><circle cx="726.0" cy="204.4" r="2.45" fill="#f6f24e"/><circle cx="728.9" cy="210.0" r="3.35" fill="#c4bf1c"/><circle cx="728.4" cy="209.4" r="2.45" fill="#f6f24e"/><circle cx="726.5" cy="215.0" r="3.35" fill="#c4bf1c"/><circle cx="726.0" cy="214.4" r="2.45" fill="#f6f24e"/><circle cx="728.9" cy="220.0" r="3.35" fill="#c4bf1c"/><circle cx="728.4" cy="219.4" r="2.45" fill="#f6f24e"/><circle cx="726.5" cy="225.0" r="3.35" fill="#c4bf1c"/><circle cx="726.0" cy="224.4" r="2.45" fill="#f6f24e"/><circle cx="728.9" cy="230.0" r="3.35" fill="#c4bf1c"/><circle cx="728.4" cy="229.4" r="2.45" fill="#f6f24e"/><circle cx="726.5" cy="235.0" r="3.35" fill="#c4bf1c"/><circle cx="726.0" cy="234.4" r="2.45" fill="#f6f24e"/><circle cx="734.8" cy="165.0" r="3.05" fill="#c4bf1c"/><circle cx="734.3" cy="164.4" r="2.15" fill="#f6f24e"/><circle cx="737.2" cy="170.0" r="3.05" fill="#c4bf1c"/><circle cx="736.7" cy="169.4" r="2.15" fill="#f6f24e"/><circle cx="734.8" cy="175.0" r="3.05" fill="#c4bf1c"/><circle cx="734.3" cy="174.4" r="2.15" fill="#f6f24e"/><circle cx="737.2" cy="180.0" r="3.05" fill="#c4bf1c"/><circle cx="736.7" cy="179.4" r="2.15" fill="#f6f24e"/><circle cx="734.8" cy="185.0" r="3.05" fill="#c4bf1c"/><circle cx="734.3" cy="184.4" r="2.15" fill="#f6f24e"/><circle cx="737.2" cy="190.0" r="3.05" fill="#c4bf1c"/><circle cx="736.7" cy="189.4" r="2.15" fill="#f6f24e"/><circle cx="734.8" cy="195.0" r="3.05" fill="#c4bf1c"/><circle cx="734.3" cy="194.4" r="2.15" fill="#f6f24e"/><circle cx="737.2" cy="200.0" r="3.05" fill="#c4bf1c"/><circle cx="736.7" cy="199.4" r="2.15" fill="#f6f24e"/><circle cx="734.8" cy="205.0" r="3.05" fill="#c4bf1c"/><circle cx="734.3" cy="204.4" r="2.15" fill="#f6f24e"/><circle cx="737.2" cy="210.0" r="3.05" fill="#c4bf1c"/><circle cx="736.7" cy="209.4" r="2.15" fill="#f6f24e"/><circle cx="734.8" cy="215.0" r="3.05" fill="#c4bf1c"/><circle cx="734.3" cy="214.4" r="2.15" fill="#f6f24e"/><circle cx="737.2" cy="220.0" r="3.05" fill="#c4bf1c"/><circle cx="736.7" cy="219.4" r="2.15" fill="#f6f24e"/><circle cx="734.8" cy="225.0" r="3.05" fill="#c4bf1c"/><circle cx="734.3" cy="224.4" r="2.15" fill="#f6f24e"/><circle cx="737.2" cy="230.0" r="3.05" fill="#c4bf1c"/><circle cx="736.7" cy="229.4" r="2.15" fill="#f6f24e"/><circle cx="734.8" cy="235.0" r="3.05" fill="#c4bf1c"/><circle cx="734.3" cy="234.4" r="2.15" fill="#f6f24e"/><circle cx="743.1" cy="165.0" r="3.05" fill="#c4bf1c"/><circle cx="742.6" cy="164.4" r="2.15" fill="#f6f24e"/><circle cx="745.5" cy="170.0" r="3.05" fill="#c4bf1c"/><circle cx="745.0" cy="169.4" r="2.15" fill="#f6f24e"/><circle cx="743.1" cy="175.0" r="3.05" fill="#c4bf1c"/><circle cx="742.6" cy="174.4" r="2.15" fill="#f6f24e"/><circle cx="745.5" cy="180.0" r="3.05" fill="#c4bf1c"/><circle cx="745.0" cy="179.4" r="2.15" fill="#f6f24e"/><circle cx="743.1" cy="185.0" r="3.05" fill="#c4bf1c"/><circle cx="742.6" cy="184.4" r="2.15" fill="#f6f24e"/><circle cx="745.5" cy="190.0" r="3.05" fill="#c4bf1c"/><circle cx="745.0" cy="189.4" r="2.15" fill="#f6f24e"/><circle cx="743.1" cy="195.0" r="3.05" fill="#c4bf1c"/><circle cx="742.6" cy="194.4" r="2.15" fill="#f6f24e"/><circle cx="745.5" cy="200.0" r="3.05" fill="#c4bf1c"/><circle cx="745.0" cy="199.4" r="2.15" fill="#f6f24e"/><circle cx="743.1" cy="205.0" r="3.05" fill="#c4bf1c"/><circle cx="742.6" cy="204.4" r="2.15" fill="#f6f24e"/><circle cx="745.5" cy="210.0" r="3.05" fill="#c4bf1c"/><circle cx="745.0" cy="209.4" r="2.15" fill="#f6f24e"/><circle cx="743.1" cy="215.0" r="3.05" fill="#c4bf1c"/><circle cx="742.6" cy="214.4" r="2.15" fill="#f6f24e"/><circle cx="745.5" cy="220.0" r="3.05" fill="#c4bf1c"/><circle cx="745.0" cy="219.4" r="2.15" fill="#f6f24e"/><circle cx="743.1" cy="225.0" r="3.05" fill="#c4bf1c"/><circle cx="742.6" cy="224.4" r="2.15" fill="#f6f24e"/><circle cx="745.5" cy="230.0" r="3.05" fill="#c4bf1c"/><circle cx="745.0" cy="229.4" r="2.15" fill="#f6f24e"/><circle cx="743.1" cy="235.0" r="3.05" fill="#c4bf1c"/><circle cx="742.6" cy="234.4" r="2.15" fill="#f6f24e"/><circle cx="751.4" cy="165.0" r="3.05" fill="#c4bf1c"/><circle cx="750.9" cy="164.4" r="2.15" fill="#f6f24e"/><circle cx="753.8" cy="170.0" r="3.05" fill="#c4bf1c"/><circle cx="753.3" cy="169.4" r="2.15" fill="#f6f24e"/><circle cx="751.4" cy="175.0" r="3.05" fill="#c4bf1c"/><circle cx="750.9" cy="174.4" r="2.15" fill="#f6f24e"/><circle cx="753.8" cy="180.0" r="3.05" fill="#c4bf1c"/><circle cx="753.3" cy="179.4" r="2.15" fill="#f6f24e"/><circle cx="751.4" cy="185.0" r="3.05" fill="#c4bf1c"/><circle cx="750.9" cy="184.4" r="2.15" fill="#f6f24e"/><circle cx="753.8" cy="190.0" r="3.05" fill="#c4bf1c"/><circle cx="753.3" cy="189.4" r="2.15" fill="#f6f24e"/><circle cx="751.4" cy="195.0" r="3.05" fill="#c4bf1c"/><circle cx="750.9" cy="194.4" r="2.15" fill="#f6f24e"/><circle cx="753.8" cy="200.0" r="3.05" fill="#c4bf1c"/><circle cx="753.3" cy="199.4" r="2.15" fill="#f6f24e"/><circle cx="751.4" cy="205.0" r="3.05" fill="#c4bf1c"/><circle cx="750.9" cy="204.4" r="2.15" fill="#f6f24e"/><circle cx="753.8" cy="210.0" r="3.05" fill="#c4bf1c"/><circle cx="753.3" cy="209.4" r="2.15" fill="#f6f24e"/><circle cx="751.4" cy="215.0" r="3.05" fill="#c4bf1c"/><circle cx="750.9" cy="214.4" r="2.15" fill="#f6f24e"/><circle cx="753.8" cy="220.0" r="3.05" fill="#c4bf1c"/><circle cx="753.3" cy="219.4" r="2.15" fill="#f6f24e"/><circle cx="751.4" cy="225.0" r="3.05" fill="#c4bf1c"/><circle cx="750.9" cy="224.4" r="2.15" fill="#f6f24e"/><circle cx="753.8" cy="230.0" r="3.05" fill="#c4bf1c"/><circle cx="753.3" cy="229.4" r="2.15" fill="#f6f24e"/><circle cx="751.4" cy="235.0" r="3.05" fill="#c4bf1c"/><circle cx="750.9" cy="234.4" r="2.15" fill="#f6f24e"/><circle cx="759.7" cy="165.0" r="2.80" fill="#c4bf1c"/><circle cx="759.2" cy="164.4" r="1.90" fill="#f6f24e"/><circle cx="762.1" cy="170.0" r="2.80" fill="#c4bf1c"/><circle cx="761.6" cy="169.4" r="1.90" fill="#f6f24e"/><circle cx="759.7" cy="175.0" r="2.80" fill="#c4bf1c"/><circle cx="759.2" cy="174.4" r="1.90" fill="#f6f24e"/><circle cx="762.1" cy="180.0" r="2.80" fill="#c4bf1c"/><circle cx="761.6" cy="179.4" r="1.90" fill="#f6f24e"/><circle cx="759.7" cy="185.0" r="2.80" fill="#c4bf1c"/><circle cx="759.2" cy="184.4" r="1.90" fill="#f6f24e"/><circle cx="762.1" cy="190.0" r="2.80" fill="#c4bf1c"/><circle cx="761.6" cy="189.4" r="1.90" fill="#f6f24e"/><circle cx="759.7" cy="195.0" r="2.80" fill="#c4bf1c"/><circle cx="759.2" cy="194.4" r="1.90" fill="#f6f24e"/><circle cx="762.1" cy="200.0" r="2.80" fill="#c4bf1c"/><circle cx="761.6" cy="199.4" r="1.90" fill="#f6f24e"/><circle cx="759.7" cy="205.0" r="2.80" fill="#c4bf1c"/><circle cx="759.2" cy="204.4" r="1.90" fill="#f6f24e"/><circle cx="762.1" cy="210.0" r="2.80" fill="#c4bf1c"/><circle cx="761.6" cy="209.4" r="1.90" fill="#f6f24e"/><circle cx="759.7" cy="215.0" r="2.80" fill="#c4bf1c"/><circle cx="759.2" cy="214.4" r="1.90" fill="#f6f24e"/><circle cx="762.1" cy="220.0" r="2.80" fill="#c4bf1c"/><circle cx="761.6" cy="219.4" r="1.90" fill="#f6f24e"/><circle cx="759.7" cy="225.0" r="2.80" fill="#c4bf1c"/><circle cx="759.2" cy="224.4" r="1.90" fill="#f6f24e"/><circle cx="762.1" cy="230.0" r="2.80" fill="#c4bf1c"/><circle cx="761.6" cy="229.4" r="1.90" fill="#f6f24e"/><circle cx="759.7" cy="235.0" r="2.80" fill="#c4bf1c"/><circle cx="759.2" cy="234.4" r="1.90" fill="#f6f24e"/><circle cx="768.0" cy="165.0" r="2.80" fill="#c4bf1c"/><circle cx="767.5" cy="164.4" r="1.90" fill="#f6f24e"/><circle cx="770.4" cy="170.0" r="2.80" fill="#c4bf1c"/><circle cx="769.9" cy="169.4" r="1.90" fill="#f6f24e"/><circle cx="768.0" cy="175.0" r="2.80" fill="#c4bf1c"/><circle cx="767.5" cy="174.4" r="1.90" fill="#f6f24e"/><circle cx="770.4" cy="180.0" r="2.80" fill="#c4bf1c"/><circle cx="769.9" cy="179.4" r="1.90" fill="#f6f24e"/><circle cx="768.0" cy="185.0" r="2.80" fill="#c4bf1c"/><circle cx="767.5" cy="184.4" r="1.90" fill="#f6f24e"/><circle cx="770.4" cy="190.0" r="2.80" fill="#c4bf1c"/><circle cx="769.9" cy="189.4" r="1.90" fill="#f6f24e"/><circle cx="768.0" cy="195.0" r="2.80" fill="#c4bf1c"/><circle cx="767.5" cy="194.4" r="1.90" fill="#f6f24e"/><circle cx="770.4" cy="200.0" r="2.80" fill="#c4bf1c"/><circle cx="769.9" cy="199.4" r="1.90" fill="#f6f24e"/><circle cx="768.0" cy="205.0" r="2.80" fill="#c4bf1c"/><circle cx="767.5" cy="204.4" r="1.90" fill="#f6f24e"/><circle cx="770.4" cy="210.0" r="2.80" fill="#c4bf1c"/><circle cx="769.9" cy="209.4" r="1.90" fill="#f6f24e"/><circle cx="768.0" cy="215.0" r="2.80" fill="#c4bf1c"/><circle cx="767.5" cy="214.4" r="1.90" fill="#f6f24e"/><circle cx="770.4" cy="220.0" r="2.80" fill="#c4bf1c"/><circle cx="769.9" cy="219.4" r="1.90" fill="#f6f24e"/><circle cx="768.0" cy="225.0" r="2.80" fill="#c4bf1c"/><circle cx="767.5" cy="224.4" r="1.90" fill="#f6f24e"/><circle cx="770.4" cy="230.0" r="2.80" fill="#c4bf1c"/><circle cx="769.9" cy="229.4" r="1.90" fill="#f6f24e"/><circle cx="768.0" cy="235.0" r="2.80" fill="#c4bf1c"/><circle cx="767.5" cy="234.4" r="1.90" fill="#f6f24e"/><circle cx="776.3" cy="165.0" r="2.80" fill="#c4bf1c"/><circle cx="775.8" cy="164.4" r="1.90" fill="#f6f24e"/><circle cx="778.7" cy="170.0" r="2.80" fill="#c4bf1c"/><circle cx="778.2" cy="169.4" r="1.90" fill="#f6f24e"/><circle cx="776.3" cy="175.0" r="2.80" fill="#c4bf1c"/><circle cx="775.8" cy="174.4" r="1.90" fill="#f6f24e"/><circle cx="778.7" cy="180.0" r="2.80" fill="#c4bf1c"/><circle cx="778.2" cy="179.4" r="1.90" fill="#f6f24e"/><circle cx="776.3" cy="185.0" r="2.80" fill="#c4bf1c"/><circle cx="775.8" cy="184.4" r="1.90" fill="#f6f24e"/><circle cx="778.7" cy="190.0" r="2.80" fill="#c4bf1c"/><circle cx="778.2" cy="189.4" r="1.90" fill="#f6f24e"/><circle cx="776.3" cy="195.0" r="2.80" fill="#c4bf1c"/><circle cx="775.8" cy="194.4" r="1.90" fill="#f6f24e"/><circle cx="778.7" cy="200.0" r="2.80" fill="#c4bf1c"/><circle cx="778.2" cy="199.4" r="1.90" fill="#f6f24e"/><circle cx="776.3" cy="205.0" r="2.80" fill="#c4bf1c"/><circle cx="775.8" cy="204.4" r="1.90" fill="#f6f24e"/><circle cx="778.7" cy="210.0" r="2.80" fill="#c4bf1c"/><circle cx="778.2" cy="209.4" r="1.90" fill="#f6f24e"/><circle cx="776.3" cy="215.0" r="2.80" fill="#c4bf1c"/><circle cx="775.8" cy="214.4" r="1.90" fill="#f6f24e"/><circle cx="778.7" cy="220.0" r="2.80" fill="#c4bf1c"/><circle cx="778.2" cy="219.4" r="1.90" fill="#f6f24e"/><circle cx="776.3" cy="225.0" r="2.80" fill="#c4bf1c"/><circle cx="775.8" cy="224.4" r="1.90" fill="#f6f24e"/><circle cx="778.7" cy="230.0" r="2.80" fill="#c4bf1c"/><circle cx="778.2" cy="229.4" r="1.90" fill="#f6f24e"/><circle cx="776.3" cy="235.0" r="2.80" fill="#c4bf1c"/><circle cx="775.8" cy="234.4" r="1.90" fill="#f6f24e"/><circle cx="784.6" cy="165.0" r="2.80" fill="#c4bf1c"/><circle cx="784.1" cy="164.4" r="1.90" fill="#f6f24e"/><circle cx="787.0" cy="170.0" r="2.80" fill="#c4bf1c"/><circle cx="786.5" cy="169.4" r="1.90" fill="#f6f24e"/><circle cx="784.6" cy="175.0" r="2.80" fill="#c4bf1c"/><circle cx="784.1" cy="174.4" r="1.90" fill="#f6f24e"/><circle cx="787.0" cy="180.0" r="2.80" fill="#c4bf1c"/><circle cx="786.5" cy="179.4" r="1.90" fill="#f6f24e"/><circle cx="784.6" cy="185.0" r="2.80" fill="#c4bf1c"/><circle cx="784.1" cy="184.4" r="1.90" fill="#f6f24e"/><circle cx="787.0" cy="190.0" r="2.80" fill="#c4bf1c"/><circle cx="786.5" cy="189.4" r="1.90" fill="#f6f24e"/><circle cx="784.6" cy="195.0" r="2.80" fill="#c4bf1c"/><circle cx="784.1" cy="194.4" r="1.90" fill="#f6f24e"/><circle cx="787.0" cy="200.0" r="2.80" fill="#c4bf1c"/><circle cx="786.5" cy="199.4" r="1.90" fill="#f6f24e"/><circle cx="784.6" cy="205.0" r="2.80" fill="#c4bf1c"/><circle cx="784.1" cy="204.4" r="1.90" fill="#f6f24e"/><circle cx="787.0" cy="210.0" r="2.80" fill="#c4bf1c"/><circle cx="786.5" cy="209.4" r="1.90" fill="#f6f24e"/><circle cx="784.6" cy="215.0" r="2.80" fill="#c4bf1c"/><circle cx="784.1" cy="214.4" r="1.90" fill="#f6f24e"/><circle cx="787.0" cy="220.0" r="2.80" fill="#c4bf1c"/><circle cx="786.5" cy="219.4" r="1.90" fill="#f6f24e"/><circle cx="784.6" cy="225.0" r="2.80" fill="#c4bf1c"/><circle cx="784.1" cy="224.4" r="1.90" fill="#f6f24e"/><circle cx="787.0" cy="230.0" r="2.80" fill="#c4bf1c"/><circle cx="786.5" cy="229.4" r="1.90" fill="#f6f24e"/><circle cx="784.6" cy="235.0" r="2.80" fill="#c4bf1c"/><circle cx="784.1" cy="234.4" r="1.90" fill="#f6f24e"/></g>
<g clip-path="url(#cpS)"><path d="M720.6,236.5L722.7,228.7 M720.6,236.5L712.0,237.5 M720.6,236.5L730.0,241.5 M712.0,237.5L703.2,229.9 M712.0,237.5L712.4,244.4 M712.4,244.4L704.3,244.2 M712.4,244.4L722.1,249.4 M704.3,244.2L695.2,236.9 M704.3,244.2L705.8,249.1 M705.8,249.1L699.0,247.2 M705.8,249.1L715.3,253.9 M699.0,247.2L690.3,240.5 M699.0,247.2L701.7,249.9 M701.7,249.9L710.4,254.3 M703.2,229.9L704.9,221.3 M703.2,229.9L694.6,229.5 M694.6,229.5L686.5,220.2 M694.6,229.5L695.2,236.9 M695.2,236.9L688.1,235.1 M688.1,235.1L680.3,226.1 M688.1,235.1L690.3,240.5 M690.3,240.5L685.3,237.2 M685.3,237.2L678.2,228.9 M686.5,220.2L687.7,211.2 M686.5,220.2L679.5,218.6 M679.5,218.6L673.6,208.7 M679.5,218.6L680.3,226.1 M680.3,226.1L675.5,223.3 M675.5,223.3L670.2,213.8 M675.5,223.3L678.2,228.9 M673.6,208.7L674.3,199.7 M673.6,208.7L669.2,206.7 M669.2,206.7L666.0,197.4 M669.2,206.7L670.2,213.8 M670.2,213.8L668.0,210.9 M668.0,210.9L665.1,202.1 M666.0,197.4L666.4,189.0 M666.0,197.4L664.0,195.7 M664.0,195.7L662.9,187.7 M664.0,195.7L665.1,202.1 M662.9,187.7L663.2,180.2 M662.9,187.7L662.6,185.2 M722.9,128.0L720.9,121.4 M722.9,128.0L716.2,135.0 M722.9,128.0L733.8,127.5 M716.2,135.0L705.4,135.4 M716.2,135.0L720.6,143.7 M720.6,143.7L713.6,153.7 M720.6,143.7L733.0,143.3 M713.6,153.7L701.7,154.0 M713.6,153.7L719.2,164.9 M719.2,164.9L712.5,177.0 M719.2,164.9L732.5,164.6 M712.5,177.0L700.1,177.3 M712.5,177.0L719.1,188.9 M719.1,188.9L713.4,200.9 M719.1,188.9L732.5,188.9 M713.4,200.9L701.3,201.2 M713.4,200.9L720.5,211.3 M720.5,211.3L715.8,221.0 M720.5,211.3L733.0,211.4 M715.8,221.0L704.9,221.3 M715.8,221.0L722.7,228.7 M722.7,228.7L733.9,229.0 M705.4,135.4L703.9,128.0 M705.4,135.4L698.0,144.4 M698.0,144.4L688.4,145.9 M698.0,144.4L701.7,154.0 M701.7,154.0L694.8,165.6 M694.8,165.6L684.6,166.5 M694.8,165.6L700.1,177.3 M700.1,177.3L694.6,189.6 M694.6,189.6L684.3,189.7 M694.6,189.6L701.3,201.2 M701.3,201.2L697.5,211.8 M697.5,211.8L687.7,211.2 M697.5,211.8L704.9,221.3 M688.4,145.9L687.4,138.0 M688.4,145.9L681.9,156.4 M681.9,156.4L674.9,158.2 M681.9,156.4L684.6,166.5 M684.6,166.5L679.6,178.2 M679.6,178.2L672.6,178.8 M679.6,178.2L684.3,189.7 M684.3,189.7L681.3,200.6 M681.3,200.6L674.3,199.7 M681.3,200.6L687.7,211.2 M674.9,158.2L674.4,150.2 M674.9,158.2L670.6,168.9 M670.6,168.9L666.7,170.2 M670.6,168.9L672.6,178.8 M672.6,178.8L670.3,189.3 M670.3,189.3L666.4,189.0 M670.3,189.3L674.3,199.7 M666.7,170.2L666.5,162.5 M666.7,170.2L664.7,179.8 M664.7,179.8L663.2,180.2 M664.7,179.8L666.4,189.0 M663.2,180.2L663.1,173.2 M702.6,113.7L700.0,115.3 M700.0,115.3L691.5,121.5 M700.0,115.3L706.6,112.7 M706.6,112.7L705.1,116.3 M706.6,112.7L715.8,108.4 M705.1,116.3L696.2,123.0 M705.1,116.3L713.0,115.4 M713.0,115.4L712.5,121.0 M713.0,115.4L722.4,110.9 M712.5,121.0L703.9,128.0 M712.5,121.0L720.9,121.4 M720.9,121.4L730.0,116.9 M686.5,125.5L691.5,121.5 M691.5,121.5L689.2,125.6 M689.2,125.6L681.5,134.2 M689.2,125.6L696.2,123.0 M696.2,123.0L695.4,129.1 M695.4,129.1L687.4,138.0 M695.4,129.1L703.9,128.0 M679.4,133.3L676.7,137.8 M676.7,137.8L671.2,147.1 M676.7,137.8L681.5,134.2 M681.5,134.2L680.4,140.5 M680.4,140.5L674.4,150.2 M680.4,140.5L687.4,138.0 M669.0,150.8L671.2,147.1 M671.2,147.1L670.0,153.2 M670.0,153.2L666.5,162.5 M670.0,153.2L674.4,150.2 M665.8,159.6L664.5,165.2 M664.5,165.2L663.1,173.2 M664.5,165.2L666.5,162.5 M811.9,178.7L813.7,170.9 M811.9,178.7L807.2,178.3 M811.9,178.7L814.0,187.0 M807.2,178.3L803.5,167.8 M807.2,178.3L803.9,188.5 M803.9,188.5L796.2,188.9 M803.9,188.5L806.6,197.7 M796.2,188.9L791.8,177.4 M796.2,188.9L790.5,200.2 M790.5,200.2L779.6,201.1 M790.5,200.2L793.8,210.0 M779.6,201.1L774.2,189.4 M779.6,201.1L772.2,212.2 M772.2,212.2L759.4,212.6 M772.2,212.2L776.1,221.9 M759.4,212.6L753.2,201.5 M759.4,212.6L752.2,222.2 M752.2,222.2L739.6,221.5 M752.2,222.2L756.4,231.3 M739.6,221.5L733.0,211.4 M739.6,221.5L733.9,229.0 M733.9,229.0L738.2,237.1 M803.5,167.8L805.9,159.3 M803.5,167.8L795.9,166.5 M795.9,166.5L789.8,155.2 M795.9,166.5L791.8,177.4 M791.8,177.4L780.7,177.1 M780.7,177.1L774.0,164.7 M780.7,177.1L774.2,189.4 M774.2,189.4L760.6,189.4 M760.6,189.4L753.6,176.7 M760.6,189.4L753.2,201.5 M753.2,201.5L739.4,201.0 M739.4,201.0L732.5,188.9 M739.4,201.0L733.0,211.4 M789.8,155.2L792.8,146.4 M789.8,155.2L779.1,153.7 M779.1,153.7L771.5,143.0 M779.1,153.7L774.0,164.7 M774.0,164.7L760.4,164.2 M760.4,164.2L753.0,152.5 M760.4,164.2L753.6,176.7 M753.6,176.7L739.3,176.6 M739.3,176.6L732.5,164.6 M739.3,176.6L732.5,188.9 M771.5,143.0L775.2,134.4 M771.5,143.0L759.0,142.3 M759.0,142.3L751.7,133.4 M759.0,142.3L753.0,152.5 M753.0,152.5L739.3,152.9 M739.3,152.9L733.0,143.3 M739.3,152.9L732.5,164.6 M751.7,133.4L755.8,125.5 M751.7,133.4L739.4,134.0 M739.4,134.0L733.8,127.5 M739.4,134.0L733.0,143.3 M733.8,127.5L738.0,120.5 M764.0,257.0L763.9,256.6 M746.9,260.2L745.9,260.0 M763.9,256.6L772.5,252.8 M763.9,256.6L754.8,258.1 M754.8,258.1L753.7,255.5 M754.8,258.1L745.9,260.0 M745.9,260.0L735.6,259.4 M735.6,259.4L734.0,256.8 M735.6,259.4L727.1,259.1 M727.1,259.1L717.2,256.4 M717.2,256.4L715.3,253.9 M717.2,256.4L710.4,254.3 M753.7,255.5L762.7,251.3 M753.7,255.5L743.3,254.9 M743.3,254.9L741.8,250.2 M743.3,254.9L734.0,256.8 M734.0,256.8L723.5,254.0 M723.5,254.0L722.1,249.4 M723.5,254.0L715.3,253.9 M741.8,250.2L750.7,245.8 M741.8,250.2L731.2,247.5 M731.2,247.5L730.0,241.5 M731.2,247.5L722.1,249.4 M730.0,241.5L738.2,237.1 M762.7,106.6L753.9,104.8 M762.7,106.6L771.0,109.7 M753.9,104.8L745.3,103.6 M753.9,104.8L752.9,106.1 M752.9,106.1L742.9,106.4 M752.9,106.1L761.6,109.5 M742.9,106.4L733.9,105.2 M742.9,106.4L741.5,109.8 M741.5,109.8L731.2,112.0 M741.5,109.8L750.1,113.3 M731.2,112.0L722.4,110.9 M731.2,112.0L730.0,116.9 M730.0,116.9L738.0,120.5 M745.3,103.6L735.5,103.8 M735.5,103.8L727.3,104.8 M735.5,103.8L733.9,105.2 M733.9,105.2L723.8,107.5 M723.8,107.5L715.8,108.4 M723.8,107.5L722.4,110.9 M717.7,107.0L715.8,108.4 M810.1,219.0L812.3,214.5 M812.3,214.5L815.9,204.7 M812.3,214.5L808.9,218.8 M815.9,204.7L817.4,199.9 M815.9,204.7L816.4,199.4 M816.4,199.4L818.1,189.4 M816.4,199.4L813.2,203.0 M818.1,189.4L819.4,185.0 M818.1,189.4L817.0,184.2 M817.0,184.2L816.8,174.6 M817.0,184.2L814.0,187.0 M819.4,185.0L819.2,175.3 M816.8,174.6L817.7,170.1 M816.8,174.6L813.7,170.9 M817.7,170.1L819.2,175.3 M817.7,170.1L815.6,160.3 M815.6,160.3L815.0,155.8 M815.6,160.3L812.3,155.8 M815.0,155.8L810.9,146.4 M810.9,146.4L807.4,141.4 M738.2,237.1L748.3,238.6 M748.3,238.6L750.7,245.8 M748.3,238.6L756.4,231.3 M756.4,231.3L767.7,231.4 M767.7,231.4L769.9,239.2 M767.7,231.4L776.1,221.9 M776.1,221.9L786.8,220.6 M786.8,220.6L788.8,228.7 M786.8,220.6L793.8,210.0 M793.8,210.0L802.1,207.9 M802.1,207.9L803.8,215.8 M802.1,207.9L806.6,197.7 M806.6,197.7L812.0,195.9 M812.0,195.9L813.2,203.0 M812.0,195.9L814.0,187.0 M750.7,245.8L761.1,246.2 M761.1,246.2L762.7,251.3 M761.1,246.2L769.9,239.2 M769.9,239.2L780.4,237.9 M780.4,237.9L781.1,243.6 M780.4,237.9L788.8,228.7 M788.8,228.7L797.4,225.9 M797.4,225.9L797.4,232.0 M797.4,225.9L803.8,215.8 M803.8,215.8L809.4,212.7 M809.4,212.7L808.9,218.8 M809.4,212.7L813.2,203.0 M762.7,251.3L772.3,250.0 M772.3,250.0L772.5,252.8 M772.3,250.0L781.1,243.6 M781.1,243.6L789.5,240.5 M789.5,240.5L788.5,243.8 M789.5,240.5L797.4,232.0 M797.4,232.0L803.2,228.0 M803.2,228.0L801.4,232.1 M803.2,228.0L808.9,218.8 M772.5,252.8L780.2,249.7 M780.2,249.7L779.0,250.6 M780.2,249.7L788.5,243.8 M788.5,243.8L794.4,239.5 M794.4,239.5L801.4,232.1 M738.0,120.5L747.8,119.1 M747.8,119.1L755.8,125.5 M747.8,119.1L750.1,113.3 M750.1,113.3L760.2,113.2 M760.2,113.2L768.8,119.3 M760.2,113.2L761.6,109.5 M761.6,109.5L770.9,111.2 M770.9,111.2L779.6,116.8 M770.9,111.2L771.0,109.7 M771.0,109.7L778.7,113.1 M778.7,113.1L786.8,118.3 M755.8,125.5L766.7,125.8 M766.7,125.8L775.2,134.4 M766.7,125.8L768.8,119.3 M768.8,119.3L779.0,121.1 M779.0,121.1L787.4,129.5 M779.0,121.1L779.6,116.8 M779.6,116.8L787.9,120.4 M787.9,120.4L795.7,128.2 M787.9,120.4L786.8,118.3 M775.2,134.4L785.7,136.3 M785.7,136.3L792.8,146.4 M785.7,136.3L787.4,129.5 M787.4,129.5L795.9,132.9 M795.9,132.9L802.5,142.6 M795.9,132.9L795.7,128.2 M795.7,128.2L801.6,132.8 M801.6,132.8L807.4,141.4 M801.6,132.8L799.6,129.8 M792.8,146.4L801.1,149.2 M801.1,149.2L805.9,159.3 M801.1,149.2L802.5,142.6 M802.5,142.6L808.1,146.4 M808.1,146.4L812.3,155.8 M808.1,146.4L807.4,141.4 M805.9,159.3L811.3,162.0 M811.3,162.0L813.7,170.9 M811.3,162.0L812.3,155.8" fill="none" stroke="#716d75" stroke-width="3" stroke-linecap="round" stroke-linejoin="round" /><path d="M720.6,236.5L722.7,228.7 M720.6,236.5L712.0,237.5 M720.6,236.5L730.0,241.5 M712.0,237.5L703.2,229.9 M712.0,237.5L712.4,244.4 M712.4,244.4L704.3,244.2 M712.4,244.4L722.1,249.4 M704.3,244.2L695.2,236.9 M704.3,244.2L705.8,249.1 M705.8,249.1L699.0,247.2 M705.8,249.1L715.3,253.9 M699.0,247.2L690.3,240.5 M699.0,247.2L701.7,249.9 M701.7,249.9L710.4,254.3 M703.2,229.9L704.9,221.3 M703.2,229.9L694.6,229.5 M694.6,229.5L686.5,220.2 M694.6,229.5L695.2,236.9 M695.2,236.9L688.1,235.1 M688.1,235.1L680.3,226.1 M688.1,235.1L690.3,240.5 M690.3,240.5L685.3,237.2 M685.3,237.2L678.2,228.9 M686.5,220.2L687.7,211.2 M686.5,220.2L679.5,218.6 M679.5,218.6L673.6,208.7 M679.5,218.6L680.3,226.1 M680.3,226.1L675.5,223.3 M675.5,223.3L670.2,213.8 M675.5,223.3L678.2,228.9 M673.6,208.7L674.3,199.7 M673.6,208.7L669.2,206.7 M669.2,206.7L666.0,197.4 M669.2,206.7L670.2,213.8 M670.2,213.8L668.0,210.9 M668.0,210.9L665.1,202.1 M666.0,197.4L666.4,189.0 M666.0,197.4L664.0,195.7 M664.0,195.7L662.9,187.7 M664.0,195.7L665.1,202.1 M662.9,187.7L663.2,180.2 M662.9,187.7L662.6,185.2 M722.9,128.0L720.9,121.4 M722.9,128.0L716.2,135.0 M722.9,128.0L733.8,127.5 M716.2,135.0L705.4,135.4 M716.2,135.0L720.6,143.7 M720.6,143.7L713.6,153.7 M720.6,143.7L733.0,143.3 M713.6,153.7L701.7,154.0 M713.6,153.7L719.2,164.9 M719.2,164.9L712.5,177.0 M719.2,164.9L732.5,164.6 M712.5,177.0L700.1,177.3 M712.5,177.0L719.1,188.9 M719.1,188.9L713.4,200.9 M719.1,188.9L732.5,188.9 M713.4,200.9L701.3,201.2 M713.4,200.9L720.5,211.3 M720.5,211.3L715.8,221.0 M720.5,211.3L733.0,211.4 M715.8,221.0L704.9,221.3 M715.8,221.0L722.7,228.7 M722.7,228.7L733.9,229.0 M705.4,135.4L703.9,128.0 M705.4,135.4L698.0,144.4 M698.0,144.4L688.4,145.9 M698.0,144.4L701.7,154.0 M701.7,154.0L694.8,165.6 M694.8,165.6L684.6,166.5 M694.8,165.6L700.1,177.3 M700.1,177.3L694.6,189.6 M694.6,189.6L684.3,189.7 M694.6,189.6L701.3,201.2 M701.3,201.2L697.5,211.8 M697.5,211.8L687.7,211.2 M697.5,211.8L704.9,221.3 M688.4,145.9L687.4,138.0 M688.4,145.9L681.9,156.4 M681.9,156.4L674.9,158.2 M681.9,156.4L684.6,166.5 M684.6,166.5L679.6,178.2 M679.6,178.2L672.6,178.8 M679.6,178.2L684.3,189.7 M684.3,189.7L681.3,200.6 M681.3,200.6L674.3,199.7 M681.3,200.6L687.7,211.2 M674.9,158.2L674.4,150.2 M674.9,158.2L670.6,168.9 M670.6,168.9L666.7,170.2 M670.6,168.9L672.6,178.8 M672.6,178.8L670.3,189.3 M670.3,189.3L666.4,189.0 M670.3,189.3L674.3,199.7 M666.7,170.2L666.5,162.5 M666.7,170.2L664.7,179.8 M664.7,179.8L663.2,180.2 M664.7,179.8L666.4,189.0 M663.2,180.2L663.1,173.2 M702.6,113.7L700.0,115.3 M700.0,115.3L691.5,121.5 M700.0,115.3L706.6,112.7 M706.6,112.7L705.1,116.3 M706.6,112.7L715.8,108.4 M705.1,116.3L696.2,123.0 M705.1,116.3L713.0,115.4 M713.0,115.4L712.5,121.0 M713.0,115.4L722.4,110.9 M712.5,121.0L703.9,128.0 M712.5,121.0L720.9,121.4 M720.9,121.4L730.0,116.9 M686.5,125.5L691.5,121.5 M691.5,121.5L689.2,125.6 M689.2,125.6L681.5,134.2 M689.2,125.6L696.2,123.0 M696.2,123.0L695.4,129.1 M695.4,129.1L687.4,138.0 M695.4,129.1L703.9,128.0 M679.4,133.3L676.7,137.8 M676.7,137.8L671.2,147.1 M676.7,137.8L681.5,134.2 M681.5,134.2L680.4,140.5 M680.4,140.5L674.4,150.2 M680.4,140.5L687.4,138.0 M669.0,150.8L671.2,147.1 M671.2,147.1L670.0,153.2 M670.0,153.2L666.5,162.5 M670.0,153.2L674.4,150.2 M665.8,159.6L664.5,165.2 M664.5,165.2L663.1,173.2 M664.5,165.2L666.5,162.5 M811.9,178.7L813.7,170.9 M811.9,178.7L807.2,178.3 M811.9,178.7L814.0,187.0 M807.2,178.3L803.5,167.8 M807.2,178.3L803.9,188.5 M803.9,188.5L796.2,188.9 M803.9,188.5L806.6,197.7 M796.2,188.9L791.8,177.4 M796.2,188.9L790.5,200.2 M790.5,200.2L779.6,201.1 M790.5,200.2L793.8,210.0 M779.6,201.1L774.2,189.4 M779.6,201.1L772.2,212.2 M772.2,212.2L759.4,212.6 M772.2,212.2L776.1,221.9 M759.4,212.6L753.2,201.5 M759.4,212.6L752.2,222.2 M752.2,222.2L739.6,221.5 M752.2,222.2L756.4,231.3 M739.6,221.5L733.0,211.4 M739.6,221.5L733.9,229.0 M733.9,229.0L738.2,237.1 M803.5,167.8L805.9,159.3 M803.5,167.8L795.9,166.5 M795.9,166.5L789.8,155.2 M795.9,166.5L791.8,177.4 M791.8,177.4L780.7,177.1 M780.7,177.1L774.0,164.7 M780.7,177.1L774.2,189.4 M774.2,189.4L760.6,189.4 M760.6,189.4L753.6,176.7 M760.6,189.4L753.2,201.5 M753.2,201.5L739.4,201.0 M739.4,201.0L732.5,188.9 M739.4,201.0L733.0,211.4 M789.8,155.2L792.8,146.4 M789.8,155.2L779.1,153.7 M779.1,153.7L771.5,143.0 M779.1,153.7L774.0,164.7 M774.0,164.7L760.4,164.2 M760.4,164.2L753.0,152.5 M760.4,164.2L753.6,176.7 M753.6,176.7L739.3,176.6 M739.3,176.6L732.5,164.6 M739.3,176.6L732.5,188.9 M771.5,143.0L775.2,134.4 M771.5,143.0L759.0,142.3 M759.0,142.3L751.7,133.4 M759.0,142.3L753.0,152.5 M753.0,152.5L739.3,152.9 M739.3,152.9L733.0,143.3 M739.3,152.9L732.5,164.6 M751.7,133.4L755.8,125.5 M751.7,133.4L739.4,134.0 M739.4,134.0L733.8,127.5 M739.4,134.0L733.0,143.3 M733.8,127.5L738.0,120.5 M764.0,257.0L763.9,256.6 M746.9,260.2L745.9,260.0 M763.9,256.6L772.5,252.8 M763.9,256.6L754.8,258.1 M754.8,258.1L753.7,255.5 M754.8,258.1L745.9,260.0 M745.9,260.0L735.6,259.4 M735.6,259.4L734.0,256.8 M735.6,259.4L727.1,259.1 M727.1,259.1L717.2,256.4 M717.2,256.4L715.3,253.9 M717.2,256.4L710.4,254.3 M753.7,255.5L762.7,251.3 M753.7,255.5L743.3,254.9 M743.3,254.9L741.8,250.2 M743.3,254.9L734.0,256.8 M734.0,256.8L723.5,254.0 M723.5,254.0L722.1,249.4 M723.5,254.0L715.3,253.9 M741.8,250.2L750.7,245.8 M741.8,250.2L731.2,247.5 M731.2,247.5L730.0,241.5 M731.2,247.5L722.1,249.4 M730.0,241.5L738.2,237.1 M762.7,106.6L753.9,104.8 M762.7,106.6L771.0,109.7 M753.9,104.8L745.3,103.6 M753.9,104.8L752.9,106.1 M752.9,106.1L742.9,106.4 M752.9,106.1L761.6,109.5 M742.9,106.4L733.9,105.2 M742.9,106.4L741.5,109.8 M741.5,109.8L731.2,112.0 M741.5,109.8L750.1,113.3 M731.2,112.0L722.4,110.9 M731.2,112.0L730.0,116.9 M730.0,116.9L738.0,120.5 M745.3,103.6L735.5,103.8 M735.5,103.8L727.3,104.8 M735.5,103.8L733.9,105.2 M733.9,105.2L723.8,107.5 M723.8,107.5L715.8,108.4 M723.8,107.5L722.4,110.9 M717.7,107.0L715.8,108.4 M810.1,219.0L812.3,214.5 M812.3,214.5L815.9,204.7 M812.3,214.5L808.9,218.8 M815.9,204.7L817.4,199.9 M815.9,204.7L816.4,199.4 M816.4,199.4L818.1,189.4 M816.4,199.4L813.2,203.0 M818.1,189.4L819.4,185.0 M818.1,189.4L817.0,184.2 M817.0,184.2L816.8,174.6 M817.0,184.2L814.0,187.0 M819.4,185.0L819.2,175.3 M816.8,174.6L817.7,170.1 M816.8,174.6L813.7,170.9 M817.7,170.1L819.2,175.3 M817.7,170.1L815.6,160.3 M815.6,160.3L815.0,155.8 M815.6,160.3L812.3,155.8 M815.0,155.8L810.9,146.4 M810.9,146.4L807.4,141.4 M738.2,237.1L748.3,238.6 M748.3,238.6L750.7,245.8 M748.3,238.6L756.4,231.3 M756.4,231.3L767.7,231.4 M767.7,231.4L769.9,239.2 M767.7,231.4L776.1,221.9 M776.1,221.9L786.8,220.6 M786.8,220.6L788.8,228.7 M786.8,220.6L793.8,210.0 M793.8,210.0L802.1,207.9 M802.1,207.9L803.8,215.8 M802.1,207.9L806.6,197.7 M806.6,197.7L812.0,195.9 M812.0,195.9L813.2,203.0 M812.0,195.9L814.0,187.0 M750.7,245.8L761.1,246.2 M761.1,246.2L762.7,251.3 M761.1,246.2L769.9,239.2 M769.9,239.2L780.4,237.9 M780.4,237.9L781.1,243.6 M780.4,237.9L788.8,228.7 M788.8,228.7L797.4,225.9 M797.4,225.9L797.4,232.0 M797.4,225.9L803.8,215.8 M803.8,215.8L809.4,212.7 M809.4,212.7L808.9,218.8 M809.4,212.7L813.2,203.0 M762.7,251.3L772.3,250.0 M772.3,250.0L772.5,252.8 M772.3,250.0L781.1,243.6 M781.1,243.6L789.5,240.5 M789.5,240.5L788.5,243.8 M789.5,240.5L797.4,232.0 M797.4,232.0L803.2,228.0 M803.2,228.0L801.4,232.1 M803.2,228.0L808.9,218.8 M772.5,252.8L780.2,249.7 M780.2,249.7L779.0,250.6 M780.2,249.7L788.5,243.8 M788.5,243.8L794.4,239.5 M794.4,239.5L801.4,232.1 M738.0,120.5L747.8,119.1 M747.8,119.1L755.8,125.5 M747.8,119.1L750.1,113.3 M750.1,113.3L760.2,113.2 M760.2,113.2L768.8,119.3 M760.2,113.2L761.6,109.5 M761.6,109.5L770.9,111.2 M770.9,111.2L779.6,116.8 M770.9,111.2L771.0,109.7 M771.0,109.7L778.7,113.1 M778.7,113.1L786.8,118.3 M755.8,125.5L766.7,125.8 M766.7,125.8L775.2,134.4 M766.7,125.8L768.8,119.3 M768.8,119.3L779.0,121.1 M779.0,121.1L787.4,129.5 M779.0,121.1L779.6,116.8 M779.6,116.8L787.9,120.4 M787.9,120.4L795.7,128.2 M787.9,120.4L786.8,118.3 M775.2,134.4L785.7,136.3 M785.7,136.3L792.8,146.4 M785.7,136.3L787.4,129.5 M787.4,129.5L795.9,132.9 M795.9,132.9L802.5,142.6 M795.9,132.9L795.7,128.2 M795.7,128.2L801.6,132.8 M801.6,132.8L807.4,141.4 M801.6,132.8L799.6,129.8 M792.8,146.4L801.1,149.2 M801.1,149.2L805.9,159.3 M801.1,149.2L802.5,142.6 M802.5,142.6L808.1,146.4 M808.1,146.4L812.3,155.8 M808.1,146.4L807.4,141.4 M805.9,159.3L811.3,162.0 M811.3,162.0L813.7,170.9 M811.3,162.0L812.3,155.8" fill="none" stroke="#d0cdd5" stroke-width="1.6" stroke-linecap="round" /></g>
<g clip-path="url(#cpG)"><path d="M759.0,145.6L768.1,136.7 M759.0,145.6L745.1,143.7 M759.0,145.6L766.6,158.4 M745.1,143.7L739.3,130.6 M745.1,143.7L735.9,156.6 M735.9,156.6L719.7,156.1 M735.9,156.6L744.0,171.0 M719.7,156.1L713.7,141.9 M719.7,156.1L710.1,170.9 M710.1,170.9L694.5,171.3 M710.1,170.9L718.1,186.1 M694.5,171.3L688.7,157.1 M694.5,171.3L687.1,185.9 M687.1,185.9L675.1,186.0 M687.1,185.9L694.5,200.5 M675.1,186.0L670.0,172.9 M675.1,186.0L671.4,198.4 M671.4,198.4L663.9,197.4 M671.4,198.4L677.8,211.4 M663.9,197.4L659.7,185.9 M663.9,197.4L663.3,207.0 M663.3,207.0L659.5,206.9 M663.3,207.0L668.6,218.0 M739.3,130.6L749.5,121.8 M739.3,130.6L724.0,129.4 M724.0,129.4L719.1,118.7 M724.0,129.4L713.7,141.9 M713.7,141.9L698.2,142.5 M698.2,142.5L694.4,130.8 M698.2,142.5L688.7,157.1 M688.7,157.1L676.2,158.5 M676.2,158.5L673.6,146.6 M676.2,158.5L670.0,172.9 M670.0,172.9L662.2,173.8 M662.2,173.8L660.5,162.5 M662.2,173.8L659.7,185.9 M659.7,185.9L655.8,187.2 M719.1,118.7L729.8,110.3 M719.1,118.7L705.0,119.4 M705.0,119.4L702.6,112.3 M705.0,119.4L694.4,130.8 M694.4,130.8L682.3,133.4 M682.3,133.4L681.8,125.2 M682.3,133.4L673.6,146.6 M673.6,146.6L665.7,149.6 M665.7,149.6L666.4,140.8 M665.7,149.6L660.5,162.5 M660.5,162.5L656.5,165.2 M702.6,112.3L712.9,104.8 M702.6,112.3L691.5,115.3 M691.5,115.3L691.7,111.3 M691.5,115.3L681.8,125.2 M681.8,125.2L673.8,129.5 M673.8,129.5L675.7,124.3 M673.8,129.5L666.4,140.8 M666.4,140.8L662.2,144.7 M691.7,111.3L700.9,104.8 M691.7,111.3L684.0,115.8 M684.0,115.8L686.0,113.7 M684.0,115.8L675.7,124.3 M675.7,124.3L671.4,128.7 M773.7,100.6L779.3,103.5 M779.3,103.5L773.0,102.8 M779.3,103.5L790.0,109.6 M773.0,102.8L760.0,98.6 M773.0,102.8L778.2,108.9 M778.2,108.9L769.9,111.3 M778.2,108.9L790.2,115.7 M769.9,111.3L755.5,106.9 M769.9,111.3L774.3,120.6 M774.3,120.6L764.4,125.8 M774.3,120.6L787.0,127.6 M764.4,125.8L749.5,121.8 M764.4,125.8L768.1,136.7 M768.1,136.7L780.8,143.6 M762.4,97.0L755.0,95.7 M755.0,95.7L742.2,94.4 M755.0,95.7L760.0,98.6 M760.0,98.6L750.8,100.3 M750.8,100.3L736.4,98.8 M750.8,100.3L755.5,106.9 M755.5,106.9L745.0,112.1 M745.0,112.1L729.8,110.3 M745.0,112.1L749.5,121.8 M742.2,94.4L732.8,95.8 M732.8,95.8L720.5,97.3 M732.8,95.8L736.4,98.8 M736.4,98.8L726.0,103.6 M726.0,103.6L712.9,104.8 M726.0,103.6L729.8,110.3 M718.9,97.2L720.5,97.3 M720.5,97.3L710.9,101.5 M710.9,101.5L700.9,104.8 M710.9,101.5L712.9,104.8 M700.9,104.0L700.9,104.8 M659.5,206.9L656.2,198.5 M659.5,206.9L662.2,217.1 M656.2,198.5L655.8,187.2 M656.2,198.5L655.3,200.2 M655.3,200.2L658.0,210.3 M655.8,187.2L654.3,177.7 M654.3,177.7L656.5,165.2 M654.3,177.7L653.3,180.4 M656.5,165.2L657.5,156.3 M657.5,156.3L662.2,144.7 M657.5,156.3L656.3,159.9 M662.2,144.7L665.2,137.9 M828.2,173.3L826.9,164.5 M826.9,164.5L824.1,154.2 M826.9,164.5L825.7,165.9 M825.7,165.9L821.2,155.7 M825.7,165.9L826.1,178.2 M821.2,155.7L818.2,144.1 M821.2,155.7L816.6,157.5 M816.6,157.5L808.4,146.9 M816.6,157.5L816.9,171.0 M808.4,146.9L805.4,134.6 M808.4,146.9L800.7,149.6 M800.7,149.6L790.0,139.8 M800.7,149.6L800.6,163.4 M790.0,139.8L787.0,127.6 M790.0,139.8L780.8,143.6 M780.8,143.6L780.2,156.9 M824.1,154.2L820.0,144.1 M820.0,144.1L818.2,144.1 M818.2,144.1L810.6,133.7 M810.6,133.7L805.5,124.2 M810.6,133.7L805.4,134.6 M805.4,134.6L794.8,125.2 M794.8,125.2L790.2,115.7 M794.8,125.2L787.0,127.6 M808.1,125.5L805.5,124.2 M805.5,124.2L795.7,115.6 M795.7,115.6L790.0,109.6 M795.7,115.6L790.2,115.7 M793.4,111.8L790.0,109.6 M766.6,263.1L777.2,259.9 M766.6,263.1L762.0,261.1 M766.6,263.1L761.0,266.5 M762.0,261.1L769.8,254.2 M762.0,261.1L748.8,263.2 M748.8,263.2L741.2,258.7 M748.8,263.2L743.4,267.1 M741.2,258.7L748.5,251.0 M741.2,258.7L726.4,258.4 M726.4,258.4L716.8,250.5 M726.4,258.4L721.9,262.9 M716.8,250.5L722.6,241.8 M716.8,250.5L702.8,247.8 M702.8,247.8L693.4,237.0 M702.8,247.8L699.6,253.0 M693.4,237.0L697.2,227.3 M693.4,237.0L682.6,233.2 M682.6,233.2L675.4,221.3 M682.6,233.2L680.8,238.9 M675.4,221.3L677.8,211.4 M675.4,221.3L668.6,218.0 M668.6,218.0L667.6,224.0 M769.8,254.2L782.2,250.7 M769.8,254.2L764.0,248.7 M764.0,248.7L772.1,237.6 M764.0,248.7L748.5,251.0 M748.5,251.0L739.6,242.0 M739.6,242.0L747.6,229.4 M739.6,242.0L722.6,241.8 M722.6,241.8L712.4,229.3 M712.4,229.3L719.5,216.0 M712.4,229.3L697.2,227.3 M697.2,227.3L688.8,213.5 M688.8,213.5L694.5,200.5 M688.8,213.5L677.8,211.4 M772.1,237.6L786.2,233.9 M772.1,237.6L764.8,227.4 M764.8,227.4L772.5,212.9 M764.8,227.4L747.6,229.4 M747.6,229.4L737.7,215.9 M737.7,215.9L746.0,200.5 M737.7,215.9L719.5,216.0 M719.5,216.0L709.9,201.0 M709.9,201.0L718.1,186.1 M709.9,201.0L694.5,200.5 M772.5,212.9L787.5,209.6 M772.5,212.9L763.6,199.4 M763.6,199.4L770.4,184.4 M763.6,199.4L746.0,200.5 M746.0,200.5L736.0,185.6 M736.0,185.6L744.0,171.0 M736.0,185.6L718.1,186.1 M770.4,184.4L785.1,182.0 M770.4,184.4L760.8,170.8 M760.8,170.8L766.6,158.4 M760.8,170.8L744.0,171.0 M766.6,158.4L780.2,156.9 M666.6,228.4L672.2,235.8 M666.6,228.4L661.6,218.8 M661.6,218.8L662.2,217.1 M661.6,218.8L658.0,210.3 M662.2,217.1L667.6,224.0 M777.3,261.5L767.8,265.4 M777.3,261.5L784.2,258.3 M777.3,261.5L777.2,259.9 M784.2,258.3L793.2,252.3 M793.2,252.3L799.5,247.3 M793.2,252.3L794.1,249.9 M807.7,239.0L809.6,235.6 M767.8,265.4L761.0,266.5 M780.2,156.9L789.2,167.0 M789.2,167.0L785.1,182.0 M789.2,167.0L800.6,163.4 M800.6,163.4L808.7,174.3 M808.7,174.3L805.5,189.5 M808.7,174.3L816.9,171.0 M816.9,171.0L822.0,181.5 M822.0,181.5L819.6,195.9 M822.0,181.5L826.1,178.2 M826.1,178.2L827.8,187.4 M827.8,187.4L825.9,200.0 M827.8,187.4L828.7,184.0 M785.1,182.0L793.4,193.8 M793.4,193.8L787.5,209.6 M793.4,193.8L805.5,189.5 M805.5,189.5L811.4,200.6 M811.4,200.6L805.7,215.8 M811.4,200.6L819.6,195.9 M819.6,195.9L821.8,205.2 M821.8,205.2L816.7,218.7 M821.8,205.2L825.9,200.0 M825.9,200.0L825.0,207.2 M825.0,207.2L820.6,218.7 M787.5,209.6L793.8,220.5 M793.8,220.5L786.2,233.9 M793.8,220.5L805.7,215.8 M805.7,215.8L808.8,224.5 M808.8,224.5L801.2,236.7 M808.8,224.5L816.7,218.7 M816.7,218.7L816.4,224.9 M816.4,224.9L809.6,235.6 M816.4,224.9L820.6,218.7 M786.2,233.9L790.4,241.4 M790.4,241.4L782.2,250.7 M790.4,241.4L801.2,236.7 M801.2,236.7L802.2,241.6 M802.2,241.6L794.1,249.9 M802.2,241.6L809.6,235.6 M782.2,250.7L784.8,254.3 M784.8,254.3L777.2,259.9 M784.8,254.3L794.1,249.9 M667.6,224.0L672.7,233.1 M672.7,233.1L672.2,235.8 M672.7,233.1L680.8,238.9 M680.8,238.9L688.4,248.0 M688.4,248.0L687.1,250.3 M688.4,248.0L699.6,253.0 M699.6,253.0L709.1,260.3 M709.1,260.3L706.7,262.1 M709.1,260.3L721.9,262.9 M721.9,262.9L731.2,267.1 M731.2,267.1L728.0,268.5 M731.2,267.1L743.4,267.1 M743.4,267.1L750.9,268.4 M750.9,268.4L747.2,269.5 M750.9,268.4L761.0,266.5 M672.2,235.8L679.0,243.9 M679.0,243.9L687.1,250.3 M687.1,250.3L695.9,257.1 M695.9,257.1L706.7,262.1 M706.7,262.1L716.3,266.1 M716.3,266.1L728.0,268.5 M728.0,268.5L736.4,269.5" fill="none" stroke="#2f963a" stroke-width="3.1" stroke-linecap="round" stroke-linejoin="round" /><path d="M759.0,145.6L768.1,136.7 M759.0,145.6L745.1,143.7 M759.0,145.6L766.6,158.4 M745.1,143.7L739.3,130.6 M745.1,143.7L735.9,156.6 M735.9,156.6L719.7,156.1 M735.9,156.6L744.0,171.0 M719.7,156.1L713.7,141.9 M719.7,156.1L710.1,170.9 M710.1,170.9L694.5,171.3 M710.1,170.9L718.1,186.1 M694.5,171.3L688.7,157.1 M694.5,171.3L687.1,185.9 M687.1,185.9L675.1,186.0 M687.1,185.9L694.5,200.5 M675.1,186.0L670.0,172.9 M675.1,186.0L671.4,198.4 M671.4,198.4L663.9,197.4 M671.4,198.4L677.8,211.4 M663.9,197.4L659.7,185.9 M663.9,197.4L663.3,207.0 M663.3,207.0L659.5,206.9 M663.3,207.0L668.6,218.0 M739.3,130.6L749.5,121.8 M739.3,130.6L724.0,129.4 M724.0,129.4L719.1,118.7 M724.0,129.4L713.7,141.9 M713.7,141.9L698.2,142.5 M698.2,142.5L694.4,130.8 M698.2,142.5L688.7,157.1 M688.7,157.1L676.2,158.5 M676.2,158.5L673.6,146.6 M676.2,158.5L670.0,172.9 M670.0,172.9L662.2,173.8 M662.2,173.8L660.5,162.5 M662.2,173.8L659.7,185.9 M659.7,185.9L655.8,187.2 M719.1,118.7L729.8,110.3 M719.1,118.7L705.0,119.4 M705.0,119.4L702.6,112.3 M705.0,119.4L694.4,130.8 M694.4,130.8L682.3,133.4 M682.3,133.4L681.8,125.2 M682.3,133.4L673.6,146.6 M673.6,146.6L665.7,149.6 M665.7,149.6L666.4,140.8 M665.7,149.6L660.5,162.5 M660.5,162.5L656.5,165.2 M702.6,112.3L712.9,104.8 M702.6,112.3L691.5,115.3 M691.5,115.3L691.7,111.3 M691.5,115.3L681.8,125.2 M681.8,125.2L673.8,129.5 M673.8,129.5L675.7,124.3 M673.8,129.5L666.4,140.8 M666.4,140.8L662.2,144.7 M691.7,111.3L700.9,104.8 M691.7,111.3L684.0,115.8 M684.0,115.8L686.0,113.7 M684.0,115.8L675.7,124.3 M675.7,124.3L671.4,128.7 M773.7,100.6L779.3,103.5 M779.3,103.5L773.0,102.8 M779.3,103.5L790.0,109.6 M773.0,102.8L760.0,98.6 M773.0,102.8L778.2,108.9 M778.2,108.9L769.9,111.3 M778.2,108.9L790.2,115.7 M769.9,111.3L755.5,106.9 M769.9,111.3L774.3,120.6 M774.3,120.6L764.4,125.8 M774.3,120.6L787.0,127.6 M764.4,125.8L749.5,121.8 M764.4,125.8L768.1,136.7 M768.1,136.7L780.8,143.6 M762.4,97.0L755.0,95.7 M755.0,95.7L742.2,94.4 M755.0,95.7L760.0,98.6 M760.0,98.6L750.8,100.3 M750.8,100.3L736.4,98.8 M750.8,100.3L755.5,106.9 M755.5,106.9L745.0,112.1 M745.0,112.1L729.8,110.3 M745.0,112.1L749.5,121.8 M742.2,94.4L732.8,95.8 M732.8,95.8L720.5,97.3 M732.8,95.8L736.4,98.8 M736.4,98.8L726.0,103.6 M726.0,103.6L712.9,104.8 M726.0,103.6L729.8,110.3 M718.9,97.2L720.5,97.3 M720.5,97.3L710.9,101.5 M710.9,101.5L700.9,104.8 M710.9,101.5L712.9,104.8 M700.9,104.0L700.9,104.8 M659.5,206.9L656.2,198.5 M659.5,206.9L662.2,217.1 M656.2,198.5L655.8,187.2 M656.2,198.5L655.3,200.2 M655.3,200.2L658.0,210.3 M655.8,187.2L654.3,177.7 M654.3,177.7L656.5,165.2 M654.3,177.7L653.3,180.4 M656.5,165.2L657.5,156.3 M657.5,156.3L662.2,144.7 M657.5,156.3L656.3,159.9 M662.2,144.7L665.2,137.9 M828.2,173.3L826.9,164.5 M826.9,164.5L824.1,154.2 M826.9,164.5L825.7,165.9 M825.7,165.9L821.2,155.7 M825.7,165.9L826.1,178.2 M821.2,155.7L818.2,144.1 M821.2,155.7L816.6,157.5 M816.6,157.5L808.4,146.9 M816.6,157.5L816.9,171.0 M808.4,146.9L805.4,134.6 M808.4,146.9L800.7,149.6 M800.7,149.6L790.0,139.8 M800.7,149.6L800.6,163.4 M790.0,139.8L787.0,127.6 M790.0,139.8L780.8,143.6 M780.8,143.6L780.2,156.9 M824.1,154.2L820.0,144.1 M820.0,144.1L818.2,144.1 M818.2,144.1L810.6,133.7 M810.6,133.7L805.5,124.2 M810.6,133.7L805.4,134.6 M805.4,134.6L794.8,125.2 M794.8,125.2L790.2,115.7 M794.8,125.2L787.0,127.6 M808.1,125.5L805.5,124.2 M805.5,124.2L795.7,115.6 M795.7,115.6L790.0,109.6 M795.7,115.6L790.2,115.7 M793.4,111.8L790.0,109.6 M766.6,263.1L777.2,259.9 M766.6,263.1L762.0,261.1 M766.6,263.1L761.0,266.5 M762.0,261.1L769.8,254.2 M762.0,261.1L748.8,263.2 M748.8,263.2L741.2,258.7 M748.8,263.2L743.4,267.1 M741.2,258.7L748.5,251.0 M741.2,258.7L726.4,258.4 M726.4,258.4L716.8,250.5 M726.4,258.4L721.9,262.9 M716.8,250.5L722.6,241.8 M716.8,250.5L702.8,247.8 M702.8,247.8L693.4,237.0 M702.8,247.8L699.6,253.0 M693.4,237.0L697.2,227.3 M693.4,237.0L682.6,233.2 M682.6,233.2L675.4,221.3 M682.6,233.2L680.8,238.9 M675.4,221.3L677.8,211.4 M675.4,221.3L668.6,218.0 M668.6,218.0L667.6,224.0 M769.8,254.2L782.2,250.7 M769.8,254.2L764.0,248.7 M764.0,248.7L772.1,237.6 M764.0,248.7L748.5,251.0 M748.5,251.0L739.6,242.0 M739.6,242.0L747.6,229.4 M739.6,242.0L722.6,241.8 M722.6,241.8L712.4,229.3 M712.4,229.3L719.5,216.0 M712.4,229.3L697.2,227.3 M697.2,227.3L688.8,213.5 M688.8,213.5L694.5,200.5 M688.8,213.5L677.8,211.4 M772.1,237.6L786.2,233.9 M772.1,237.6L764.8,227.4 M764.8,227.4L772.5,212.9 M764.8,227.4L747.6,229.4 M747.6,229.4L737.7,215.9 M737.7,215.9L746.0,200.5 M737.7,215.9L719.5,216.0 M719.5,216.0L709.9,201.0 M709.9,201.0L718.1,186.1 M709.9,201.0L694.5,200.5 M772.5,212.9L787.5,209.6 M772.5,212.9L763.6,199.4 M763.6,199.4L770.4,184.4 M763.6,199.4L746.0,200.5 M746.0,200.5L736.0,185.6 M736.0,185.6L744.0,171.0 M736.0,185.6L718.1,186.1 M770.4,184.4L785.1,182.0 M770.4,184.4L760.8,170.8 M760.8,170.8L766.6,158.4 M760.8,170.8L744.0,171.0 M766.6,158.4L780.2,156.9 M666.6,228.4L672.2,235.8 M666.6,228.4L661.6,218.8 M661.6,218.8L662.2,217.1 M661.6,218.8L658.0,210.3 M662.2,217.1L667.6,224.0 M777.3,261.5L767.8,265.4 M777.3,261.5L784.2,258.3 M777.3,261.5L777.2,259.9 M784.2,258.3L793.2,252.3 M793.2,252.3L799.5,247.3 M793.2,252.3L794.1,249.9 M807.7,239.0L809.6,235.6 M767.8,265.4L761.0,266.5 M780.2,156.9L789.2,167.0 M789.2,167.0L785.1,182.0 M789.2,167.0L800.6,163.4 M800.6,163.4L808.7,174.3 M808.7,174.3L805.5,189.5 M808.7,174.3L816.9,171.0 M816.9,171.0L822.0,181.5 M822.0,181.5L819.6,195.9 M822.0,181.5L826.1,178.2 M826.1,178.2L827.8,187.4 M827.8,187.4L825.9,200.0 M827.8,187.4L828.7,184.0 M785.1,182.0L793.4,193.8 M793.4,193.8L787.5,209.6 M793.4,193.8L805.5,189.5 M805.5,189.5L811.4,200.6 M811.4,200.6L805.7,215.8 M811.4,200.6L819.6,195.9 M819.6,195.9L821.8,205.2 M821.8,205.2L816.7,218.7 M821.8,205.2L825.9,200.0 M825.9,200.0L825.0,207.2 M825.0,207.2L820.6,218.7 M787.5,209.6L793.8,220.5 M793.8,220.5L786.2,233.9 M793.8,220.5L805.7,215.8 M805.7,215.8L808.8,224.5 M808.8,224.5L801.2,236.7 M808.8,224.5L816.7,218.7 M816.7,218.7L816.4,224.9 M816.4,224.9L809.6,235.6 M816.4,224.9L820.6,218.7 M786.2,233.9L790.4,241.4 M790.4,241.4L782.2,250.7 M790.4,241.4L801.2,236.7 M801.2,236.7L802.2,241.6 M802.2,241.6L794.1,249.9 M802.2,241.6L809.6,235.6 M782.2,250.7L784.8,254.3 M784.8,254.3L777.2,259.9 M784.8,254.3L794.1,249.9 M667.6,224.0L672.7,233.1 M672.7,233.1L672.2,235.8 M672.7,233.1L680.8,238.9 M680.8,238.9L688.4,248.0 M688.4,248.0L687.1,250.3 M688.4,248.0L699.6,253.0 M699.6,253.0L709.1,260.3 M709.1,260.3L706.7,262.1 M709.1,260.3L721.9,262.9 M721.9,262.9L731.2,267.1 M731.2,267.1L728.0,268.5 M731.2,267.1L743.4,267.1 M743.4,267.1L750.9,268.4 M750.9,268.4L747.2,269.5 M750.9,268.4L761.0,266.5 M672.2,235.8L679.0,243.9 M679.0,243.9L687.1,250.3 M687.1,250.3L695.9,257.1 M695.9,257.1L706.7,262.1 M706.7,262.1L716.3,266.1 M716.3,266.1L728.0,268.5 M728.0,268.5L736.4,269.5" fill="none" stroke="#4ccc57" stroke-width="1.8" stroke-linecap="round" /></g></g><!--/sphere-->

<!-- formula -->
<text x="640" y="312.6" font-size="27.7">M/MC<tspan font-size="19" dy="6.4">x</tspan><tspan dy="-6.4">/MO</tspan><tspan font-size="19" dy="6.4">y</tspan><tspan dy="-6.4">@C</tspan></text>
</svg>
</body></html>
